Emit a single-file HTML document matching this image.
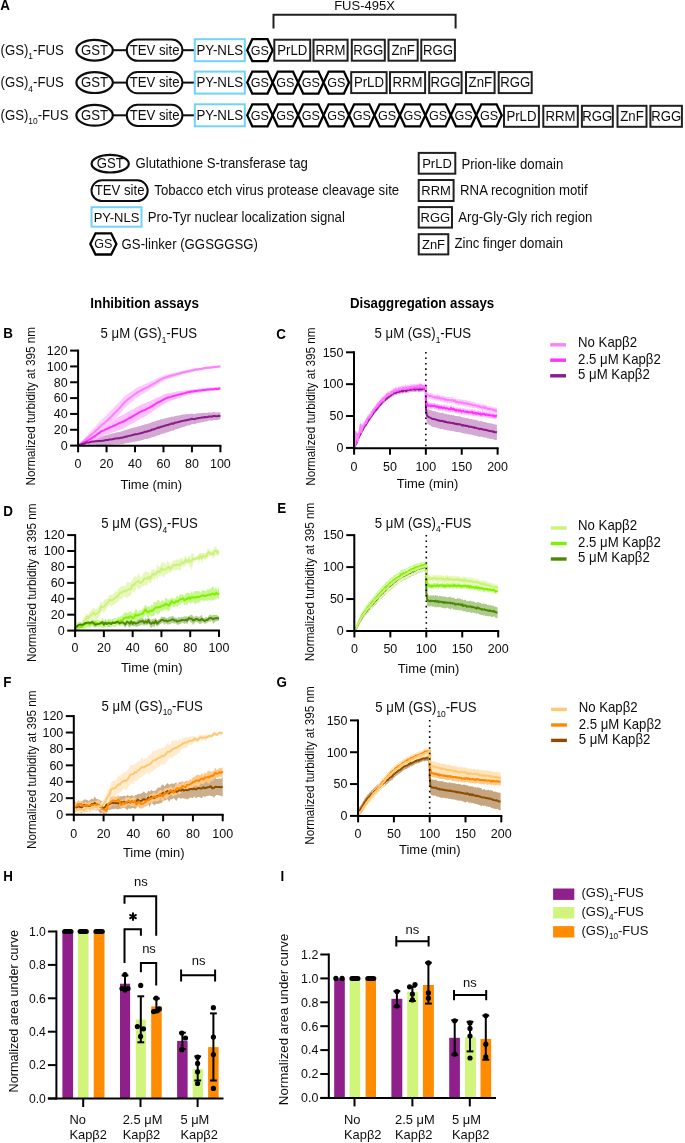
<!DOCTYPE html>
<html><head><meta charset="utf-8"><title>Figure</title>
<style>
html,body{margin:0;padding:0;background:#fff;}
svg{display:block;will-change:transform;}
svg text{font-family:"Liberation Sans", sans-serif;}
</style></head>
<body>
<svg width="685" height="1143" viewBox="0 0 685 1143">
<text transform="translate(0.30,9.90) scale(1,1.04)" font-size="13.4" font-weight="bold" fill="#000">A</text>
<path d="M273.5 28.5 V14.7 H455.6 V28.5" fill="none" stroke="#202020" stroke-width="2"/>
<text transform="translate(364.50,10.00) scale(1,1.04)" font-size="13" text-anchor="middle" fill="#0d0d0d">FUS-495X</text>
<text transform="translate(0.50,54.60) scale(1,1.04)" font-size="13.2" fill="#0d0d0d">(GS)<tspan font-size="8.40" dy="4.6">1</tspan><tspan dy="-4.6">-FUS</tspan></text>
<line x1="113" y1="50.2" x2="127" y2="50.2" stroke="#0d0d0d" stroke-width="2"/>
<line x1="183" y1="50.2" x2="195" y2="50.2" stroke="#0d0d0d" stroke-width="2"/>
<ellipse cx="94.6" cy="50.2" rx="18.2" ry="10.4" fill="#fff" stroke="#0d0d0d" stroke-width="2.2"/>
<text transform="translate(94.60,54.80) scale(1,1.04)" font-size="13.2" text-anchor="middle" fill="#0d0d0d">GST</text>
<rect x="126.8" y="39.6" width="55.6" height="21.2" rx="10.6" ry="10.6" fill="#fff" stroke="#0d0d0d" stroke-width="2"/>
<text transform="translate(154.60,54.80) scale(1,1.04)" font-size="13.2" text-anchor="middle" fill="#0d0d0d">TEV site</text>
<rect x="194.8" y="39.2" width="50" height="22" rx="0" ry="0" fill="#fff" stroke="#72d3f8" stroke-width="2"/>
<text transform="translate(219.80,54.80) scale(1,1.04)" font-size="13.3" text-anchor="middle" fill="#0d0d0d">PY-NLS</text>
<polygon points="247.2,50.2 252.29,39.2 267.56,39.2 272.65,50.2 267.56,61.2 252.29,61.2" fill="#fff" stroke="#000" stroke-width="2.3" stroke-linejoin="miter"/>
<text transform="translate(259.92,54.70) scale(1,1.04)" font-size="12.6" text-anchor="middle" fill="#0d0d0d">GS</text>
<rect x="274.3" y="39.7" width="35.89999999999998" height="21" fill="#fff" stroke="#202020" stroke-width="2"/>
<text transform="translate(292.25,54.80) scale(1,1.04)" font-size="13.2" text-anchor="middle" fill="#0d0d0d">PrLD</text>
<rect x="313.5" y="39.7" width="34.10000000000002" height="21" fill="#fff" stroke="#202020" stroke-width="2"/>
<text transform="translate(330.55,54.80) scale(1,1.04)" font-size="13.2" text-anchor="middle" fill="#0d0d0d">RRM</text>
<rect x="351.8" y="39.7" width="33.0" height="21" fill="#fff" stroke="#202020" stroke-width="2"/>
<text transform="translate(368.30,54.80) scale(1,1.04)" font-size="13.2" text-anchor="middle" fill="#0d0d0d">RGG</text>
<rect x="388.5" y="39.7" width="29.19999999999999" height="21" fill="#fff" stroke="#202020" stroke-width="2"/>
<text transform="translate(403.10,54.80) scale(1,1.04)" font-size="13.2" text-anchor="middle" fill="#0d0d0d">ZnF</text>
<rect x="421.3" y="39.7" width="33.599999999999966" height="21" fill="#fff" stroke="#202020" stroke-width="2"/>
<text transform="translate(438.10,54.80) scale(1,1.04)" font-size="13.2" text-anchor="middle" fill="#0d0d0d">RGG</text>
<text transform="translate(0.50,87.00) scale(1,1.04)" font-size="13.2" fill="#0d0d0d">(GS)<tspan font-size="8.40" dy="4.6">4</tspan><tspan dy="-4.6">-FUS</tspan></text>
<line x1="113" y1="82.6" x2="127" y2="82.6" stroke="#0d0d0d" stroke-width="2"/>
<line x1="183" y1="82.6" x2="195" y2="82.6" stroke="#0d0d0d" stroke-width="2"/>
<ellipse cx="94.6" cy="82.6" rx="18.2" ry="10.4" fill="#fff" stroke="#0d0d0d" stroke-width="2.2"/>
<text transform="translate(94.60,87.20) scale(1,1.04)" font-size="13.2" text-anchor="middle" fill="#0d0d0d">GST</text>
<rect x="126.8" y="72.0" width="55.6" height="21.2" rx="10.6" ry="10.6" fill="#fff" stroke="#0d0d0d" stroke-width="2"/>
<text transform="translate(154.60,87.20) scale(1,1.04)" font-size="13.2" text-anchor="middle" fill="#0d0d0d">TEV site</text>
<rect x="194.8" y="71.6" width="50" height="22" rx="0" ry="0" fill="#fff" stroke="#72d3f8" stroke-width="2"/>
<text transform="translate(219.80,87.20) scale(1,1.04)" font-size="13.3" text-anchor="middle" fill="#0d0d0d">PY-NLS</text>
<polygon points="247.2,82.6 252.29,71.6 267.56,71.6 272.65,82.6 267.56,93.6 252.29,93.6" fill="#fff" stroke="#000" stroke-width="2.3" stroke-linejoin="miter"/>
<text transform="translate(259.92,87.10) scale(1,1.04)" font-size="12.6" text-anchor="middle" fill="#0d0d0d">GS</text>
<polygon points="272.65,82.6 277.73999999999995,71.6 293.01,71.6 298.09999999999997,82.6 293.01,93.6 277.73999999999995,93.6" fill="#fff" stroke="#000" stroke-width="2.3" stroke-linejoin="miter"/>
<text transform="translate(285.38,87.10) scale(1,1.04)" font-size="12.6" text-anchor="middle" fill="#0d0d0d">GS</text>
<polygon points="298.09999999999997,82.6 303.18999999999994,71.6 318.46,71.6 323.54999999999995,82.6 318.46,93.6 303.18999999999994,93.6" fill="#fff" stroke="#000" stroke-width="2.3" stroke-linejoin="miter"/>
<text transform="translate(310.82,87.10) scale(1,1.04)" font-size="12.6" text-anchor="middle" fill="#0d0d0d">GS</text>
<polygon points="323.54999999999995,82.6 328.64,71.6 343.90999999999997,71.6 349.0,82.6 343.90999999999997,93.6 328.64,93.6" fill="#fff" stroke="#000" stroke-width="2.3" stroke-linejoin="miter"/>
<text transform="translate(336.27,87.10) scale(1,1.04)" font-size="12.6" text-anchor="middle" fill="#0d0d0d">GS</text>
<rect x="351.2" y="72.1" width="35.400000000000034" height="21" fill="#fff" stroke="#202020" stroke-width="2"/>
<text transform="translate(368.90,87.20) scale(1,1.04)" font-size="13.2" text-anchor="middle" fill="#0d0d0d">PrLD</text>
<rect x="390" y="72.1" width="35.10000000000002" height="21" fill="#fff" stroke="#202020" stroke-width="2"/>
<text transform="translate(407.55,87.20) scale(1,1.04)" font-size="13.2" text-anchor="middle" fill="#0d0d0d">RRM</text>
<rect x="429.2" y="72.1" width="32.400000000000034" height="21" fill="#fff" stroke="#202020" stroke-width="2"/>
<text transform="translate(445.40,87.20) scale(1,1.04)" font-size="13.2" text-anchor="middle" fill="#0d0d0d">RGG</text>
<rect x="466" y="72.1" width="28.600000000000023" height="21" fill="#fff" stroke="#202020" stroke-width="2"/>
<text transform="translate(480.30,87.20) scale(1,1.04)" font-size="13.2" text-anchor="middle" fill="#0d0d0d">ZnF</text>
<rect x="498.7" y="72.1" width="33.00000000000006" height="21" fill="#fff" stroke="#202020" stroke-width="2"/>
<text transform="translate(515.20,87.20) scale(1,1.04)" font-size="13.2" text-anchor="middle" fill="#0d0d0d">RGG</text>
<text transform="translate(0.50,119.70) scale(1,1.04)" font-size="13.2" fill="#0d0d0d">(GS)<tspan font-size="8.40" dy="4.6">10</tspan><tspan dy="-4.6">-FUS</tspan></text>
<line x1="113" y1="115.3" x2="127" y2="115.3" stroke="#0d0d0d" stroke-width="2"/>
<line x1="183" y1="115.3" x2="195" y2="115.3" stroke="#0d0d0d" stroke-width="2"/>
<ellipse cx="94.6" cy="115.3" rx="18.2" ry="10.4" fill="#fff" stroke="#0d0d0d" stroke-width="2.2"/>
<text transform="translate(94.60,119.90) scale(1,1.04)" font-size="13.2" text-anchor="middle" fill="#0d0d0d">GST</text>
<rect x="126.8" y="104.7" width="55.6" height="21.2" rx="10.6" ry="10.6" fill="#fff" stroke="#0d0d0d" stroke-width="2"/>
<text transform="translate(154.60,119.90) scale(1,1.04)" font-size="13.2" text-anchor="middle" fill="#0d0d0d">TEV site</text>
<rect x="194.8" y="104.3" width="50" height="22" rx="0" ry="0" fill="#fff" stroke="#72d3f8" stroke-width="2"/>
<text transform="translate(219.80,119.90) scale(1,1.04)" font-size="13.3" text-anchor="middle" fill="#0d0d0d">PY-NLS</text>
<polygon points="247.2,115.3 252.29,104.3 267.56,104.3 272.65,115.3 267.56,126.3 252.29,126.3" fill="#fff" stroke="#000" stroke-width="2.3" stroke-linejoin="miter"/>
<text transform="translate(259.92,119.80) scale(1,1.04)" font-size="12.6" text-anchor="middle" fill="#0d0d0d">GS</text>
<polygon points="272.65,115.3 277.73999999999995,104.3 293.01,104.3 298.09999999999997,115.3 293.01,126.3 277.73999999999995,126.3" fill="#fff" stroke="#000" stroke-width="2.3" stroke-linejoin="miter"/>
<text transform="translate(285.38,119.80) scale(1,1.04)" font-size="12.6" text-anchor="middle" fill="#0d0d0d">GS</text>
<polygon points="298.09999999999997,115.3 303.18999999999994,104.3 318.46,104.3 323.54999999999995,115.3 318.46,126.3 303.18999999999994,126.3" fill="#fff" stroke="#000" stroke-width="2.3" stroke-linejoin="miter"/>
<text transform="translate(310.82,119.80) scale(1,1.04)" font-size="12.6" text-anchor="middle" fill="#0d0d0d">GS</text>
<polygon points="323.54999999999995,115.3 328.64,104.3 343.90999999999997,104.3 349.0,115.3 343.90999999999997,126.3 328.64,126.3" fill="#fff" stroke="#000" stroke-width="2.3" stroke-linejoin="miter"/>
<text transform="translate(336.27,119.80) scale(1,1.04)" font-size="12.6" text-anchor="middle" fill="#0d0d0d">GS</text>
<polygon points="349.0,115.3 354.09,104.3 369.36,104.3 374.45,115.3 369.36,126.3 354.09,126.3" fill="#fff" stroke="#000" stroke-width="2.3" stroke-linejoin="miter"/>
<text transform="translate(361.73,119.80) scale(1,1.04)" font-size="12.6" text-anchor="middle" fill="#0d0d0d">GS</text>
<polygon points="374.45,115.3 379.53999999999996,104.3 394.81,104.3 399.9,115.3 394.81,126.3 379.53999999999996,126.3" fill="#fff" stroke="#000" stroke-width="2.3" stroke-linejoin="miter"/>
<text transform="translate(387.17,119.80) scale(1,1.04)" font-size="12.6" text-anchor="middle" fill="#0d0d0d">GS</text>
<polygon points="399.9,115.3 404.99,104.3 420.26,104.3 425.35,115.3 420.26,126.3 404.99,126.3" fill="#fff" stroke="#000" stroke-width="2.3" stroke-linejoin="miter"/>
<text transform="translate(412.62,119.80) scale(1,1.04)" font-size="12.6" text-anchor="middle" fill="#0d0d0d">GS</text>
<polygon points="425.35,115.3 430.44,104.3 445.71,104.3 450.79999999999995,115.3 445.71,126.3 430.44,126.3" fill="#fff" stroke="#000" stroke-width="2.3" stroke-linejoin="miter"/>
<text transform="translate(438.07,119.80) scale(1,1.04)" font-size="12.6" text-anchor="middle" fill="#0d0d0d">GS</text>
<polygon points="450.79999999999995,115.3 455.89,104.3 471.15999999999997,104.3 476.25,115.3 471.15999999999997,126.3 455.89,126.3" fill="#fff" stroke="#000" stroke-width="2.3" stroke-linejoin="miter"/>
<text transform="translate(463.52,119.80) scale(1,1.04)" font-size="12.6" text-anchor="middle" fill="#0d0d0d">GS</text>
<polygon points="476.25,115.3 481.34,104.3 496.61,104.3 501.7,115.3 496.61,126.3 481.34,126.3" fill="#fff" stroke="#000" stroke-width="2.3" stroke-linejoin="miter"/>
<text transform="translate(488.98,119.80) scale(1,1.04)" font-size="12.6" text-anchor="middle" fill="#0d0d0d">GS</text>
<rect x="504" y="105.8" width="34.89999999999998" height="21" fill="#fff" stroke="#202020" stroke-width="2"/>
<text transform="translate(521.45,120.90) scale(1,1.04)" font-size="13.2" text-anchor="middle" fill="#0d0d0d">PrLD</text>
<rect x="543.3" y="105.8" width="34.5" height="21" fill="#fff" stroke="#202020" stroke-width="2"/>
<text transform="translate(560.55,120.90) scale(1,1.04)" font-size="13.2" text-anchor="middle" fill="#0d0d0d">RRM</text>
<rect x="581.9" y="105.8" width="30.899999999999977" height="21" fill="#fff" stroke="#202020" stroke-width="2"/>
<text transform="translate(597.35,120.90) scale(1,1.04)" font-size="13.2" text-anchor="middle" fill="#0d0d0d">RGG</text>
<rect x="617.5" y="105.8" width="29.0" height="21" fill="#fff" stroke="#202020" stroke-width="2"/>
<text transform="translate(632.00,120.90) scale(1,1.04)" font-size="13.2" text-anchor="middle" fill="#0d0d0d">ZnF</text>
<rect x="650.4" y="105.8" width="31.5" height="21" fill="#fff" stroke="#202020" stroke-width="2"/>
<text transform="translate(666.15,120.90) scale(1,1.04)" font-size="13.2" text-anchor="middle" fill="#0d0d0d">RGG</text>
<ellipse cx="110.2" cy="163.7" rx="18.6" ry="8.8" fill="#fff" stroke="#0d0d0d" stroke-width="2.2"/>
<text transform="translate(110.20,168.30) scale(1,1.04)" font-size="13.2" text-anchor="middle" fill="#0d0d0d">GST</text>
<text transform="translate(135.60,168.00) scale(1,1.04)" font-size="13.2" fill="#0d0d0d">Glutathione S-transferase tag</text>
<rect x="91.5" y="180.3" width="56.2" height="20.8" rx="10.4" ry="10.4" fill="#fff" stroke="#0d0d0d" stroke-width="2"/>
<text transform="translate(119.60,195.30) scale(1,1.04)" font-size="13.2" text-anchor="middle" fill="#0d0d0d">TEV site</text>
<text transform="translate(154.30,195.20) scale(1,1.04)" font-size="13.2" fill="#0d0d0d">Tobacco etch virus protease cleavage site</text>
<rect x="91.5" y="207.2" width="50" height="19.5" rx="0" ry="0" fill="#fff" stroke="#72d3f8" stroke-width="2"/>
<text transform="translate(116.50,221.55) scale(1,1.04)" font-size="13" text-anchor="middle" fill="#0d0d0d">PY-NLS</text>
<text transform="translate(147.70,221.90) scale(1,1.04)" font-size="13.2" fill="#0d0d0d">Pro-Tyr nuclear localization signal</text>
<polygon points="90.3,243.9 95.52,233.3 111.18,233.3 116.4,243.9 111.18,254.5 95.52,254.5" fill="#fff" stroke="#000" stroke-width="2.3" stroke-linejoin="miter"/>
<text transform="translate(103.35,248.40) scale(1,1.04)" font-size="12.6" text-anchor="middle" fill="#0d0d0d">GS</text>
<text transform="translate(121.60,248.50) scale(1,1.04)" font-size="13.2" fill="#0d0d0d">GS-linker (GGSGGSG)</text>
<rect x="418.7" y="152.9" width="36.60000000000002" height="20.799999999999983" fill="#fff" stroke="#202020" stroke-width="2"/>
<text transform="translate(437.00,167.90) scale(1,1.04)" font-size="13" text-anchor="middle" fill="#0d0d0d">PrLD</text>
<text transform="translate(461.40,168.80) scale(1,1.04)" font-size="13.2" fill="#0d0d0d">Prion-like domain</text>
<rect x="418.7" y="180.0" width="34.900000000000034" height="21.0" fill="#fff" stroke="#202020" stroke-width="2"/>
<text transform="translate(436.15,195.10) scale(1,1.04)" font-size="13" text-anchor="middle" fill="#0d0d0d">RRM</text>
<text transform="translate(460.10,194.80) scale(1,1.04)" font-size="13.2" fill="#0d0d0d">RNA recognition motif</text>
<rect x="418.7" y="207.1" width="33.30000000000001" height="20.5" fill="#fff" stroke="#202020" stroke-width="2"/>
<text transform="translate(435.35,221.95) scale(1,1.04)" font-size="13" text-anchor="middle" fill="#0d0d0d">RGG</text>
<text transform="translate(458.20,221.70) scale(1,1.04)" font-size="13.2" fill="#0d0d0d">Arg-Gly-Gly rich region</text>
<rect x="418.7" y="234.2" width="29.600000000000023" height="20.200000000000017" fill="#fff" stroke="#202020" stroke-width="2"/>
<text transform="translate(433.50,248.90) scale(1,1.04)" font-size="13" text-anchor="middle" fill="#0d0d0d">ZnF</text>
<text transform="translate(454.50,248.20) scale(1,1.04)" font-size="13.2" fill="#0d0d0d">Zinc finger domain</text>
<text transform="translate(144.60,308.20) scale(1,1.04)" font-size="13.4" font-weight="bold" text-anchor="middle" fill="#000">Inhibition assays</text>
<text transform="translate(422.10,308.20) scale(1,1.04)" font-size="13.25" font-weight="bold" text-anchor="middle" fill="#000">Disaggregation assays</text>
<text transform="translate(3.30,337.80) scale(1,1.04)" font-size="13.4" font-weight="bold" fill="#000">B</text>
<text transform="translate(276.30,338.80) scale(1,1.04)" font-size="13.4" font-weight="bold" fill="#000">C</text>
<text transform="translate(3.20,515.70) scale(1,1.04)" font-size="13.4" font-weight="bold" fill="#000">D</text>
<text transform="translate(277.20,512.90) scale(1,1.04)" font-size="13.4" font-weight="bold" fill="#000">E</text>
<text transform="translate(3.20,687.00) scale(1,1.04)" font-size="13.4" font-weight="bold" fill="#000">F</text>
<text transform="translate(276.40,686.50) scale(1,1.04)" font-size="13.4" font-weight="bold" fill="#000">G</text>
<text transform="translate(3.20,880.80) scale(1,1.04)" font-size="13.4" font-weight="bold" fill="#000">H</text>
<text transform="translate(280.50,880.50) scale(1,1.04)" font-size="13.4" font-weight="bold" fill="#000">I</text>
<g>
<polygon points="78.1,445.2 79.5,444.5 80.9,444.1 82.4,442.9 83.8,442.3 85.2,441.6 86.6,440.5 88.1,440.1 89.5,439.5 90.9,438.8 92.3,438.3 93.8,438.1 95.2,437.6 96.6,437.5 98.0,437.1 99.4,436.7 100.9,436.6 102.3,436.3 103.7,436.0 105.1,435.4 106.6,435.1 108.0,434.7 109.4,434.3 110.8,434.2 112.3,433.6 113.7,433.2 115.1,432.8 116.5,432.6 117.9,432.2 119.4,432.1 120.8,431.4 122.2,431.3 123.6,430.8 125.1,430.0 126.5,430.1 127.9,429.2 129.3,428.9 130.8,428.6 132.2,428.1 133.6,427.7 135.0,427.2 136.4,427.0 137.9,426.6 139.3,426.2 140.7,425.9 142.1,425.3 143.6,425.0 145.0,424.2 146.4,424.3 147.8,423.7 149.2,423.2 150.7,422.9 152.1,421.8 153.5,422.0 154.9,421.3 156.4,420.9 157.8,420.1 159.2,420.2 160.6,419.3 162.1,419.2 163.5,418.7 164.9,418.4 166.3,417.8 167.7,417.8 169.2,417.3 170.6,416.9 172.0,416.4 173.4,416.8 174.9,415.9 176.3,415.7 177.7,415.7 179.1,415.3 180.6,415.2 182.0,414.6 183.4,414.6 184.8,414.5 186.2,414.3 187.7,414.1 189.1,414.0 190.5,414.0 191.9,413.4 193.4,413.9 194.8,414.1 196.2,413.4 197.6,413.4 199.1,413.2 200.5,413.2 201.9,413.1 203.3,412.9 204.7,412.7 206.2,412.9 207.6,412.8 209.0,412.3 210.4,412.5 211.9,412.7 213.3,412.1 214.7,412.3 216.1,412.4 217.6,412.5 219.0,412.2 220.4,412.3 220.4,419.4 219.0,419.5 217.6,419.9 216.1,420.0 214.7,420.0 213.3,419.9 211.9,420.7 210.4,420.6 209.0,420.6 207.6,421.2 206.2,421.5 204.7,421.5 203.3,421.9 201.9,422.2 200.5,422.5 199.1,422.7 197.6,423.1 196.2,423.4 194.8,424.3 193.4,424.3 191.9,424.1 190.5,424.9 189.1,425.2 187.7,425.6 186.2,426.0 184.8,426.5 183.4,426.9 182.0,427.2 180.6,428.0 179.1,428.3 177.7,428.9 176.3,429.2 174.9,429.6 173.4,430.7 172.0,430.5 170.6,431.2 169.2,431.7 167.7,432.3 166.3,432.5 164.9,433.2 163.5,433.6 162.1,434.1 160.6,434.3 159.2,435.3 157.8,435.2 156.4,436.0 154.9,436.4 153.5,437.2 152.1,436.9 150.7,438.0 149.2,438.2 147.8,438.7 146.4,439.2 145.0,439.1 143.6,439.8 142.1,440.1 140.7,440.6 139.3,440.8 137.9,441.1 136.4,441.4 135.0,441.5 133.6,441.8 132.2,442.1 130.8,442.5 129.3,442.7 127.9,442.8 126.5,443.5 125.1,443.2 123.6,443.9 122.2,444.2 120.8,444.1 119.4,444.5 117.9,444.4 116.5,444.6 115.1,444.5 113.7,444.7 112.3,444.8 110.8,445.1 109.4,445.0 108.0,445.1 106.6,445.1 105.1,445.1 103.7,445.3 102.3,445.3 100.9,445.2 99.4,445.1 98.0,445.0 96.6,445.0 95.2,444.8 93.8,444.8 92.3,444.6 90.9,444.7 89.5,444.8 88.1,444.8 86.6,444.6 85.2,445.0 83.8,445.1 82.4,445.0 80.9,445.4 79.5,445.3 78.1,446.0" fill="#d3a8d3" stroke="none"/>
<polygon points="78.1,445.0 79.5,444.5 80.9,443.2 82.4,442.0 83.8,440.7 85.2,439.7 86.6,438.4 88.1,437.2 89.5,436.1 90.9,434.9 92.3,433.8 93.8,432.6 95.2,431.5 96.6,430.1 98.0,429.0 99.4,428.0 100.9,426.5 102.3,425.6 103.7,424.8 105.1,424.0 106.6,423.2 108.0,422.5 109.4,421.8 110.8,421.0 112.3,420.4 113.7,419.4 115.1,418.9 116.5,418.1 117.9,417.3 119.4,416.6 120.8,415.9 122.2,415.1 123.6,414.7 125.1,413.6 126.5,412.8 127.9,412.1 129.3,411.1 130.8,410.5 132.2,409.5 133.6,408.9 135.0,407.9 136.4,407.2 137.9,406.5 139.3,405.4 140.7,404.8 142.1,404.3 143.6,403.7 145.0,403.3 146.4,402.8 147.8,402.0 149.2,401.6 150.7,400.7 152.1,400.2 153.5,399.4 154.9,398.8 156.4,397.8 157.8,397.2 159.2,396.7 160.6,396.1 162.1,395.4 163.5,394.8 164.9,394.3 166.3,393.7 167.7,393.3 169.2,393.0 170.6,392.8 172.0,392.4 173.4,392.2 174.9,391.9 176.3,391.8 177.7,391.3 179.1,391.3 180.6,391.1 182.0,390.7 183.4,390.5 184.8,390.3 186.2,390.0 187.7,389.7 189.1,389.8 190.5,389.4 191.9,389.2 193.4,389.1 194.8,388.9 196.2,388.9 197.6,388.6 199.1,388.6 200.5,388.4 201.9,388.3 203.3,388.2 204.7,388.1 206.2,387.9 207.6,387.6 209.0,387.6 210.4,387.5 211.9,387.4 213.3,387.5 214.7,387.3 216.1,387.1 217.6,387.3 219.0,387.0 220.4,386.9 220.4,390.1 219.0,390.3 217.6,390.6 216.1,390.4 214.7,390.7 213.3,390.9 211.9,391.0 210.4,391.1 209.0,391.2 207.6,391.3 206.2,391.6 204.7,391.9 203.3,392.1 201.9,392.3 200.5,392.4 199.1,392.7 197.6,392.8 196.2,393.3 194.8,393.3 193.4,393.7 191.9,394.0 190.5,394.3 189.1,394.8 187.7,394.9 186.2,395.4 184.8,396.0 183.4,396.4 182.0,396.8 180.6,397.5 179.1,397.9 177.7,398.2 176.3,398.9 174.9,399.3 173.4,399.9 172.0,400.3 170.6,401.0 169.2,401.5 167.7,402.0 166.3,402.7 164.9,403.6 163.5,404.3 162.1,405.2 160.6,406.2 159.2,407.0 157.8,407.8 156.4,408.7 154.9,410.0 153.5,410.9 152.1,412.1 150.7,412.9 149.2,414.0 147.8,414.7 146.4,415.7 145.0,416.5 143.6,417.0 142.1,417.7 140.7,418.4 139.3,419.0 137.9,420.3 136.4,421.1 135.0,421.8 133.6,422.9 132.2,423.5 130.8,424.5 129.3,425.0 127.9,426.0 126.5,426.7 125.1,427.5 123.6,428.4 122.2,428.7 120.8,429.4 119.4,429.9 117.9,430.5 116.5,431.0 115.1,431.7 113.7,432.0 112.3,432.8 110.8,433.1 109.4,433.7 108.0,434.2 106.6,434.7 105.1,435.1 103.7,435.7 102.3,436.2 100.9,436.7 99.4,437.9 98.0,438.5 96.6,439.3 95.2,440.2 93.8,441.0 92.3,441.7 90.9,442.3 89.5,442.9 88.1,443.3 86.6,443.6 85.2,444.1 83.8,444.2 82.4,444.6 80.9,444.9 79.5,445.3 78.1,445.8" fill="#ffc2ff" stroke="none"/>
<polygon points="78.1,445.1 79.5,443.9 80.9,442.4 82.4,440.9 83.8,439.3 85.2,437.6 86.6,436.1 88.1,434.5 89.5,432.8 90.9,431.3 92.3,429.7 93.8,428.3 95.2,426.7 96.6,425.2 98.0,423.8 99.4,422.1 100.9,420.6 102.3,419.0 103.7,417.9 105.1,416.6 106.6,415.0 108.0,413.6 109.4,412.1 110.8,410.7 112.3,409.2 113.7,407.6 115.1,406.2 116.5,404.8 117.9,403.5 119.4,402.0 120.8,400.6 122.2,398.9 123.6,397.2 125.1,395.7 126.5,394.8 127.9,393.7 129.3,392.7 130.8,391.9 132.2,390.9 133.6,390.0 135.0,388.8 136.4,388.1 137.9,387.2 139.3,386.5 140.7,385.9 142.1,385.4 143.6,384.6 145.0,384.1 146.4,383.4 147.8,383.0 149.2,382.3 150.7,381.5 152.1,380.8 153.5,380.4 154.9,379.6 156.4,378.8 157.8,378.0 159.2,377.3 160.6,376.7 162.1,376.2 163.5,375.5 164.9,374.9 166.3,374.6 167.7,374.3 169.2,373.9 170.6,373.4 172.0,373.3 173.4,372.9 174.9,372.6 176.3,372.2 177.7,371.9 179.1,371.6 180.6,371.1 182.0,370.9 183.4,370.4 184.8,370.3 186.2,370.0 187.7,369.6 189.1,369.6 190.5,369.1 191.9,368.8 193.4,368.7 194.8,368.3 196.2,368.1 197.6,368.1 199.1,367.7 200.5,367.5 201.9,367.3 203.3,367.1 204.7,366.7 206.2,366.7 207.6,366.5 209.0,366.3 210.4,366.4 211.9,365.9 213.3,366.0 214.7,365.7 216.1,365.7 217.6,365.6 219.0,365.4 220.4,365.1 220.4,367.4 219.0,367.8 217.6,368.1 216.1,368.2 214.7,368.2 213.3,368.5 211.9,368.5 210.4,368.9 209.0,368.9 207.6,369.1 206.2,369.3 204.7,369.4 203.3,369.8 201.9,370.1 200.5,370.3 199.1,370.5 197.6,371.0 196.2,371.1 194.8,371.3 193.4,371.8 191.9,372.0 190.5,372.3 189.1,372.9 187.7,373.0 186.2,373.5 184.8,373.9 183.4,374.1 182.0,374.6 180.6,375.0 179.1,375.6 177.7,376.0 176.3,376.5 174.9,377.0 173.4,377.3 172.0,377.9 170.6,378.2 169.2,378.8 167.7,379.4 166.3,379.8 164.9,380.3 163.5,381.0 162.1,381.9 160.6,382.6 159.2,383.5 157.8,384.4 156.4,385.4 154.9,386.5 153.5,387.4 152.1,388.1 150.7,389.1 149.2,390.2 147.8,391.2 146.4,391.8 145.0,392.8 143.6,393.5 142.1,394.6 140.7,395.3 139.3,396.1 137.9,397.1 136.4,398.2 135.0,399.1 133.6,400.5 132.2,401.6 130.8,402.8 129.3,403.9 127.9,405.1 126.5,406.4 125.1,407.7 123.6,409.3 122.2,411.2 120.8,413.0 119.4,414.5 117.9,416.2 116.5,417.6 115.1,418.9 113.7,420.3 112.3,421.8 110.8,423.2 109.4,424.3 108.0,425.7 106.6,426.9 105.1,428.1 103.7,429.1 102.3,429.9 100.9,431.2 99.4,432.3 98.0,433.6 96.6,434.5 95.2,435.6 93.8,436.8 92.3,437.6 90.9,438.6 89.5,439.5 88.1,440.5 86.6,441.2 85.2,441.9 83.8,442.7 82.4,443.4 80.9,444.1 79.5,444.7 78.1,445.9" fill="#ffccff" stroke="none"/>
<polyline points="78.1,445.5 79.5,444.3 80.9,443.2 82.4,442.1 83.8,441.0 85.2,439.7 86.6,438.6 88.1,437.5 89.5,436.1 90.9,434.9 92.3,433.7 93.8,432.6 95.2,431.2 96.6,429.9 98.0,428.7 99.4,427.2 100.9,425.9 102.3,424.4 103.7,423.5 105.1,422.4 106.6,420.9 108.0,419.7 109.4,418.2 110.8,416.9 112.3,415.5 113.7,414.0 115.1,412.6 116.5,411.2 117.9,409.9 119.4,408.2 120.8,406.8 122.2,405.0 123.6,403.3 125.1,401.7 126.5,400.6 127.9,399.4 129.3,398.3 130.8,397.4 132.2,396.2 133.6,395.2 135.0,394.0 136.4,393.2 137.9,392.2 139.3,391.3 140.7,390.6 142.1,390.0 143.6,389.0 145.0,388.4 146.4,387.6 147.8,387.1 149.2,386.3 150.7,385.3 152.1,384.5 153.5,383.9 154.9,383.0 156.4,382.1 157.8,381.2 159.2,380.4 160.6,379.6 162.1,379.0 163.5,378.2 164.9,377.6 166.3,377.2 167.7,376.8 169.2,376.3 170.6,375.8 172.0,375.6 173.4,375.1 174.9,374.8 176.3,374.4 177.7,374.0 179.1,373.6 180.6,373.0 182.0,372.7 183.4,372.3 184.8,372.1 186.2,371.7 187.7,371.3 189.1,371.3 190.5,370.7 191.9,370.4 193.4,370.2 194.8,369.8 196.2,369.6 197.6,369.5 199.1,369.1 200.5,368.9 201.9,368.7 203.3,368.4 204.7,368.1 206.2,368.0 207.6,367.8 209.0,367.6 210.4,367.7 211.9,367.2 213.3,367.3 214.7,367.0 216.1,367.0 217.6,366.8 219.0,366.6 220.4,366.2" fill="none" stroke="#ff80ff" stroke-width="2" stroke-linejoin="round"/>
<polyline points="78.1,445.4 79.5,444.9 80.9,444.0 82.4,443.3 83.8,442.4 85.2,441.9 86.6,441.0 88.1,440.2 89.5,439.5 90.9,438.6 92.3,437.7 93.8,436.8 95.2,435.9 96.6,434.7 98.0,433.7 99.4,433.0 100.9,431.6 102.3,430.9 103.7,430.3 105.1,429.6 106.6,429.0 108.0,428.3 109.4,427.8 110.8,427.0 112.3,426.6 113.7,425.7 115.1,425.3 116.5,424.6 117.9,423.9 119.4,423.2 120.8,422.6 122.2,421.9 123.6,421.6 125.1,420.5 126.5,419.8 127.9,419.0 129.3,418.0 130.8,417.5 132.2,416.5 133.6,415.9 135.0,414.8 136.4,414.2 137.9,413.4 139.3,412.2 140.7,411.6 142.1,411.0 143.6,410.4 145.0,409.9 146.4,409.2 147.8,408.4 149.2,407.8 150.7,406.8 152.1,406.2 153.5,405.1 154.9,404.4 156.4,403.3 157.8,402.5 159.2,401.8 160.6,401.2 162.1,400.3 163.5,399.5 164.9,398.9 166.3,398.2 167.7,397.6 169.2,397.3 170.6,396.9 172.0,396.4 173.4,396.1 174.9,395.6 176.3,395.4 177.7,394.8 179.1,394.6 180.6,394.3 182.0,393.8 183.4,393.5 184.8,393.1 186.2,392.7 187.7,392.3 189.1,392.3 190.5,391.8 191.9,391.6 193.4,391.4 194.8,391.1 196.2,391.1 197.6,390.7 199.1,390.6 200.5,390.4 201.9,390.3 203.3,390.1 204.7,390.0 206.2,389.8 207.6,389.4 209.0,389.4 210.4,389.3 211.9,389.2 213.3,389.2 214.7,389.0 216.1,388.7 217.6,389.0 219.0,388.6 220.4,388.5" fill="none" stroke="#ff33ff" stroke-width="2" stroke-linejoin="round"/>
<polyline points="78.1,445.6 79.5,444.9 80.9,444.8 82.4,444.0 83.8,443.7 85.2,443.3 86.6,442.5 88.1,442.5 89.5,442.2 90.9,441.8 92.3,441.5 93.8,441.4 95.2,441.2 96.6,441.3 98.0,441.0 99.4,440.9 100.9,440.9 102.3,440.8 103.7,440.7 105.1,440.3 106.6,440.1 108.0,439.9 109.4,439.6 110.8,439.6 112.3,439.2 113.7,438.9 115.1,438.6 116.5,438.6 117.9,438.3 119.4,438.3 120.8,437.8 122.2,437.7 123.6,437.3 125.1,436.6 126.5,436.8 127.9,436.0 129.3,435.8 130.8,435.5 132.2,435.1 133.6,434.7 135.0,434.3 136.4,434.2 137.9,433.9 139.3,433.5 140.7,433.2 142.1,432.7 143.6,432.4 145.0,431.7 146.4,431.7 147.8,431.2 149.2,430.7 150.7,430.5 152.1,429.4 153.5,429.6 154.9,428.8 156.4,428.4 157.8,427.6 159.2,427.7 160.6,426.8 162.1,426.7 163.5,426.1 164.9,425.8 166.3,425.2 167.7,425.1 169.2,424.5 170.6,424.0 172.0,423.4 173.4,423.7 174.9,422.7 176.3,422.5 177.7,422.3 179.1,421.8 180.6,421.6 182.0,420.9 183.4,420.8 184.8,420.5 186.2,420.2 187.7,419.9 189.1,419.6 190.5,419.4 191.9,418.7 193.4,419.1 194.8,419.2 196.2,418.4 197.6,418.2 199.1,417.9 200.5,417.8 201.9,417.6 203.3,417.4 204.7,417.1 206.2,417.2 207.6,417.0 209.0,416.5 210.4,416.6 211.9,416.7 213.3,416.0 214.7,416.1 216.1,416.2 217.6,416.2 219.0,415.8 220.4,415.9" fill="none" stroke="#8b1a8b" stroke-width="2" stroke-linejoin="round"/>
<line x1="78.1" y1="349.60" x2="78.1" y2="446.8" stroke="#000" stroke-width="2"/>
<line x1="77.1" y1="445.8" x2="221.40" y2="445.8" stroke="#000" stroke-width="2"/>
<line x1="70.1" y1="445.60" x2="78.1" y2="445.60" stroke="#000" stroke-width="2"/>
<text transform="translate(67.60,449.90) scale(1,1.04)" font-size="12.5" text-anchor="end" fill="#0d0d0d">0</text>
<line x1="70.1" y1="429.77" x2="78.1" y2="429.77" stroke="#000" stroke-width="2"/>
<text transform="translate(67.60,434.07) scale(1,1.04)" font-size="12.5" text-anchor="end" fill="#0d0d0d">20</text>
<line x1="70.1" y1="413.93" x2="78.1" y2="413.93" stroke="#000" stroke-width="2"/>
<text transform="translate(67.60,418.23) scale(1,1.04)" font-size="12.5" text-anchor="end" fill="#0d0d0d">40</text>
<line x1="70.1" y1="398.10" x2="78.1" y2="398.10" stroke="#000" stroke-width="2"/>
<text transform="translate(67.60,402.40) scale(1,1.04)" font-size="12.5" text-anchor="end" fill="#0d0d0d">60</text>
<line x1="70.1" y1="382.26" x2="78.1" y2="382.26" stroke="#000" stroke-width="2"/>
<text transform="translate(67.60,386.56) scale(1,1.04)" font-size="12.5" text-anchor="end" fill="#0d0d0d">80</text>
<line x1="70.1" y1="366.43" x2="78.1" y2="366.43" stroke="#000" stroke-width="2"/>
<text transform="translate(67.60,370.73) scale(1,1.04)" font-size="12.5" text-anchor="end" fill="#0d0d0d">100</text>
<line x1="70.1" y1="350.60" x2="78.1" y2="350.60" stroke="#000" stroke-width="2"/>
<text transform="translate(67.60,354.90) scale(1,1.04)" font-size="12.5" text-anchor="end" fill="#0d0d0d">120</text>
<line x1="78.10" y1="445.8" x2="78.10" y2="452.3" stroke="#000" stroke-width="2"/>
<text transform="translate(78.10,467.60) scale(1,1.04)" font-size="12.5" text-anchor="middle" fill="#0d0d0d">0</text>
<line x1="106.56" y1="445.8" x2="106.56" y2="452.3" stroke="#000" stroke-width="2"/>
<text transform="translate(106.56,467.60) scale(1,1.04)" font-size="12.5" text-anchor="middle" fill="#0d0d0d">20</text>
<line x1="135.02" y1="445.8" x2="135.02" y2="452.3" stroke="#000" stroke-width="2"/>
<text transform="translate(135.02,467.60) scale(1,1.04)" font-size="12.5" text-anchor="middle" fill="#0d0d0d">40</text>
<line x1="163.48" y1="445.8" x2="163.48" y2="452.3" stroke="#000" stroke-width="2"/>
<text transform="translate(163.48,467.60) scale(1,1.04)" font-size="12.5" text-anchor="middle" fill="#0d0d0d">60</text>
<line x1="191.94" y1="445.8" x2="191.94" y2="452.3" stroke="#000" stroke-width="2"/>
<text transform="translate(191.94,467.60) scale(1,1.04)" font-size="12.5" text-anchor="middle" fill="#0d0d0d">80</text>
<line x1="220.40" y1="445.8" x2="220.40" y2="452.3" stroke="#000" stroke-width="2"/>
<text transform="translate(220.40,467.60) scale(1,1.04)" font-size="12.5" text-anchor="middle" fill="#0d0d0d">100</text>
<text transform="translate(151.30,489.40) scale(1,1.04)" font-size="13" text-anchor="middle" fill="#0d0d0d">Time (min)</text>
<text transform="translate(35.3,406.25) rotate(-90) scale(0.872,1)" font-size="13.4" text-anchor="middle" fill="#0d0d0d">Normalized turbidity at 395 nm</text>
<text transform="translate(100.60,337.90) scale(1,1.04)" font-size="13.2" fill="#0d0d0d">5 μM (GS)<tspan font-size="8.40" dy="4.6">1</tspan><tspan dy="-4.6">-FUS</tspan></text>
</g>
<g>
<polygon points="354.1,446.1 354.8,444.2 355.5,442.8 356.3,441.2 357.0,439.8 357.7,438.1 358.4,436.2 359.1,434.8 359.8,433.1 360.6,431.7 361.3,430.2 362.0,428.8 362.7,428.0 363.4,426.1 364.1,425.0 364.9,423.8 365.6,423.2 366.3,422.1 367.0,420.7 367.7,419.5 368.5,418.2 369.2,417.2 369.9,416.0 370.6,415.3 371.3,414.0 372.0,413.0 372.8,412.2 373.5,410.6 374.2,410.0 374.9,408.9 375.6,408.4 376.3,407.5 377.1,406.5 377.8,405.5 378.5,404.4 379.2,403.6 379.9,403.0 380.6,402.3 381.4,401.3 382.1,400.1 382.8,399.9 383.5,398.9 384.2,398.1 385.0,397.9 385.7,396.9 386.4,395.9 387.1,396.2 387.8,395.2 388.5,394.6 389.3,394.3 390.0,393.5 390.7,393.1 391.4,393.1 392.1,392.1 392.8,391.7 393.6,391.2 394.3,390.8 395.0,390.7 395.7,390.4 396.4,390.5 397.2,389.7 397.9,389.8 398.6,389.5 399.3,389.5 400.0,389.2 400.7,389.0 401.5,388.4 402.2,389.1 402.9,388.8 403.6,388.3 404.3,387.9 405.0,388.0 405.8,388.6 406.5,388.6 407.2,387.8 407.9,388.0 408.6,388.0 409.3,387.3 410.1,387.2 410.8,387.4 411.5,387.3 412.2,387.2 412.9,386.8 413.7,387.0 414.4,387.0 415.1,386.9 415.8,387.4 416.5,386.6 417.2,386.6 418.0,386.7 418.7,387.3 419.4,386.9 420.1,386.5 420.8,387.1 421.5,386.6 422.3,386.3 423.0,386.9 423.7,386.1 424.4,386.3 425.1,386.5 425.9,386.3 425.9,401.4 426.6,407.2 427.3,409.0 428.0,409.2 428.7,409.5 429.4,409.8 430.2,409.9 430.9,410.2 431.6,410.6 432.3,410.8 433.0,411.1 433.7,411.0 434.5,411.2 435.2,411.2 435.9,411.6 436.6,411.9 437.3,412.0 438.1,412.3 438.8,412.8 439.5,412.4 440.2,412.8 440.9,412.9 441.6,413.1 442.4,412.6 443.1,413.1 443.8,413.4 444.5,413.9 445.2,413.6 445.9,414.1 446.7,413.8 447.4,414.5 448.1,414.4 448.8,414.3 449.5,414.8 450.3,414.7 451.0,414.9 451.7,414.8 452.4,415.3 453.1,415.2 453.8,415.0 454.6,415.9 455.3,415.9 456.0,415.7 456.7,416.1 457.4,416.4 458.1,416.0 458.9,416.2 459.6,416.3 460.3,416.5 461.0,416.7 461.7,417.2 462.4,417.6 463.2,417.2 463.9,417.7 464.6,417.6 465.3,417.7 466.0,418.2 466.8,418.1 467.5,417.9 468.2,418.2 468.9,418.9 469.6,418.7 470.3,418.9 471.1,418.9 471.8,419.0 472.5,419.4 473.2,419.5 473.9,419.5 474.6,420.1 475.4,419.8 476.1,420.1 476.8,420.4 477.5,420.6 478.2,420.6 479.0,421.1 479.7,421.4 480.4,421.0 481.1,421.0 481.8,421.5 482.5,421.6 483.3,421.8 484.0,422.1 484.7,422.0 485.4,422.1 486.1,422.4 486.8,422.4 487.6,422.9 488.3,422.8 489.0,423.2 489.7,423.3 490.4,423.3 491.1,423.5 491.9,423.5 492.6,423.7 493.3,424.2 494.0,423.9 494.7,424.6 495.5,424.5 496.2,424.6 496.9,424.8 496.9,440.1 496.2,439.9 495.5,439.8 494.7,440.0 494.0,439.2 493.3,439.6 492.6,439.1 491.9,438.9 491.1,438.9 490.4,438.7 489.7,438.7 489.0,438.6 488.3,438.3 487.6,438.4 486.8,437.8 486.1,437.8 485.4,437.5 484.7,437.5 484.0,437.6 483.3,437.3 482.5,437.1 481.8,437.0 481.1,436.5 480.4,436.6 479.7,437.0 479.0,436.7 478.2,436.2 477.5,436.2 476.8,436.0 476.1,435.7 475.4,435.4 474.6,435.8 473.9,435.2 473.2,435.2 472.5,435.1 471.8,434.8 471.1,434.6 470.3,434.6 469.6,434.5 468.9,434.6 468.2,434.0 467.5,433.7 466.8,434.0 466.0,434.0 465.3,433.5 464.6,433.4 463.9,433.5 463.2,433.1 462.4,433.5 461.7,433.0 461.0,432.6 460.3,432.4 459.6,432.2 458.9,432.1 458.1,431.9 457.4,432.3 456.7,432.1 456.0,431.7 455.3,431.8 454.6,431.8 453.8,431.0 453.1,431.1 452.4,431.3 451.7,430.8 451.0,430.9 450.3,430.8 449.5,430.8 448.8,430.3 448.1,430.4 447.4,430.5 446.7,429.9 445.9,430.1 445.2,429.7 444.5,429.9 443.8,429.5 443.1,429.2 442.4,428.7 441.6,429.1 440.9,428.9 440.2,428.9 439.5,428.4 438.8,428.8 438.1,428.3 437.3,428.0 436.6,427.8 435.9,427.6 435.2,427.2 434.5,427.2 433.7,427.0 433.0,427.0 432.3,426.7 431.6,426.3 430.9,425.9 430.2,425.3 429.4,425.0 428.7,424.5 428.0,423.9 427.3,423.4 426.6,421.4 425.9,415.4 425.9,391.4 425.1,391.6 424.4,391.4 423.7,391.2 423.0,391.9 422.3,391.3 421.5,391.7 420.8,392.1 420.1,391.5 419.4,391.9 418.7,392.2 418.0,391.7 417.2,391.6 416.5,391.5 415.8,392.3 415.1,391.8 414.4,391.9 413.7,391.9 412.9,391.7 412.2,392.0 411.5,392.1 410.8,392.2 410.1,392.0 409.3,392.1 408.6,392.7 407.9,392.7 407.2,392.5 406.5,393.4 405.8,393.3 405.0,392.7 404.3,392.6 403.6,393.0 402.9,393.5 402.2,393.8 401.5,393.0 400.7,393.6 400.0,393.9 399.3,394.1 398.6,394.1 397.9,394.4 397.2,394.3 396.4,395.0 395.7,395.0 395.0,395.2 394.3,395.3 393.6,395.8 392.8,396.2 392.1,396.6 391.4,397.5 390.7,397.6 390.0,397.9 389.3,398.7 388.5,399.1 387.8,399.6 387.1,400.6 386.4,400.3 385.7,401.3 385.0,402.3 384.2,402.5 383.5,403.2 382.8,404.2 382.1,404.4 381.4,405.6 380.6,406.5 379.9,407.2 379.2,407.9 378.5,408.7 377.8,409.7 377.1,410.7 376.3,411.7 375.6,412.6 374.9,413.1 374.2,414.2 373.5,414.8 372.8,416.4 372.0,417.1 371.3,418.1 370.6,419.4 369.9,420.1 369.2,421.3 368.5,422.3 367.7,423.6 367.0,424.8 366.3,426.1 365.6,427.2 364.9,427.8 364.1,429.0 363.4,430.1 362.7,431.9 362.0,432.8 361.3,434.2 360.6,435.7 359.8,437.0 359.1,438.7 358.4,440.1 357.7,441.9 357.0,443.7 356.3,445.1 355.5,446.7 354.8,448.1 354.1,449.9" fill="#d3a8d3" stroke="none"/>
<polygon points="354.1,446.0 354.8,444.0 355.5,441.2 356.3,440.8 357.0,437.8 357.7,437.2 358.4,433.8 359.1,432.5 359.8,430.3 360.6,429.6 361.3,427.6 362.0,426.4 362.7,425.3 363.4,423.6 364.1,423.1 364.9,421.4 365.6,419.7 366.3,418.9 367.0,418.1 367.7,415.6 368.5,415.7 369.2,414.9 369.9,413.5 370.6,412.8 371.3,411.8 372.0,410.8 372.8,408.6 373.5,408.6 374.2,407.6 374.9,406.4 375.6,404.7 376.3,404.9 377.1,404.2 377.8,401.7 378.5,402.8 379.2,401.4 379.9,400.0 380.6,398.4 381.4,399.2 382.1,399.1 382.8,396.8 383.5,396.7 384.2,395.9 385.0,394.8 385.7,394.2 386.4,393.6 387.1,393.4 387.8,391.9 388.5,391.3 389.3,391.5 390.0,391.3 390.7,390.2 391.4,389.9 392.1,390.3 392.8,389.6 393.6,388.4 394.3,388.6 395.0,388.4 395.7,387.8 396.4,387.6 397.2,387.3 397.9,388.1 398.6,386.0 399.3,386.6 400.0,386.9 400.7,385.9 401.5,386.1 402.2,386.1 402.9,385.5 403.6,384.8 404.3,385.5 405.0,384.9 405.8,384.5 406.5,386.1 407.2,385.7 407.9,384.9 408.6,386.1 409.3,385.3 410.1,384.4 410.8,384.4 411.5,384.6 412.2,385.7 412.9,383.5 413.7,384.3 414.4,384.1 415.1,384.2 415.8,385.3 416.5,385.1 417.2,384.9 418.0,383.2 418.7,384.6 419.4,384.2 420.1,384.2 420.8,383.7 421.5,383.7 422.3,383.8 423.0,384.6 423.7,385.5 424.4,383.8 425.1,383.7 425.9,383.2 425.9,397.0 426.6,401.4 427.3,401.5 428.0,402.7 428.7,402.4 429.4,402.0 430.2,403.0 430.9,403.4 431.6,402.3 432.3,403.2 433.0,403.4 433.7,403.3 434.5,402.5 435.2,403.7 435.9,403.4 436.6,404.2 437.3,403.6 438.1,403.5 438.8,404.2 439.5,404.1 440.2,405.2 440.9,405.0 441.6,404.3 442.4,405.3 443.1,405.2 443.8,405.0 444.5,404.5 445.2,405.2 445.9,405.6 446.7,404.8 447.4,405.8 448.1,405.9 448.8,405.7 449.5,406.5 450.3,406.2 451.0,404.2 451.7,405.9 452.4,406.9 453.1,406.4 453.8,406.0 454.6,407.9 455.3,407.5 456.0,407.4 456.7,407.7 457.4,407.4 458.1,407.7 458.9,408.2 459.6,407.6 460.3,407.2 461.0,408.0 461.7,408.7 462.4,407.9 463.2,408.2 463.9,408.1 464.6,408.7 465.3,408.7 466.0,408.9 466.8,410.2 467.5,408.8 468.2,409.6 468.9,409.4 469.6,409.8 470.3,409.5 471.1,409.7 471.8,409.0 472.5,409.0 473.2,410.0 473.9,410.1 474.6,409.1 475.4,410.8 476.1,410.8 476.8,410.9 477.5,410.2 478.2,410.1 479.0,411.1 479.7,411.2 480.4,410.4 481.1,411.8 481.8,412.1 482.5,410.5 483.3,410.9 484.0,411.3 484.7,411.7 485.4,412.6 486.1,410.8 486.8,411.9 487.6,412.5 488.3,411.9 489.0,411.6 489.7,412.3 490.4,412.6 491.1,412.8 491.9,412.6 492.6,413.0 493.3,412.2 494.0,413.8 494.7,413.1 495.5,413.5 496.2,412.9 496.9,413.3 496.9,418.7 496.2,418.6 495.5,419.4 494.7,418.9 494.0,419.0 493.3,418.6 492.6,418.6 491.9,418.2 491.1,418.1 490.4,418.2 489.7,417.9 489.0,417.8 488.3,418.7 487.6,417.5 486.8,417.3 486.1,417.7 485.4,417.3 484.7,417.0 484.0,416.3 483.3,417.0 482.5,417.1 481.8,417.1 481.1,417.9 480.4,416.7 479.7,416.7 479.0,416.6 478.2,416.5 477.5,416.2 476.8,416.7 476.1,415.4 475.4,416.1 474.6,416.3 473.9,415.6 473.2,416.8 472.5,415.4 471.8,414.9 471.1,415.5 470.3,415.3 469.6,414.1 468.9,415.6 468.2,415.0 467.5,414.3 466.8,414.5 466.0,414.1 465.3,414.8 464.6,414.5 463.9,414.6 463.2,413.4 462.4,414.3 461.7,414.9 461.0,414.1 460.3,413.5 459.6,413.5 458.9,414.0 458.1,413.0 457.4,413.3 456.7,413.7 456.0,412.4 455.3,413.6 454.6,412.4 453.8,411.6 453.1,412.1 452.4,411.9 451.7,411.9 451.0,411.9 450.3,412.4 449.5,411.8 448.8,412.7 448.1,411.5 447.4,411.4 446.7,411.7 445.9,411.4 445.2,411.3 444.5,410.8 443.8,410.2 443.1,410.8 442.4,410.7 441.6,410.1 440.9,409.1 440.2,410.2 439.5,409.5 438.8,411.1 438.1,410.1 437.3,409.1 436.6,409.6 435.9,409.3 435.2,408.8 434.5,408.9 433.7,408.6 433.0,408.2 432.3,408.4 431.6,408.8 430.9,408.9 430.2,408.1 429.4,408.9 428.7,408.9 428.0,408.7 427.3,407.2 426.6,407.1 425.9,401.6 425.9,389.6 425.1,390.1 424.4,390.2 423.7,391.9 423.0,391.0 422.3,390.2 421.5,390.1 420.8,390.1 420.1,390.6 419.4,390.6 418.7,391.0 418.0,389.6 417.2,391.3 416.5,391.5 415.8,391.7 415.1,390.6 414.4,390.6 413.7,390.8 412.9,389.9 412.2,392.2 411.5,391.0 410.8,390.8 410.1,390.8 409.3,391.7 408.6,392.5 407.9,391.4 407.2,392.2 406.5,392.5 405.8,391.0 405.0,391.4 404.3,392.0 403.6,391.2 402.9,391.9 402.2,392.6 401.5,392.5 400.7,392.3 400.0,393.4 399.3,393.0 398.6,392.4 397.9,394.5 397.2,393.8 396.4,394.1 395.7,394.3 395.0,394.8 394.3,395.1 393.6,394.8 392.8,396.0 392.1,396.7 391.4,396.3 390.7,396.6 390.0,397.6 389.3,397.9 388.5,397.6 387.8,398.3 387.1,399.7 386.4,399.9 385.7,400.5 385.0,401.0 384.2,402.1 383.5,402.9 382.8,403.0 382.1,405.3 381.4,405.3 380.6,404.5 379.9,406.1 379.2,407.5 378.5,408.9 377.8,407.8 377.1,410.2 376.3,410.9 375.6,410.7 374.9,412.3 374.2,413.5 373.5,414.5 372.8,414.4 372.0,416.6 371.3,417.6 370.6,418.6 369.9,419.2 369.2,420.6 368.5,421.3 367.7,421.3 367.0,423.7 366.3,424.5 365.6,425.3 364.9,427.0 364.1,428.6 363.4,429.0 362.7,430.7 362.0,431.8 361.3,432.9 360.6,434.9 359.8,435.6 359.1,437.8 358.4,439.0 357.7,442.4 357.0,443.0 356.3,445.9 355.5,446.3 354.8,449.2 354.1,451.1" fill="#ffb8ff" stroke="none"/>
<polygon points="354.1,444.7 354.8,440.2 355.5,429.5 356.3,434.9 357.0,430.5 357.7,437.7 358.4,433.2 359.1,429.6 359.8,428.0 360.6,421.1 361.3,428.5 362.0,425.6 362.7,423.0 363.4,421.9 364.1,422.1 364.9,421.2 365.6,418.9 366.3,418.5 367.0,416.6 367.7,415.1 368.5,414.1 369.2,414.3 369.9,413.2 370.6,411.6 371.3,412.4 372.0,411.4 372.8,409.0 373.5,408.4 374.2,407.1 374.9,405.9 375.6,405.7 376.3,404.5 377.1,403.3 377.8,402.7 378.5,400.3 379.2,400.9 379.9,399.4 380.6,399.1 381.4,398.6 382.1,398.1 382.8,396.6 383.5,398.2 384.2,395.3 385.0,394.9 385.7,393.4 386.4,394.0 387.1,391.6 387.8,391.8 388.5,391.7 389.3,391.9 390.0,391.9 390.7,391.4 391.4,389.6 392.1,390.1 392.8,388.7 393.6,388.2 394.3,388.5 395.0,388.4 395.7,386.9 396.4,387.7 397.2,388.0 397.9,387.6 398.6,387.8 399.3,386.3 400.0,388.2 400.7,385.7 401.5,386.7 402.2,386.0 402.9,385.9 403.6,385.5 404.3,385.8 405.0,386.8 405.8,385.3 406.5,385.6 407.2,384.5 407.9,385.4 408.6,384.8 409.3,385.1 410.1,384.8 410.8,384.5 411.5,384.5 412.2,384.2 412.9,384.9 413.7,384.9 414.4,383.7 415.1,384.6 415.8,384.4 416.5,383.4 417.2,384.3 418.0,383.8 418.7,384.1 419.4,383.6 420.1,382.3 420.8,383.5 421.5,384.5 422.3,383.4 423.0,384.6 423.7,384.5 424.4,383.3 425.1,383.3 425.9,384.2 425.9,391.3 426.6,392.0 427.3,392.0 428.0,392.4 428.7,393.1 429.4,393.4 430.2,393.0 430.9,392.5 431.6,393.7 432.3,393.8 433.0,393.7 433.7,394.7 434.5,394.2 435.2,395.1 435.9,394.7 436.6,394.8 437.3,394.3 438.1,395.3 438.8,394.9 439.5,395.1 440.2,395.8 440.9,396.0 441.6,395.2 442.4,395.8 443.1,395.3 443.8,395.8 444.5,396.5 445.2,396.1 445.9,396.6 446.7,397.0 447.4,396.8 448.1,396.8 448.8,397.0 449.5,396.9 450.3,397.7 451.0,397.2 451.7,397.1 452.4,397.1 453.1,397.6 453.8,399.0 454.6,397.9 455.3,397.8 456.0,398.9 456.7,399.6 457.4,398.7 458.1,399.1 458.9,399.3 459.6,399.2 460.3,399.1 461.0,399.8 461.7,399.6 462.4,399.5 463.2,399.9 463.9,399.9 464.6,400.6 465.3,400.0 466.0,399.6 466.8,400.2 467.5,401.3 468.2,400.8 468.9,401.0 469.6,401.0 470.3,401.0 471.1,401.9 471.8,401.6 472.5,401.9 473.2,401.6 473.9,402.3 474.6,402.4 475.4,402.4 476.1,402.8 476.8,403.5 477.5,403.5 478.2,402.7 479.0,403.4 479.7,403.7 480.4,404.2 481.1,404.3 481.8,405.0 482.5,403.9 483.3,404.5 484.0,404.0 484.7,405.1 485.4,405.1 486.1,404.9 486.8,405.2 487.6,406.3 488.3,406.6 489.0,406.0 489.7,406.1 490.4,406.3 491.1,406.8 491.9,406.6 492.6,406.8 493.3,407.4 494.0,407.0 494.7,407.7 495.5,407.4 496.2,408.2 496.9,407.8 496.9,413.0 496.2,413.7 495.5,413.3 494.7,413.7 494.0,412.2 493.3,412.8 492.6,412.4 491.9,411.9 491.1,411.6 490.4,412.0 489.7,412.0 489.0,411.9 488.3,411.0 487.6,411.5 486.8,411.2 486.1,410.5 485.4,410.8 484.7,410.8 484.0,409.6 483.3,410.3 482.5,411.2 481.8,410.1 481.1,409.5 480.4,409.2 479.7,410.4 479.0,408.4 478.2,409.8 477.5,409.3 476.8,408.3 476.1,408.1 475.4,408.3 474.6,407.9 473.9,408.3 473.2,408.7 472.5,408.2 471.8,407.6 471.1,407.1 470.3,408.2 469.6,407.0 468.9,407.5 468.2,406.6 467.5,406.5 466.8,406.6 466.0,407.6 465.3,406.0 464.6,406.2 463.9,405.9 463.2,406.0 462.4,405.3 461.7,405.8 461.0,405.1 460.3,405.1 459.6,405.2 458.9,406.2 458.1,405.1 457.4,404.9 456.7,404.6 456.0,405.6 455.3,403.5 454.6,403.8 453.8,403.2 453.1,402.5 452.4,403.2 451.7,403.6 451.0,403.6 450.3,402.7 449.5,402.9 448.8,402.7 448.1,403.4 447.4,403.5 446.7,402.5 445.9,402.7 445.2,402.0 444.5,402.5 443.8,402.4 443.1,401.4 442.4,401.5 441.6,401.6 440.9,401.5 440.2,401.6 439.5,400.1 438.8,400.3 438.1,401.0 437.3,399.7 436.6,400.7 435.9,400.6 435.2,400.4 434.5,399.8 433.7,399.4 433.0,400.4 432.3,399.3 431.6,398.6 430.9,399.8 430.2,399.2 429.4,399.2 428.7,398.5 428.0,397.7 427.3,398.1 426.6,398.1 425.9,397.4 425.9,388.8 425.1,388.8 424.4,389.3 423.7,388.5 423.0,387.8 422.3,388.2 421.5,390.6 420.8,386.5 420.1,387.5 419.4,388.4 418.7,389.7 418.0,389.8 417.2,388.5 416.5,389.1 415.8,388.5 415.1,388.3 414.4,389.5 413.7,388.1 412.9,389.7 412.2,389.7 411.5,388.8 410.8,390.7 410.1,389.3 409.3,389.1 408.6,390.6 407.9,389.9 407.2,390.4 406.5,389.8 405.8,390.8 405.0,390.9 404.3,390.4 403.6,391.3 402.9,391.7 402.2,391.5 401.5,391.1 400.7,391.6 400.0,390.7 399.3,391.2 398.6,391.0 397.9,391.6 397.2,392.0 396.4,392.3 395.7,391.9 395.0,393.9 394.3,393.3 393.6,392.8 392.8,394.4 392.1,395.5 391.4,393.9 390.7,395.7 390.0,395.6 389.3,397.0 388.5,395.9 387.8,399.0 387.1,396.9 386.4,398.4 385.7,399.3 385.0,399.6 384.2,400.5 383.5,403.0 382.8,399.6 382.1,402.1 381.4,403.3 380.6,403.8 379.9,406.0 379.2,406.2 378.5,406.3 377.8,405.3 377.1,408.7 376.3,408.4 375.6,410.1 374.9,410.3 374.2,410.3 373.5,413.2 372.8,412.0 372.0,414.9 371.3,417.1 370.6,418.7 369.9,419.4 369.2,420.1 368.5,420.5 367.7,422.4 367.0,423.3 366.3,426.5 365.6,427.4 364.9,426.4 364.1,427.6 363.4,428.7 362.7,430.9 362.0,431.9 361.3,435.7 360.6,428.2 359.8,433.6 359.1,436.1 358.4,438.9 357.7,444.1 357.0,437.3 356.3,440.9 355.5,434.8 354.8,446.5 354.1,451.0" fill="#ffc6ff" stroke="none"/>
<polyline points="354.1,448.0 354.8,446.2 355.5,444.7 356.3,443.1 357.0,441.7 357.7,440.0 358.4,438.1 359.1,436.7 359.8,435.0 360.6,433.7 361.3,432.2 362.0,430.8 362.7,430.0 363.4,428.1 364.1,427.0 364.9,425.8 365.6,425.2 366.3,424.1 367.0,422.7 367.7,421.5 368.5,420.2 369.2,419.3 369.9,418.1 370.6,417.3 371.3,416.1 372.0,415.0 372.8,414.3 373.5,412.7 374.2,412.1 374.9,411.0 375.6,410.5 376.3,409.6 377.1,408.6 377.8,407.6 378.5,406.5 379.2,405.8 379.9,405.1 380.6,404.4 381.4,403.5 382.1,402.3 382.8,402.0 383.5,401.0 384.2,400.3 385.0,400.1 385.7,399.1 386.4,398.1 387.1,398.4 387.8,397.4 388.5,396.8 389.3,396.5 390.0,395.7 390.7,395.4 391.4,395.3 392.1,394.3 392.8,394.0 393.6,393.5 394.3,393.0 395.0,393.0 395.7,392.7 396.4,392.8 397.2,392.0 397.9,392.1 398.6,391.8 399.3,391.8 400.0,391.6 400.7,391.3 401.5,390.7 402.2,391.4 402.9,391.2 403.6,390.7 404.3,390.3 405.0,390.4 405.8,390.9 406.5,391.0 407.2,390.2 407.9,390.3 408.6,390.3 409.3,389.7 410.1,389.6 410.8,389.8 411.5,389.7 412.2,389.6 412.9,389.2 413.7,389.4 414.4,389.4 415.1,389.4 415.8,389.8 416.5,389.1 417.2,389.1 418.0,389.2 418.7,389.8 419.4,389.4 420.1,389.0 420.8,389.6 421.5,389.2 422.3,388.8 423.0,389.4 423.7,388.6 424.4,388.9 425.1,389.0 425.9,388.9 425.9,408.4 426.6,414.3 427.3,416.2 428.0,416.6 428.7,417.0 429.4,417.4 430.2,417.6 430.9,418.0 431.6,418.5 432.3,418.8 433.0,419.1 433.7,419.0 434.5,419.2 435.2,419.2 435.9,419.6 436.6,419.9 437.3,420.0 438.1,420.3 438.8,420.8 439.5,420.4 440.2,420.9 440.9,420.9 441.6,421.1 442.4,420.7 443.1,421.2 443.8,421.4 444.5,421.9 445.2,421.6 445.9,422.1 446.7,421.9 447.4,422.5 448.1,422.4 448.8,422.3 449.5,422.8 450.3,422.7 451.0,422.9 451.7,422.8 452.4,423.3 453.1,423.2 453.8,423.0 454.6,423.8 455.3,423.9 456.0,423.7 456.7,424.1 457.4,424.4 458.1,423.9 458.9,424.2 459.6,424.3 460.3,424.4 461.0,424.6 461.7,425.1 462.4,425.6 463.2,425.1 463.9,425.6 464.6,425.5 465.3,425.6 466.0,426.1 466.8,426.0 467.5,425.8 468.2,426.1 468.9,426.8 469.6,426.6 470.3,426.7 471.1,426.8 471.8,426.9 472.5,427.2 473.2,427.4 473.9,427.3 474.6,427.9 475.4,427.6 476.1,427.9 476.8,428.2 477.5,428.4 478.2,428.4 479.0,428.9 479.7,429.2 480.4,428.8 481.1,428.8 481.8,429.2 482.5,429.3 483.3,429.5 484.0,429.9 484.7,429.7 485.4,429.8 486.1,430.1 486.8,430.1 487.6,430.6 488.3,430.5 489.0,430.9 489.7,431.0 490.4,431.0 491.1,431.2 491.9,431.2 492.6,431.4 493.3,431.9 494.0,431.6 494.7,432.3 495.5,432.2 496.2,432.2 496.9,432.5" fill="none" stroke="#8b1a8b" stroke-width="2" stroke-linejoin="round"/>
<polyline points="354.1,448.5 354.8,446.6 355.5,443.7 356.3,443.4 357.0,440.4 357.7,439.8 358.4,436.4 359.1,435.2 359.8,432.9 360.6,432.3 361.3,430.3 362.0,429.1 362.7,428.0 363.4,426.3 364.1,425.8 364.9,424.2 365.6,422.5 366.3,421.7 367.0,420.9 367.7,418.5 368.5,418.5 369.2,417.8 369.9,416.4 370.6,415.7 371.3,414.7 372.0,413.7 372.8,411.5 373.5,411.6 374.2,410.5 374.9,409.3 375.6,407.7 376.3,407.9 377.1,407.2 377.8,404.8 378.5,405.9 379.2,404.4 379.9,403.1 380.6,401.4 381.4,402.3 382.1,402.2 382.8,399.9 383.5,399.8 384.2,399.0 385.0,397.9 385.7,397.4 386.4,396.7 387.1,396.5 387.8,395.1 388.5,394.5 389.3,394.7 390.0,394.5 390.7,393.4 391.4,393.1 392.1,393.5 392.8,392.8 393.6,391.6 394.3,391.8 395.0,391.6 395.7,391.0 396.4,390.8 397.2,390.6 397.9,391.3 398.6,389.2 399.3,389.8 400.0,390.2 400.7,389.1 401.5,389.3 402.2,389.3 402.9,388.7 403.6,388.0 404.3,388.8 405.0,388.2 405.8,387.8 406.5,389.3 407.2,388.9 407.9,388.2 408.6,389.3 409.3,388.5 410.1,387.6 410.8,387.6 411.5,387.8 412.2,388.9 412.9,386.7 413.7,387.5 414.4,387.4 415.1,387.4 415.8,388.5 416.5,388.3 417.2,388.1 418.0,386.4 418.7,387.8 419.4,387.4 420.1,387.4 420.8,386.9 421.5,386.9 422.3,387.0 423.0,387.8 423.7,388.7 424.4,387.0 425.1,386.9 425.9,386.4 425.9,399.3 426.6,404.2 427.3,404.4 428.0,405.7 428.7,405.7 429.4,405.4 430.2,405.5 430.9,406.2 431.6,405.6 432.3,405.8 433.0,405.8 433.7,406.0 434.5,405.7 435.2,406.3 435.9,406.3 436.6,406.9 437.3,406.3 438.1,406.8 438.8,407.6 439.5,406.8 440.2,407.7 440.9,407.1 441.6,407.2 442.4,408.0 443.1,408.0 443.8,407.6 444.5,407.7 445.2,408.3 445.9,408.5 446.7,408.2 447.4,408.6 448.1,408.7 448.8,409.2 449.5,409.2 450.3,409.3 451.0,408.0 451.7,408.9 452.4,409.4 453.1,409.2 453.8,408.8 454.6,410.1 455.3,410.5 456.0,409.9 456.7,410.7 457.4,410.4 458.1,410.3 458.9,411.1 459.6,410.5 460.3,410.3 461.0,411.0 461.7,411.8 462.4,411.1 463.2,410.8 463.9,411.3 464.6,411.6 465.3,411.8 466.0,411.5 466.8,412.3 467.5,411.6 468.2,412.3 468.9,412.5 469.6,412.0 470.3,412.4 471.1,412.6 471.8,411.9 472.5,412.2 473.2,413.4 473.9,412.8 474.6,412.7 475.4,413.5 476.1,413.1 476.8,413.8 477.5,413.2 478.2,413.3 479.0,413.9 479.7,414.0 480.4,413.5 481.1,414.9 481.8,414.6 482.5,413.8 483.3,413.9 484.0,413.8 484.7,414.3 485.4,415.0 486.1,414.3 486.8,414.6 487.6,415.0 488.3,415.3 489.0,414.7 489.7,415.1 490.4,415.4 491.1,415.5 491.9,415.4 492.6,415.8 493.3,415.4 494.0,416.4 494.7,416.0 495.5,416.4 496.2,415.8 496.9,416.0" fill="none" stroke="#ff33ff" stroke-width="2" stroke-linejoin="round"/>
<polyline points="354.1,447.8 354.8,443.3 355.5,432.1 356.3,437.9 357.0,433.9 357.7,440.9 358.4,436.1 359.1,432.8 359.8,430.8 360.6,424.6 361.3,432.1 362.0,428.7 362.7,426.9 363.4,425.3 364.1,424.8 364.9,423.8 365.6,423.2 366.3,422.5 367.0,419.9 367.7,418.8 368.5,417.3 369.2,417.2 369.9,416.3 370.6,415.1 371.3,414.7 372.0,413.2 372.8,410.5 373.5,410.8 374.2,408.7 374.9,408.1 375.6,407.9 376.3,406.5 377.1,406.0 377.8,404.0 378.5,403.3 379.2,403.6 379.9,402.7 380.6,401.5 381.4,400.9 382.1,400.1 382.8,398.1 383.5,400.6 384.2,397.9 385.0,397.3 385.7,396.3 386.4,396.2 387.1,394.2 387.8,395.4 388.5,393.8 389.3,394.4 390.0,393.8 390.7,393.6 391.4,391.7 392.1,392.8 392.8,391.5 393.6,390.5 394.3,390.9 395.0,391.2 395.7,389.4 396.4,390.0 397.2,390.0 397.9,389.6 398.6,389.4 399.3,388.7 400.0,389.4 400.7,388.6 401.5,388.9 402.2,388.7 402.9,388.8 403.6,388.4 404.3,388.1 405.0,388.9 405.8,388.1 406.5,387.7 407.2,387.5 407.9,387.7 408.6,387.7 409.3,387.1 410.1,387.1 410.8,387.6 411.5,386.6 412.2,387.0 412.9,387.3 413.7,386.5 414.4,386.6 415.1,386.4 415.8,386.5 416.5,386.3 417.2,386.4 418.0,386.8 418.7,386.9 419.4,386.0 420.1,384.9 420.8,385.0 421.5,387.5 422.3,385.8 423.0,386.2 423.7,386.5 424.4,386.3 425.1,386.1 425.9,386.5 425.9,394.4 426.6,395.1 427.3,395.1 428.0,395.1 428.7,395.8 429.4,396.3 430.2,396.1 430.9,396.1 431.6,396.2 432.3,396.6 433.0,397.0 433.7,397.0 434.5,397.0 435.2,397.7 435.9,397.7 436.6,397.7 437.3,397.0 438.1,398.2 438.8,397.6 439.5,397.6 440.2,398.7 440.9,398.8 441.6,398.4 442.4,398.7 443.1,398.4 443.8,399.1 444.5,399.5 445.2,399.0 445.9,399.7 446.7,399.8 447.4,400.1 448.1,400.1 448.8,399.9 449.5,399.9 450.3,400.2 451.0,400.4 451.7,400.4 452.4,400.1 453.1,400.1 453.8,401.1 454.6,400.8 455.3,400.6 456.0,402.2 456.7,402.1 457.4,401.8 458.1,402.1 458.9,402.8 459.6,402.2 460.3,402.1 461.0,402.4 461.7,402.7 462.4,402.4 463.2,402.9 463.9,402.9 464.6,403.4 465.3,403.0 466.0,403.6 466.8,403.4 467.5,403.9 468.2,403.7 468.9,404.2 469.6,404.0 470.3,404.6 471.1,404.5 471.8,404.6 472.5,405.1 473.2,405.2 473.9,405.3 474.6,405.1 475.4,405.4 476.1,405.5 476.8,405.9 477.5,406.4 478.2,406.2 479.0,405.9 479.7,407.0 480.4,406.7 481.1,406.9 481.8,407.6 482.5,407.5 483.3,407.4 484.0,406.8 484.7,408.0 485.4,407.9 486.1,407.7 486.8,408.2 487.6,408.9 488.3,408.8 489.0,408.9 489.7,409.0 490.4,409.1 491.1,409.2 491.9,409.3 492.6,409.6 493.3,410.1 494.0,409.6 494.7,410.7 495.5,410.3 496.2,411.0 496.9,410.4" fill="none" stroke="#ff80ff" stroke-width="2" stroke-linejoin="round"/>
<line x1="425.85" y1="352" x2="425.85" y2="448.2" stroke="#000" stroke-width="1.6" stroke-dasharray="1.6 3.85"/>
<line x1="354.0" y1="351.30" x2="354.0" y2="449.2" stroke="#000" stroke-width="2"/>
<line x1="353.0" y1="448.2" x2="498.60" y2="448.2" stroke="#000" stroke-width="2"/>
<line x1="346.0" y1="447.90" x2="354.0" y2="447.90" stroke="#000" stroke-width="2"/>
<text transform="translate(343.50,452.20) scale(1,1.04)" font-size="12.5" text-anchor="end" fill="#0d0d0d">0</text>
<line x1="346.0" y1="416.03" x2="354.0" y2="416.03" stroke="#000" stroke-width="2"/>
<text transform="translate(343.50,420.33) scale(1,1.04)" font-size="12.5" text-anchor="end" fill="#0d0d0d">50</text>
<line x1="346.0" y1="384.17" x2="354.0" y2="384.17" stroke="#000" stroke-width="2"/>
<text transform="translate(343.50,388.47) scale(1,1.04)" font-size="12.5" text-anchor="end" fill="#0d0d0d">100</text>
<line x1="346.0" y1="352.30" x2="354.0" y2="352.30" stroke="#000" stroke-width="2"/>
<text transform="translate(343.50,356.60) scale(1,1.04)" font-size="12.5" text-anchor="end" fill="#0d0d0d">150</text>
<line x1="354.10" y1="448.2" x2="354.10" y2="454.7" stroke="#000" stroke-width="2"/>
<text transform="translate(354.10,470.60) scale(1,1.04)" font-size="12.5" text-anchor="middle" fill="#0d0d0d">0</text>
<line x1="389.98" y1="448.2" x2="389.98" y2="454.7" stroke="#000" stroke-width="2"/>
<text transform="translate(389.98,470.60) scale(1,1.04)" font-size="12.5" text-anchor="middle" fill="#0d0d0d">50</text>
<line x1="425.85" y1="448.2" x2="425.85" y2="454.7" stroke="#000" stroke-width="2"/>
<text transform="translate(425.85,470.60) scale(1,1.04)" font-size="12.5" text-anchor="middle" fill="#0d0d0d">100</text>
<line x1="461.73" y1="448.2" x2="461.73" y2="454.7" stroke="#000" stroke-width="2"/>
<text transform="translate(461.73,470.60) scale(1,1.04)" font-size="12.5" text-anchor="middle" fill="#0d0d0d">150</text>
<line x1="497.60" y1="448.2" x2="497.60" y2="454.7" stroke="#000" stroke-width="2"/>
<text transform="translate(497.60,470.60) scale(1,1.04)" font-size="12.5" text-anchor="middle" fill="#0d0d0d">200</text>
<text transform="translate(427.50,488.30) scale(1,1.04)" font-size="13" text-anchor="middle" fill="#0d0d0d">Time (min)</text>
<text transform="translate(314.6,406.6) rotate(-90) scale(0.872,1)" font-size="13.4" text-anchor="middle" fill="#0d0d0d">Normalized turbidity at 395 nm</text>
<text transform="translate(374.60,337.90) scale(1,1.04)" font-size="13.2" fill="#0d0d0d">5 μM (GS)<tspan font-size="8.40" dy="4.6">1</tspan><tspan dy="-4.6">-FUS</tspan></text>
</g>
<rect x="550.2" y="343.10" width="15.8" height="3.4" fill="#ff80ff"/>
<text transform="translate(578.10,347.10) scale(1,1.04)" font-size="13.2" fill="#0d0d0d">No Kapβ2</text>
<rect x="550.2" y="358.50" width="15.8" height="3.4" fill="#ff33ff"/>
<text transform="translate(578.10,364.20) scale(1,1.04)" font-size="13.2" fill="#0d0d0d">2.5 μM Kapβ2</text>
<rect x="550.2" y="374.10" width="15.8" height="3.4" fill="#8b1a8b"/>
<text transform="translate(578.10,379.40) scale(1,1.04)" font-size="13.2" fill="#0d0d0d">5 μM Kapβ2</text>
<g>
<polygon points="75.1,623.3 76.5,625.5 78.0,622.5 79.4,621.9 80.9,622.5 82.3,622.4 83.7,621.1 85.2,621.4 86.6,620.3 88.1,618.9 89.5,621.4 90.9,621.1 92.4,619.7 93.8,619.6 95.2,622.1 96.7,621.9 98.1,620.8 99.6,620.6 101.0,621.1 102.4,619.5 103.9,622.4 105.3,619.1 106.8,621.0 108.2,619.5 109.6,619.8 111.1,621.5 112.5,619.1 114.0,619.8 115.4,619.4 116.8,618.6 118.3,619.5 119.7,621.9 121.1,619.4 122.6,620.5 124.0,620.5 125.5,620.7 126.9,619.4 128.3,618.1 129.8,620.0 131.2,616.8 132.7,621.3 134.1,618.3 135.5,620.8 137.0,619.3 138.4,619.0 139.9,617.5 141.3,618.1 142.7,617.3 144.2,620.1 145.6,617.8 147.1,619.3 148.5,616.7 149.9,619.4 151.4,619.8 152.8,618.8 154.2,619.3 155.7,617.6 157.1,620.4 158.6,619.0 160.0,618.7 161.4,616.6 162.9,617.0 164.3,616.7 165.8,617.6 167.2,618.5 168.6,616.9 170.1,616.6 171.5,616.4 173.0,615.6 174.4,617.4 175.8,617.6 177.3,618.2 178.7,617.1 180.1,617.4 181.6,617.0 183.0,617.1 184.5,616.6 185.9,616.3 187.3,616.8 188.8,616.1 190.2,615.3 191.7,614.6 193.1,616.1 194.5,616.9 196.0,615.6 197.4,616.2 198.9,616.9 200.3,616.0 201.7,614.7 203.2,618.2 204.6,618.0 206.0,616.5 207.5,617.7 208.9,615.4 210.4,614.2 211.8,615.7 213.2,614.4 214.7,615.0 216.1,614.8 217.6,615.4 219.0,616.5 219.0,620.4 217.6,621.1 216.1,621.3 214.7,621.9 213.2,623.9 211.8,620.6 210.4,621.7 208.9,621.4 207.5,622.4 206.0,623.5 204.6,624.0 203.2,622.0 201.7,623.1 200.3,624.3 198.9,623.5 197.4,622.0 196.0,622.1 194.5,623.1 193.1,624.9 191.7,622.7 190.2,622.2 188.8,619.9 187.3,624.3 185.9,622.9 184.5,624.2 183.0,622.8 181.6,623.0 180.1,624.2 178.7,624.5 177.3,624.9 175.8,623.3 174.4,623.8 173.0,623.1 171.5,623.2 170.1,624.3 168.6,624.4 167.2,624.4 165.8,623.2 164.3,625.1 162.9,622.4 161.4,623.4 160.0,624.2 158.6,625.3 157.1,626.9 155.7,624.0 154.2,627.6 152.8,625.9 151.4,627.9 149.9,626.5 148.5,623.2 147.1,626.1 145.6,624.5 144.2,625.9 142.7,624.4 141.3,625.0 139.9,625.4 138.4,626.2 137.0,627.1 135.5,626.2 134.1,626.2 132.7,626.2 131.2,625.5 129.8,627.5 128.3,626.5 126.9,623.9 125.5,628.0 124.0,625.9 122.6,624.2 121.1,625.5 119.7,624.9 118.3,624.9 116.8,625.3 115.4,626.3 114.0,626.4 112.5,625.9 111.1,626.4 109.6,626.9 108.2,626.6 106.8,626.8 105.3,626.0 103.9,627.2 102.4,624.8 101.0,624.5 99.6,626.6 98.1,627.2 96.7,626.6 95.2,627.6 93.8,627.3 92.4,624.1 90.9,624.4 89.5,624.3 88.1,626.0 86.6,625.5 85.2,624.9 83.7,627.4 82.3,627.2 80.9,626.8 79.4,627.5 78.0,628.2 76.5,628.1 75.1,630.1" fill="#b7d099" stroke="none"/>
<polygon points="75.1,626.6 76.5,625.9 78.0,624.0 79.4,622.7 80.9,625.2 82.3,624.7 83.7,621.5 85.2,619.7 86.6,620.1 88.1,620.0 89.5,620.9 90.9,621.2 92.4,618.7 93.8,621.2 95.2,619.2 96.7,619.4 98.1,619.5 99.6,621.1 101.0,620.7 102.4,618.0 103.9,620.1 105.3,621.2 106.8,619.7 108.2,622.3 109.6,618.6 111.1,619.0 112.5,620.8 114.0,618.0 115.4,618.3 116.8,619.0 118.3,616.3 119.7,617.6 121.1,615.4 122.6,615.4 124.0,613.2 125.5,612.3 126.9,612.9 128.3,612.7 129.8,611.7 131.2,611.4 132.7,613.2 134.1,612.8 135.5,608.3 137.0,610.6 138.4,612.7 139.9,609.7 141.3,610.6 142.7,608.6 144.2,606.4 145.6,604.8 147.1,607.1 148.5,606.0 149.9,607.3 151.4,604.5 152.8,605.6 154.2,601.5 155.7,602.8 157.1,600.6 158.6,599.6 160.0,602.3 161.4,601.4 162.9,599.7 164.3,601.7 165.8,597.0 167.2,599.2 168.6,599.4 170.1,599.6 171.5,597.3 173.0,598.2 174.4,599.2 175.8,597.4 177.3,595.6 178.7,596.9 180.1,593.9 181.6,594.7 183.0,594.4 184.5,595.7 185.9,593.6 187.3,593.1 188.8,592.6 190.2,594.1 191.7,591.1 193.1,593.4 194.5,591.1 196.0,591.1 197.4,591.3 198.9,590.7 200.3,592.7 201.7,590.9 203.2,589.9 204.6,590.8 206.0,591.3 207.5,589.0 208.9,589.6 210.4,589.1 211.8,587.8 213.2,586.3 214.7,589.6 216.1,586.9 217.6,590.2 219.0,586.7 219.0,599.0 217.6,598.1 216.1,598.9 214.7,599.8 213.2,600.7 211.8,599.9 210.4,600.5 208.9,599.7 207.5,601.0 206.0,600.1 204.6,601.4 203.2,600.5 201.7,600.4 200.3,600.2 198.9,603.7 197.4,602.2 196.0,604.0 194.5,603.4 193.1,601.9 191.7,603.0 190.2,603.7 188.8,601.8 187.3,604.7 185.9,604.6 184.5,605.2 183.0,602.2 181.6,603.1 180.1,604.6 178.7,604.8 177.3,607.5 175.8,605.3 174.4,607.4 173.0,606.5 171.5,605.2 170.1,608.9 168.6,611.8 167.2,610.1 165.8,610.2 164.3,609.2 162.9,611.3 161.4,610.4 160.0,612.2 158.6,614.3 157.1,614.5 155.7,612.1 154.2,616.1 152.8,615.9 151.4,616.7 149.9,614.7 148.5,618.7 147.1,616.7 145.6,613.7 144.2,616.5 142.7,618.2 141.3,618.1 139.9,619.0 138.4,617.6 137.0,620.5 135.5,621.0 134.1,622.2 132.7,622.7 131.2,621.6 129.8,620.9 128.3,623.4 126.9,621.6 125.5,623.2 124.0,622.9 122.6,625.6 121.1,625.3 119.7,626.5 118.3,624.8 116.8,624.7 115.4,627.6 114.0,626.4 112.5,625.5 111.1,627.7 109.6,625.4 108.2,624.5 106.8,627.0 105.3,626.8 103.9,628.0 102.4,627.8 101.0,626.7 99.6,626.9 98.1,627.1 96.7,627.0 95.2,625.0 93.8,627.2 92.4,626.3 90.9,626.8 89.5,628.3 88.1,627.0 86.6,626.9 85.2,628.7 83.7,628.5 82.3,628.9 80.9,628.0 79.4,631.2 78.0,629.1 76.5,629.9 75.1,631.9" fill="#c6f88c" stroke="none"/>
<polygon points="75.1,627.3 76.5,625.5 78.0,626.4 79.4,622.3 80.9,625.9 82.3,620.4 83.7,616.7 85.2,617.4 86.6,612.9 88.1,615.6 89.5,611.7 90.9,611.1 92.4,608.5 93.8,607.6 95.2,609.0 96.7,609.0 98.1,607.8 99.6,605.6 101.0,600.8 102.4,603.4 103.9,600.4 105.3,598.9 106.8,599.0 108.2,597.1 109.6,594.8 111.1,594.8 112.5,594.8 114.0,593.3 115.4,590.8 116.8,592.3 118.3,588.7 119.7,587.7 121.1,586.3 122.6,585.7 124.0,585.9 125.5,586.3 126.9,582.3 128.3,582.4 129.8,582.5 131.2,581.5 132.7,579.3 134.1,576.8 135.5,575.9 137.0,577.7 138.4,572.7 139.9,576.3 141.3,577.8 142.7,575.1 144.2,572.0 145.6,571.2 147.1,572.3 148.5,571.5 149.9,574.6 151.4,570.1 152.8,569.8 154.2,568.3 155.7,571.4 157.1,563.8 158.6,567.0 160.0,566.3 161.4,562.4 162.9,562.8 164.3,562.0 165.8,565.0 167.2,560.7 168.6,561.7 170.1,564.9 171.5,563.0 173.0,561.2 174.4,560.0 175.8,560.6 177.3,558.5 178.7,560.3 180.1,558.4 181.6,557.5 183.0,560.2 184.5,557.3 185.9,554.8 187.3,560.6 188.8,554.7 190.2,557.2 191.7,552.6 193.1,553.3 194.5,557.6 196.0,556.4 197.4,556.1 198.9,552.9 200.3,553.1 201.7,553.1 203.2,552.7 204.6,553.3 206.0,553.3 207.5,548.7 208.9,548.4 210.4,551.2 211.8,551.2 213.2,549.9 214.7,546.3 216.1,547.0 217.6,549.0 219.0,550.0 219.0,554.3 217.6,556.5 216.1,555.0 214.7,555.9 213.2,559.1 211.8,555.4 210.4,556.3 208.9,555.9 207.5,558.3 206.0,559.4 204.6,559.5 203.2,558.2 201.7,563.4 200.3,558.3 198.9,564.3 197.4,559.0 196.0,560.9 194.5,560.6 193.1,563.3 191.7,570.1 190.2,566.4 188.8,564.0 187.3,563.3 185.9,564.4 184.5,566.9 183.0,566.2 181.6,566.3 180.1,571.8 178.7,569.2 177.3,570.3 175.8,570.6 174.4,570.0 173.0,570.2 171.5,571.6 170.1,573.1 168.6,572.6 167.2,574.5 165.8,574.1 164.3,577.1 162.9,577.2 161.4,574.5 160.0,577.4 158.6,575.4 157.1,580.4 155.7,576.2 154.2,580.8 152.8,578.2 151.4,582.4 149.9,583.4 148.5,581.9 147.1,585.4 145.6,585.8 144.2,585.0 142.7,587.3 141.3,586.9 139.9,589.6 138.4,588.7 137.0,586.3 135.5,589.9 134.1,593.4 132.7,590.1 131.2,595.1 129.8,595.9 128.3,596.8 126.9,597.9 125.5,597.0 124.0,596.2 122.6,598.1 121.1,599.4 119.7,598.5 118.3,601.7 116.8,602.1 115.4,604.2 114.0,604.7 112.5,605.0 111.1,606.4 109.6,605.0 108.2,606.5 106.8,607.8 105.3,611.2 103.9,613.2 102.4,611.0 101.0,611.5 99.6,616.8 98.1,618.1 96.7,618.6 95.2,620.6 93.8,617.6 92.4,619.4 90.9,619.7 89.5,620.5 88.1,620.7 86.6,619.9 85.2,624.0 83.7,626.1 82.3,628.1 80.9,628.8 79.4,630.9 78.0,631.6 76.5,629.3 75.1,633.0" fill="#e6f8bc" stroke="none"/>
<polyline points="75.1,630.2 76.5,627.4 78.0,629.0 79.4,626.6 80.9,627.3 82.3,624.2 83.7,621.4 85.2,620.7 86.6,616.4 88.1,618.2 89.5,616.1 90.9,615.4 92.4,613.9 93.8,612.6 95.2,614.8 96.7,613.8 98.1,612.9 99.6,611.2 101.0,606.1 102.4,607.2 103.9,606.8 105.3,605.0 106.8,603.4 108.2,601.8 109.6,599.9 111.1,600.6 112.5,599.9 114.0,599.0 115.4,597.5 116.8,597.2 118.3,595.2 119.7,593.1 121.1,592.8 122.6,591.9 124.0,591.0 125.5,591.7 126.9,590.1 128.3,589.6 129.8,589.2 131.2,588.3 132.7,584.7 134.1,585.1 135.5,582.9 137.0,582.0 138.4,580.7 139.9,582.9 141.3,582.4 142.7,581.2 144.2,578.5 145.6,578.5 147.1,578.8 148.5,576.7 149.9,579.0 151.4,576.2 152.8,574.0 154.2,574.5 155.7,573.8 157.1,572.1 158.6,571.2 160.0,571.8 161.4,568.4 162.9,570.0 164.3,569.6 165.8,569.6 167.2,567.6 168.6,567.1 170.1,569.0 171.5,567.3 173.0,565.7 174.4,565.0 175.8,565.6 177.3,564.4 178.7,564.8 180.1,565.1 181.6,561.9 183.0,563.2 184.5,562.1 185.9,559.6 187.3,562.0 188.8,559.4 190.2,561.8 191.7,561.3 193.1,558.3 194.5,559.1 196.0,558.7 197.4,557.6 198.9,558.6 200.3,555.7 201.7,558.3 203.2,555.5 204.6,556.4 206.0,556.4 207.5,553.5 208.9,552.2 210.4,553.8 211.8,553.3 213.2,554.5 214.7,551.1 216.1,551.0 217.6,552.7 219.0,552.2" fill="none" stroke="#ccf279" stroke-width="2" stroke-linejoin="round"/>
<polyline points="75.1,629.2 76.5,627.9 78.0,626.5 79.4,626.9 80.9,626.6 82.3,626.8 83.7,625.0 85.2,624.2 86.6,623.5 88.1,623.5 89.5,624.6 90.9,624.0 92.4,622.5 93.8,624.2 95.2,622.1 96.7,623.2 98.1,623.3 99.6,624.0 101.0,623.7 102.4,622.9 103.9,624.0 105.3,624.0 106.8,623.4 108.2,623.4 109.6,622.0 111.1,623.3 112.5,623.2 114.0,622.2 115.4,623.0 116.8,621.8 118.3,620.5 119.7,622.1 121.1,620.3 122.6,620.5 124.0,618.1 125.5,617.8 126.9,617.3 128.3,618.0 129.8,616.3 131.2,616.5 132.7,618.0 134.1,617.5 135.5,614.6 137.0,615.6 138.4,615.2 139.9,614.4 141.3,614.3 142.7,613.4 144.2,611.4 145.6,609.3 147.1,611.9 148.5,612.3 149.9,611.0 151.4,610.6 152.8,610.7 154.2,608.8 155.7,607.5 157.1,607.5 158.6,607.0 160.0,607.3 161.4,605.9 162.9,605.5 164.3,605.4 165.8,603.6 167.2,604.7 168.6,605.6 170.1,604.2 171.5,601.3 173.0,602.4 174.4,603.3 175.8,601.3 177.3,601.6 178.7,600.8 180.1,599.2 181.6,598.9 183.0,598.3 184.5,600.5 185.9,599.1 187.3,598.9 188.8,597.2 190.2,598.9 191.7,597.0 193.1,597.7 194.5,597.3 196.0,597.6 197.4,596.7 198.9,597.2 200.3,596.5 201.7,595.6 203.2,595.2 204.6,596.1 206.0,595.7 207.5,595.0 208.9,594.6 210.4,594.8 211.8,593.9 213.2,593.5 214.7,594.7 216.1,592.9 217.6,594.2 219.0,592.9" fill="none" stroke="#80f000" stroke-width="2" stroke-linejoin="round"/>
<polyline points="75.1,626.7 76.5,626.8 78.0,625.3 79.4,624.7 80.9,624.7 82.3,624.8 83.7,624.2 85.2,623.1 86.6,622.9 88.1,622.4 89.5,622.9 90.9,622.7 92.4,621.9 93.8,623.4 95.2,624.8 96.7,624.2 98.1,624.0 99.6,623.6 101.0,622.8 102.4,622.1 103.9,624.8 105.3,622.5 106.8,623.9 108.2,623.0 109.6,623.3 111.1,624.0 112.5,622.5 114.0,623.1 115.4,622.8 116.8,621.9 118.3,622.2 119.7,623.4 121.1,622.5 122.6,622.4 124.0,623.2 125.5,624.4 126.9,621.6 128.3,622.3 129.8,623.7 131.2,621.2 132.7,623.8 134.1,622.3 135.5,623.5 137.0,623.2 138.4,622.6 139.9,621.4 141.3,621.5 142.7,620.8 144.2,623.0 145.6,621.2 147.1,622.7 148.5,620.0 149.9,623.0 151.4,623.8 152.8,622.3 154.2,623.4 155.7,620.8 157.1,623.7 158.6,622.2 160.0,621.4 161.4,620.0 162.9,619.7 164.3,620.9 165.8,620.4 167.2,621.4 168.6,620.7 170.1,620.4 171.5,619.8 173.0,619.3 174.4,620.6 175.8,620.4 177.3,621.6 178.7,620.8 180.1,620.8 181.6,620.0 183.0,619.9 184.5,620.4 185.9,619.6 187.3,620.6 188.8,618.0 190.2,618.8 191.7,618.7 193.1,620.5 194.5,620.0 196.0,618.9 197.4,619.1 198.9,620.2 200.3,620.2 201.7,618.9 203.2,620.1 204.6,621.0 206.0,620.0 207.5,620.1 208.9,618.4 210.4,618.0 211.8,618.2 213.2,619.2 214.7,618.5 216.1,618.1 217.6,618.3 219.0,618.5" fill="none" stroke="#4b8a00" stroke-width="2" stroke-linejoin="round"/>
<line x1="75.2" y1="534.10" x2="75.2" y2="631.6" stroke="#000" stroke-width="2"/>
<line x1="74.2" y1="630.6" x2="220.00" y2="630.6" stroke="#000" stroke-width="2"/>
<line x1="67.2" y1="630.60" x2="75.2" y2="630.60" stroke="#000" stroke-width="2"/>
<text transform="translate(64.70,634.90) scale(1,1.04)" font-size="12.5" text-anchor="end" fill="#0d0d0d">0</text>
<line x1="67.2" y1="614.68" x2="75.2" y2="614.68" stroke="#000" stroke-width="2"/>
<text transform="translate(64.70,618.98) scale(1,1.04)" font-size="12.5" text-anchor="end" fill="#0d0d0d">20</text>
<line x1="67.2" y1="598.77" x2="75.2" y2="598.77" stroke="#000" stroke-width="2"/>
<text transform="translate(64.70,603.07) scale(1,1.04)" font-size="12.5" text-anchor="end" fill="#0d0d0d">40</text>
<line x1="67.2" y1="582.85" x2="75.2" y2="582.85" stroke="#000" stroke-width="2"/>
<text transform="translate(64.70,587.15) scale(1,1.04)" font-size="12.5" text-anchor="end" fill="#0d0d0d">60</text>
<line x1="67.2" y1="566.94" x2="75.2" y2="566.94" stroke="#000" stroke-width="2"/>
<text transform="translate(64.70,571.24) scale(1,1.04)" font-size="12.5" text-anchor="end" fill="#0d0d0d">80</text>
<line x1="67.2" y1="551.02" x2="75.2" y2="551.02" stroke="#000" stroke-width="2"/>
<text transform="translate(64.70,555.32) scale(1,1.04)" font-size="12.5" text-anchor="end" fill="#0d0d0d">100</text>
<line x1="67.2" y1="535.10" x2="75.2" y2="535.10" stroke="#000" stroke-width="2"/>
<text transform="translate(64.70,539.40) scale(1,1.04)" font-size="12.5" text-anchor="end" fill="#0d0d0d">120</text>
<line x1="75.10" y1="630.6" x2="75.10" y2="637.1" stroke="#000" stroke-width="2"/>
<text transform="translate(75.10,652.00) scale(1,1.04)" font-size="12.5" text-anchor="middle" fill="#0d0d0d">0</text>
<line x1="103.88" y1="630.6" x2="103.88" y2="637.1" stroke="#000" stroke-width="2"/>
<text transform="translate(103.88,652.00) scale(1,1.04)" font-size="12.5" text-anchor="middle" fill="#0d0d0d">20</text>
<line x1="132.66" y1="630.6" x2="132.66" y2="637.1" stroke="#000" stroke-width="2"/>
<text transform="translate(132.66,652.00) scale(1,1.04)" font-size="12.5" text-anchor="middle" fill="#0d0d0d">40</text>
<line x1="161.44" y1="630.6" x2="161.44" y2="637.1" stroke="#000" stroke-width="2"/>
<text transform="translate(161.44,652.00) scale(1,1.04)" font-size="12.5" text-anchor="middle" fill="#0d0d0d">60</text>
<line x1="190.22" y1="630.6" x2="190.22" y2="637.1" stroke="#000" stroke-width="2"/>
<text transform="translate(190.22,652.00) scale(1,1.04)" font-size="12.5" text-anchor="middle" fill="#0d0d0d">80</text>
<line x1="219.00" y1="630.6" x2="219.00" y2="637.1" stroke="#000" stroke-width="2"/>
<text transform="translate(219.00,652.00) scale(1,1.04)" font-size="12.5" text-anchor="middle" fill="#0d0d0d">100</text>
<text transform="translate(151.70,671.80) scale(1,1.04)" font-size="13" text-anchor="middle" fill="#0d0d0d">Time (min)</text>
<text transform="translate(35.6,582.8) rotate(-90) scale(0.872,1)" font-size="13.4" text-anchor="middle" fill="#0d0d0d">Normalized turbidity at 395 nm</text>
<text transform="translate(101.30,528.00) scale(1,1.04)" font-size="13.2" fill="#0d0d0d">5 μM (GS)<tspan font-size="8.40" dy="4.6">4</tspan><tspan dy="-4.6">-FUS</tspan></text>
</g>
<g>
<polygon points="354.4,630.1 355.1,627.9 355.8,626.8 356.6,625.6 357.3,623.7 358.0,622.7 358.7,620.4 359.4,619.4 360.2,618.1 360.9,616.5 361.6,615.7 362.3,614.0 363.0,612.7 363.7,611.5 364.5,610.6 365.2,610.0 365.9,608.6 366.6,608.1 367.3,606.7 368.1,606.0 368.8,605.1 369.5,603.8 370.2,602.6 370.9,601.9 371.7,601.5 372.4,600.7 373.1,599.9 373.8,599.0 374.5,597.9 375.3,596.9 376.0,596.3 376.7,595.3 377.4,594.7 378.1,593.7 378.8,592.3 379.6,591.5 380.3,590.9 381.0,590.2 381.7,589.3 382.4,588.8 383.2,588.1 383.9,586.9 384.6,586.6 385.3,585.5 386.0,585.2 386.8,584.2 387.5,583.0 388.2,582.6 388.9,582.2 389.6,581.4 390.3,581.2 391.1,580.0 391.8,579.8 392.5,579.2 393.2,578.6 393.9,577.8 394.7,577.5 395.4,576.9 396.1,576.1 396.8,575.7 397.5,574.9 398.3,574.5 399.0,574.0 399.7,574.1 400.4,573.4 401.1,572.9 401.9,572.4 402.6,572.3 403.3,571.7 404.0,571.2 404.7,571.3 405.4,570.9 406.2,570.6 406.9,569.9 407.6,569.9 408.3,569.3 409.0,569.1 409.8,568.9 410.5,568.7 411.2,567.4 411.9,567.3 412.6,567.0 413.4,567.4 414.1,566.5 414.8,566.5 415.5,566.5 416.2,566.0 417.0,565.7 417.7,564.9 418.4,565.0 419.1,564.8 419.8,564.5 420.5,564.2 421.3,564.5 422.0,563.7 422.7,563.8 423.4,563.4 424.1,563.0 424.9,563.4 425.6,562.5 426.3,563.0 426.3,587.3 427.0,592.9 427.7,594.1 428.5,595.1 429.2,595.6 429.9,596.3 430.6,595.0 431.3,595.5 432.1,595.4 432.8,595.4 433.5,594.9 434.2,595.9 434.9,595.6 435.7,594.7 436.4,595.5 437.1,595.7 437.8,595.4 438.5,596.7 439.2,596.1 440.0,596.1 440.7,596.2 441.4,596.1 442.1,596.5 442.8,596.3 443.6,597.1 444.3,596.2 445.0,596.7 445.7,596.7 446.4,597.1 447.2,597.5 447.9,597.6 448.6,597.0 449.3,597.1 450.0,596.2 450.8,597.3 451.5,598.1 452.2,597.5 452.9,597.7 453.6,597.9 454.3,597.5 455.1,599.1 455.8,599.0 456.5,598.7 457.2,598.5 457.9,598.2 458.7,598.5 459.4,598.6 460.1,598.4 460.8,599.0 461.5,599.7 462.3,598.5 463.0,600.2 463.7,600.2 464.4,599.8 465.1,599.7 465.9,600.0 466.6,601.5 467.3,600.5 468.0,601.0 468.7,601.4 469.4,600.8 470.2,600.7 470.9,600.8 471.6,601.4 472.3,601.5 473.0,601.4 473.8,601.4 474.5,602.1 475.2,602.1 475.9,602.9 476.6,603.0 477.4,602.0 478.1,602.2 478.8,602.0 479.5,602.7 480.2,603.0 481.0,603.0 481.7,604.1 482.4,603.9 483.1,603.2 483.8,603.5 484.5,603.7 485.3,604.2 486.0,603.6 486.7,604.3 487.4,605.0 488.1,605.1 488.9,604.7 489.6,605.7 490.3,604.7 491.0,605.7 491.7,605.5 492.5,605.6 493.2,605.8 493.9,605.7 494.6,606.9 495.3,606.4 496.1,606.5 496.8,607.4 497.5,607.0 497.5,618.1 496.8,617.7 496.1,618.5 495.3,617.6 494.6,616.8 493.9,615.8 493.2,617.1 492.5,616.9 491.7,616.9 491.0,616.4 490.3,616.2 489.6,616.1 488.9,616.5 488.1,616.2 487.4,616.1 486.7,615.8 486.0,616.5 485.3,615.7 484.5,614.9 483.8,615.8 483.1,615.6 482.4,614.7 481.7,615.3 481.0,614.8 480.2,614.4 479.5,614.4 478.8,614.1 478.1,613.8 477.4,612.7 476.6,614.1 475.9,613.6 475.2,613.3 474.5,613.1 473.8,613.1 473.0,612.3 472.3,612.8 471.6,613.0 470.9,612.4 470.2,612.4 469.4,612.1 468.7,611.9 468.0,611.7 467.3,612.6 466.6,611.9 465.9,611.7 465.1,610.9 464.4,611.4 463.7,611.0 463.0,611.7 462.3,610.1 461.5,610.5 460.8,610.4 460.1,610.3 459.4,610.1 458.7,610.5 457.9,609.7 457.2,609.7 456.5,610.2 455.8,609.6 455.1,610.2 454.3,609.1 453.6,609.4 452.9,609.6 452.2,608.3 451.5,608.3 450.8,609.8 450.0,608.8 449.3,608.7 448.6,608.4 447.9,608.1 447.2,607.4 446.4,608.3 445.7,608.0 445.0,608.9 444.3,607.8 443.6,608.2 442.8,607.7 442.1,608.2 441.4,607.2 440.7,607.2 440.0,607.2 439.2,606.9 438.5,607.6 437.8,606.8 437.1,607.2 436.4,607.6 435.7,606.4 434.9,607.9 434.2,605.9 433.5,606.9 432.8,606.6 432.1,606.7 431.3,606.0 430.6,606.3 429.9,606.5 429.2,606.3 428.5,606.3 427.7,605.9 427.0,605.1 426.3,598.2 426.3,570.7 425.6,570.2 424.9,571.1 424.1,570.8 423.4,571.2 422.7,571.6 422.0,571.5 421.3,572.4 420.5,572.1 419.8,572.4 419.1,572.8 418.4,573.0 417.7,572.9 417.0,573.8 416.2,574.1 415.5,574.6 414.8,574.7 414.1,574.7 413.4,575.7 412.6,575.4 411.9,575.7 411.2,575.8 410.5,577.2 409.8,577.3 409.0,577.6 408.3,577.8 407.6,578.5 406.9,578.6 406.2,579.2 405.4,579.6 404.7,580.1 404.0,579.9 403.3,580.5 402.6,581.1 401.9,581.3 401.1,581.8 400.4,582.3 399.7,583.1 399.0,583.0 398.3,583.6 397.5,584.0 396.8,584.7 396.1,585.2 395.4,586.0 394.7,586.6 393.9,587.0 393.2,587.8 392.5,588.4 391.8,589.0 391.1,589.1 390.3,590.4 389.6,590.6 388.9,591.3 388.2,591.8 387.5,592.2 386.8,593.3 386.0,594.2 385.3,594.5 384.6,595.6 383.9,595.9 383.2,597.0 382.4,597.7 381.7,598.2 381.0,598.9 380.3,599.6 379.6,600.1 378.8,600.9 378.1,602.2 377.4,603.1 376.7,603.6 376.0,604.4 375.3,605.0 374.5,605.8 373.8,606.8 373.1,607.6 372.4,608.2 371.7,608.9 370.9,609.2 370.2,609.8 369.5,610.8 368.8,611.9 368.1,612.7 367.3,613.2 366.6,614.4 365.9,614.8 365.2,616.0 364.5,616.5 363.7,617.3 363.0,618.3 362.3,619.4 361.6,621.0 360.9,621.7 360.2,623.1 359.4,624.2 358.7,625.1 358.0,627.3 357.3,628.1 356.6,629.8 355.8,630.9 355.1,631.9 354.4,634.0" fill="#aeca8c" stroke="none"/>
<polygon points="354.4,627.8 355.1,627.3 355.8,625.3 356.6,624.0 357.3,622.6 358.0,621.0 358.7,619.4 359.4,617.7 360.2,616.1 360.9,614.4 361.6,613.3 362.3,611.7 363.0,610.6 363.7,609.5 364.5,608.5 365.2,607.7 365.9,606.8 366.6,605.3 367.3,604.3 368.1,603.2 368.8,602.3 369.5,601.9 370.2,600.8 370.9,600.0 371.7,598.5 372.4,597.9 373.1,597.0 373.8,596.4 374.5,595.6 375.3,594.5 376.0,593.5 376.7,592.4 377.4,592.2 378.1,590.8 378.8,590.3 379.6,589.4 380.3,588.5 381.0,587.7 381.7,586.7 382.4,585.7 383.2,585.2 383.9,584.7 384.6,583.7 385.3,583.0 386.0,582.1 386.8,581.6 387.5,581.5 388.2,580.6 388.9,579.8 389.6,578.8 390.3,578.5 391.1,577.5 391.8,577.1 392.5,577.0 393.2,576.1 393.9,575.3 394.7,574.8 395.4,574.9 396.1,573.8 396.8,573.6 397.5,573.6 398.3,572.6 399.0,572.6 399.7,572.0 400.4,570.7 401.1,570.0 401.9,570.0 402.6,569.8 403.3,569.0 404.0,569.1 404.7,569.2 405.4,569.3 406.2,567.9 406.9,568.5 407.6,568.4 408.3,567.3 409.0,566.8 409.8,566.8 410.5,565.8 411.2,565.9 411.9,565.5 412.6,565.1 413.4,565.1 414.1,564.6 414.8,563.7 415.5,564.4 416.2,563.8 417.0,563.4 417.7,563.5 418.4,563.1 419.1,563.4 419.8,562.8 420.5,562.5 421.3,562.0 422.0,561.9 422.7,562.2 423.4,562.3 424.1,561.2 424.9,561.4 425.6,562.1 426.3,561.5 426.3,576.9 427.0,579.2 427.7,582.5 428.5,582.4 429.2,582.4 429.9,583.8 430.6,583.7 431.3,583.0 432.1,584.2 432.8,583.6 433.5,582.8 434.2,582.4 434.9,583.2 435.7,583.1 436.4,583.6 437.1,582.9 437.8,582.9 438.5,582.9 439.2,584.0 440.0,583.5 440.7,583.1 441.4,583.9 442.1,582.5 442.8,582.8 443.6,583.6 444.3,582.9 445.0,584.4 445.7,583.4 446.4,582.5 447.2,582.6 447.9,583.5 448.6,583.2 449.3,583.6 450.0,582.8 450.8,583.5 451.5,583.0 452.2,583.0 452.9,583.3 453.6,583.5 454.3,581.7 455.1,583.8 455.8,583.7 456.5,583.3 457.2,582.9 457.9,583.0 458.7,583.0 459.4,583.4 460.1,583.0 460.8,583.9 461.5,584.6 462.3,583.3 463.0,583.9 463.7,584.1 464.4,583.3 465.1,583.0 465.9,583.9 466.6,583.9 467.3,584.2 468.0,583.2 468.7,583.1 469.4,585.0 470.2,583.3 470.9,584.5 471.6,584.3 472.3,584.8 473.0,584.9 473.8,585.1 474.5,585.4 475.2,585.5 475.9,584.4 476.6,585.2 477.4,585.0 478.1,584.0 478.8,584.9 479.5,585.0 480.2,585.3 481.0,586.2 481.7,585.6 482.4,585.8 483.1,584.9 483.8,586.7 484.5,586.1 485.3,586.6 486.0,586.2 486.7,586.8 487.4,586.4 488.1,586.6 488.9,587.2 489.6,587.0 490.3,586.9 491.0,587.1 491.7,588.1 492.5,587.3 493.2,587.0 493.9,587.5 494.6,587.9 495.3,588.6 496.1,588.1 496.8,588.6 497.5,587.8 497.5,593.4 496.8,593.6 496.1,593.8 495.3,594.2 494.6,593.2 493.9,592.4 493.2,593.3 492.5,592.2 491.7,592.6 491.0,592.1 490.3,591.7 489.6,592.5 488.9,591.8 488.1,592.6 487.4,592.0 486.7,591.0 486.0,591.4 485.3,591.4 484.5,592.2 483.8,591.5 483.1,591.8 482.4,591.2 481.7,590.6 481.0,590.4 480.2,591.0 479.5,591.0 478.8,591.3 478.1,590.4 477.4,590.4 476.6,589.8 475.9,589.4 475.2,590.0 474.5,589.9 473.8,589.7 473.0,589.3 472.3,589.9 471.6,589.7 470.9,589.4 470.2,588.9 469.4,589.8 468.7,588.7 468.0,588.7 467.3,589.4 466.6,588.7 465.9,588.4 465.1,588.5 464.4,588.5 463.7,588.5 463.0,588.4 462.3,589.0 461.5,588.6 460.8,588.4 460.1,588.9 459.4,588.4 458.7,587.5 457.9,588.7 457.2,588.5 456.5,588.8 455.8,588.6 455.1,587.8 454.3,587.3 453.6,588.9 452.9,588.5 452.2,588.3 451.5,587.7 450.8,588.3 450.0,588.3 449.3,588.9 448.6,587.7 447.9,588.1 447.2,588.6 446.4,588.5 445.7,587.7 445.0,589.4 444.3,587.9 443.6,588.8 442.8,588.2 442.1,588.0 441.4,587.5 440.7,587.8 440.0,586.8 439.2,588.1 438.5,588.2 437.8,589.2 437.1,587.1 436.4,588.6 435.7,588.7 434.9,588.0 434.2,588.0 433.5,589.4 432.8,588.0 432.1,589.2 431.3,588.1 430.6,589.2 429.9,587.8 429.2,588.3 428.5,588.1 427.7,588.5 427.0,586.4 426.3,580.8 426.3,567.9 425.6,568.6 424.9,567.9 424.1,567.7 423.4,568.8 422.7,568.9 422.0,568.6 421.3,568.7 420.5,569.3 419.8,569.7 419.1,570.3 418.4,570.1 417.7,570.5 417.0,570.5 416.2,570.9 415.5,571.6 414.8,570.9 414.1,571.9 413.4,572.5 412.6,572.5 411.9,573.0 411.2,573.4 410.5,573.4 409.8,574.4 409.0,574.5 408.3,575.1 407.6,576.2 406.9,576.4 406.2,575.8 405.4,577.3 404.7,577.3 404.0,577.3 403.3,577.2 402.6,578.1 401.9,578.3 401.1,578.3 400.4,579.1 399.7,580.4 399.0,581.1 398.3,581.2 397.5,582.2 396.8,582.2 396.1,582.4 395.4,583.6 394.7,583.6 393.9,584.1 393.2,584.9 392.5,585.8 391.8,586.0 391.1,586.4 390.3,587.4 389.6,587.7 388.9,588.8 388.2,589.6 387.5,590.5 386.8,590.6 386.0,591.1 385.3,591.9 384.6,592.6 383.9,593.7 383.2,594.1 382.4,594.7 381.7,595.6 381.0,596.6 380.3,597.3 379.6,598.2 378.8,599.0 378.1,599.4 377.4,600.8 376.7,601.0 376.0,601.9 375.3,602.9 374.5,603.9 373.8,604.6 373.1,605.1 372.4,605.9 371.7,606.3 370.9,607.8 370.2,608.5 369.5,609.4 368.8,609.7 368.1,610.5 367.3,611.5 366.6,612.4 365.9,613.8 365.2,614.5 364.5,615.2 363.7,616.1 363.0,617.1 362.3,618.0 361.6,619.5 360.9,620.5 360.2,622.1 359.4,623.6 358.7,625.1 358.0,626.6 357.3,628.1 356.6,629.4 355.8,630.6 355.1,632.5 354.4,632.9" fill="#c6f88c" stroke="none"/>
<polygon points="354.4,628.2 355.1,626.6 355.8,625.9 356.6,624.4 357.3,622.6 358.0,620.7 358.7,619.6 359.4,618.7 360.2,617.2 360.9,615.6 361.6,613.9 362.3,613.0 363.0,611.9 363.7,610.7 364.5,609.5 365.2,608.8 365.9,607.5 366.6,606.5 367.3,605.1 368.1,604.7 368.8,603.5 369.5,603.3 370.2,601.8 370.9,601.2 371.7,600.5 372.4,599.5 373.1,598.4 373.8,597.9 374.5,596.6 375.3,595.5 376.0,594.6 376.7,593.8 377.4,593.8 378.1,592.4 378.8,591.9 379.6,590.6 380.3,590.0 381.0,589.1 381.7,588.3 382.4,587.8 383.2,586.8 383.9,586.3 384.6,584.7 385.3,584.8 386.0,583.9 386.8,583.8 387.5,583.0 388.2,582.1 388.9,581.0 389.6,580.3 390.3,579.9 391.1,579.5 391.8,578.1 392.5,578.4 393.2,577.8 393.9,576.8 394.7,576.7 395.4,575.8 396.1,575.1 396.8,574.9 397.5,574.2 398.3,573.9 399.0,573.7 399.7,574.0 400.4,573.0 401.1,572.2 401.9,572.3 402.6,571.6 403.3,570.9 404.0,570.2 404.7,570.7 405.4,570.1 406.2,569.5 406.9,569.0 407.6,569.3 408.3,567.9 409.0,568.4 409.8,567.5 410.5,567.6 411.2,567.1 411.9,566.4 412.6,566.4 413.4,566.2 414.1,566.3 414.8,565.9 415.5,565.9 416.2,564.5 417.0,565.4 417.7,565.4 418.4,563.8 419.1,563.7 419.8,564.0 420.5,563.4 421.3,563.7 422.0,563.5 422.7,563.0 423.4,562.9 424.1,563.0 424.9,562.1 425.6,562.2 426.3,562.3 426.3,572.5 427.0,571.9 427.7,574.0 428.5,575.2 429.2,574.9 429.9,574.8 430.6,576.2 431.3,576.2 432.1,575.3 432.8,575.2 433.5,575.2 434.2,575.4 434.9,575.0 435.7,575.0 436.4,576.0 437.1,574.7 437.8,575.2 438.5,575.1 439.2,574.6 440.0,575.8 440.7,575.0 441.4,574.6 442.1,576.1 442.8,575.8 443.6,575.5 444.3,575.7 445.0,575.4 445.7,576.1 446.4,576.2 447.2,574.0 447.9,575.7 448.6,576.0 449.3,575.4 450.0,575.8 450.8,575.7 451.5,576.2 452.2,575.7 452.9,575.7 453.6,576.7 454.3,576.3 455.1,576.2 455.8,576.4 456.5,575.9 457.2,576.3 457.9,576.8 458.7,575.7 459.4,576.9 460.1,577.0 460.8,577.0 461.5,577.9 462.3,576.3 463.0,577.3 463.7,576.2 464.4,577.2 465.1,575.9 465.9,577.2 466.6,577.0 467.3,577.4 468.0,577.4 468.7,577.9 469.4,577.7 470.2,577.5 470.9,577.6 471.6,578.1 472.3,577.8 473.0,578.5 473.8,578.9 474.5,578.4 475.2,578.7 475.9,579.2 476.6,578.9 477.4,578.6 478.1,579.5 478.8,579.6 479.5,579.6 480.2,581.2 481.0,580.0 481.7,580.4 482.4,580.2 483.1,580.5 483.8,580.7 484.5,580.0 485.3,580.9 486.0,581.3 486.7,581.7 487.4,581.5 488.1,581.9 488.9,582.9 489.6,582.1 490.3,582.8 491.0,583.0 491.7,583.2 492.5,583.0 493.2,583.4 493.9,584.7 494.6,583.2 495.3,584.0 496.1,584.9 496.8,583.4 497.5,585.4 497.5,591.1 496.8,590.4 496.1,591.5 495.3,590.1 494.6,590.6 493.9,591.3 493.2,590.5 492.5,589.9 491.7,589.7 491.0,589.1 490.3,590.3 489.6,588.8 488.9,588.5 488.1,588.1 487.4,588.7 486.7,588.5 486.0,589.0 485.3,587.2 484.5,587.8 483.8,588.1 483.1,587.2 482.4,588.0 481.7,587.1 481.0,586.4 480.2,586.6 479.5,586.4 478.8,586.3 478.1,586.1 477.4,585.7 476.6,585.1 475.9,585.6 475.2,585.7 474.5,585.6 473.8,585.0 473.0,586.0 472.3,585.2 471.6,584.8 470.9,584.5 470.2,583.7 469.4,585.3 468.7,584.7 468.0,584.5 467.3,583.9 466.6,584.3 465.9,584.2 465.1,583.2 464.4,584.2 463.7,583.9 463.0,583.6 462.3,583.1 461.5,583.7 460.8,582.6 460.1,583.3 459.4,583.9 458.7,582.5 457.9,583.5 457.2,582.4 456.5,582.4 455.8,583.8 455.1,582.7 454.3,582.7 453.6,583.2 452.9,582.7 452.2,583.0 451.5,582.8 450.8,582.2 450.0,582.7 449.3,581.9 448.6,583.6 447.9,583.0 447.2,581.9 446.4,582.3 445.7,582.7 445.0,583.0 444.3,583.0 443.6,582.0 442.8,583.1 442.1,582.8 441.4,581.6 440.7,582.0 440.0,582.3 439.2,582.3 438.5,581.6 437.8,583.0 437.1,583.1 436.4,582.0 435.7,581.6 434.9,581.3 434.2,581.5 433.5,582.4 432.8,581.4 432.1,581.9 431.3,581.6 430.6,582.1 429.9,581.4 429.2,581.3 428.5,581.5 427.7,581.1 427.0,579.0 426.3,579.2 426.3,569.9 425.6,569.9 424.9,569.9 424.1,570.7 423.4,570.7 422.7,570.8 422.0,571.4 421.3,571.7 420.5,571.4 419.8,572.0 419.1,571.8 418.4,572.0 417.7,573.6 417.0,573.6 416.2,572.8 415.5,574.2 414.8,574.3 414.1,574.7 413.4,574.7 412.6,574.9 411.9,574.9 411.2,575.7 410.5,576.2 409.8,576.2 409.0,577.2 408.3,576.7 407.6,578.2 406.9,578.0 406.2,578.4 405.4,579.1 404.7,579.8 404.0,579.3 403.3,580.1 402.6,580.8 401.9,581.5 401.1,581.5 400.4,582.3 399.7,583.4 399.0,583.1 398.3,583.3 397.5,583.7 396.8,584.4 396.1,584.6 395.4,585.4 394.7,586.3 393.9,586.4 393.2,587.4 392.5,588.1 391.8,587.8 391.1,589.2 390.3,589.5 389.6,590.0 388.9,590.6 388.2,591.8 387.5,592.7 386.8,593.5 386.0,593.6 385.3,594.4 384.6,594.3 383.9,595.9 383.2,596.4 382.4,597.4 381.7,597.8 381.0,598.6 380.3,599.4 379.6,599.9 378.8,601.2 378.1,601.6 377.4,602.9 376.7,602.8 376.0,603.6 375.3,604.4 374.5,605.3 373.8,606.5 373.1,606.9 372.4,607.9 371.7,608.8 370.9,609.3 370.2,609.8 369.5,611.2 368.8,611.3 368.1,612.4 367.3,612.6 366.6,613.8 365.9,614.8 365.2,615.9 364.5,616.5 363.7,617.5 363.0,618.6 362.3,619.5 361.6,620.3 360.9,621.8 360.2,623.3 359.4,624.7 358.7,625.5 358.0,626.4 357.3,628.2 356.6,629.9 355.8,631.2 355.1,631.9 354.4,633.3" fill="#e6f8bc" stroke="none"/>
<polyline points="354.4,632.1 355.1,629.9 355.8,628.8 356.6,627.7 357.3,625.9 358.0,625.0 358.7,622.7 359.4,621.8 360.2,620.6 360.9,619.1 361.6,618.4 362.3,616.7 363.0,615.5 363.7,614.4 364.5,613.5 365.2,613.0 365.9,611.7 366.6,611.2 367.3,610.0 368.1,609.3 368.8,608.5 369.5,607.3 370.2,606.2 370.9,605.5 371.7,605.2 372.4,604.4 373.1,603.8 373.8,602.9 374.5,601.9 375.3,600.9 376.0,600.4 376.7,599.4 377.4,598.9 378.1,597.9 378.8,596.6 379.6,595.8 380.3,595.2 381.0,594.6 381.7,593.7 382.4,593.2 383.2,592.6 383.9,591.4 384.6,591.1 385.3,590.0 386.0,589.7 386.8,588.7 387.5,587.6 388.2,587.2 388.9,586.7 389.6,586.0 390.3,585.8 391.1,584.5 391.8,584.4 392.5,583.8 393.2,583.2 393.9,582.4 394.7,582.0 395.4,581.5 396.1,580.7 396.8,580.2 397.5,579.4 398.3,579.1 399.0,578.5 399.7,578.6 400.4,577.9 401.1,577.3 401.9,576.8 402.6,576.7 403.3,576.1 404.0,575.6 404.7,575.7 405.4,575.3 406.2,574.9 406.9,574.2 407.6,574.2 408.3,573.6 409.0,573.3 409.8,573.1 410.5,573.0 411.2,571.6 411.9,571.5 412.6,571.2 413.4,571.6 414.1,570.6 414.8,570.6 415.5,570.5 416.2,570.1 417.0,569.7 417.7,568.9 418.4,569.0 419.1,568.8 419.8,568.4 420.5,568.2 421.3,568.4 422.0,567.6 422.7,567.7 423.4,567.3 424.1,566.9 424.9,567.2 425.6,566.4 426.3,566.9 426.3,592.7 427.0,599.0 427.7,600.0 428.5,600.7 429.2,600.9 429.9,601.4 430.6,600.7 431.3,600.8 432.1,601.1 432.8,601.0 433.5,600.9 434.2,600.9 434.9,601.7 435.7,600.5 436.4,601.5 437.1,601.4 437.8,601.1 438.5,602.2 439.2,601.5 440.0,601.7 440.7,601.7 441.4,601.7 442.1,602.4 442.8,602.0 443.6,602.7 444.3,602.0 445.0,602.8 445.7,602.3 446.4,602.7 447.2,602.5 447.9,602.9 448.6,602.7 449.3,602.9 450.0,602.5 450.8,603.5 451.5,603.2 452.2,602.9 452.9,603.6 453.6,603.6 454.3,603.3 455.1,604.6 455.8,604.3 456.5,604.4 457.2,604.1 457.9,603.9 458.7,604.5 459.4,604.4 460.1,604.3 460.8,604.7 461.5,605.1 462.3,604.3 463.0,606.0 463.7,605.6 464.4,605.6 465.1,605.3 465.9,605.9 466.6,606.7 467.3,606.6 468.0,606.3 468.7,606.7 469.4,606.4 470.2,606.5 470.9,606.6 471.6,607.2 472.3,607.2 473.0,606.8 473.8,607.3 474.5,607.6 475.2,607.7 475.9,608.2 476.6,608.6 477.4,607.3 478.1,608.0 478.8,608.1 479.5,608.6 480.2,608.7 481.0,608.9 481.7,609.7 482.4,609.3 483.1,609.4 483.8,609.6 484.5,609.3 485.3,609.9 486.0,610.1 486.7,610.1 487.4,610.5 488.1,610.7 488.9,610.6 489.6,610.9 490.3,610.4 491.0,611.1 491.7,611.2 492.5,611.3 493.2,611.5 493.9,610.7 494.6,611.8 495.3,612.0 496.1,612.5 496.8,612.6 497.5,612.6" fill="none" stroke="#4b8a00" stroke-width="2" stroke-linejoin="round"/>
<polyline points="354.4,630.3 355.1,629.9 355.8,628.0 356.6,626.7 357.3,625.4 358.0,623.8 358.7,622.3 359.4,620.7 360.2,619.1 360.9,617.5 361.6,616.4 362.3,614.8 363.0,613.8 363.7,612.8 364.5,611.9 365.2,611.1 365.9,610.3 366.6,608.8 367.3,607.9 368.1,606.9 368.8,606.0 369.5,605.6 370.2,604.6 370.9,603.9 371.7,602.4 372.4,601.9 373.1,601.0 373.8,600.5 374.5,599.8 375.3,598.7 376.0,597.7 376.7,596.7 377.4,596.5 378.1,595.1 378.8,594.7 379.6,593.8 380.3,592.9 381.0,592.2 381.7,591.1 382.4,590.2 383.2,589.6 383.9,589.2 384.6,588.1 385.3,587.5 386.0,586.6 386.8,586.1 387.5,586.0 388.2,585.1 388.9,584.3 389.6,583.2 390.3,582.9 391.1,582.0 391.8,581.6 392.5,581.4 393.2,580.5 393.9,579.7 394.7,579.2 395.4,579.3 396.1,578.1 396.8,577.9 397.5,577.9 398.3,576.9 399.0,576.9 399.7,576.2 400.4,574.9 401.1,574.2 401.9,574.2 402.6,574.0 403.3,573.1 404.0,573.2 404.7,573.2 405.4,573.3 406.2,571.9 406.9,572.5 407.6,572.3 408.3,571.2 409.0,570.7 409.8,570.6 410.5,569.6 411.2,569.7 411.9,569.2 412.6,568.8 413.4,568.8 414.1,568.3 414.8,567.3 415.5,568.0 416.2,567.4 417.0,567.0 417.7,567.0 418.4,566.6 419.1,566.9 419.8,566.2 420.5,565.9 421.3,565.3 422.0,565.2 422.7,565.5 423.4,565.6 424.1,564.5 424.9,564.6 425.6,565.3 426.3,564.7 426.3,578.8 427.0,582.8 427.7,585.5 428.5,585.2 429.2,585.4 429.9,585.8 430.6,586.4 431.3,585.5 432.1,586.7 432.8,585.8 433.5,586.1 434.2,585.2 434.9,585.6 435.7,585.9 436.4,586.1 437.1,585.0 437.8,586.0 438.5,585.5 439.2,586.0 440.0,585.2 440.7,585.5 441.4,585.7 442.1,585.3 442.8,585.5 443.6,586.2 444.3,585.4 445.0,586.9 445.7,585.5 446.4,585.5 447.2,585.6 447.9,585.8 448.6,585.4 449.3,586.3 450.0,585.6 450.8,585.9 451.5,585.4 452.2,585.7 452.9,585.9 453.6,586.2 454.3,584.5 455.1,585.8 455.8,586.2 456.5,586.0 457.2,585.7 457.9,585.9 458.7,585.3 459.4,585.9 460.1,586.0 460.8,586.1 461.5,586.6 462.3,586.1 463.0,586.1 463.7,586.3 464.4,585.9 465.1,585.7 465.9,586.2 466.6,586.3 467.3,586.8 468.0,586.0 468.7,585.9 469.4,587.4 470.2,586.1 470.9,586.9 471.6,587.0 472.3,587.3 473.0,587.1 473.8,587.4 474.5,587.7 475.2,587.8 475.9,586.9 476.6,587.5 477.4,587.7 478.1,587.2 478.8,588.1 479.5,588.0 480.2,588.2 481.0,588.3 481.7,588.1 482.4,588.5 483.1,588.3 483.8,589.1 484.5,589.2 485.3,589.0 486.0,588.8 486.7,588.9 487.4,589.2 488.1,589.6 488.9,589.5 489.6,589.8 490.3,589.3 491.0,589.6 491.7,590.3 492.5,589.8 493.2,590.1 493.9,589.9 494.6,590.6 495.3,591.4 496.1,591.0 496.8,591.1 497.5,590.6" fill="none" stroke="#80f000" stroke-width="2" stroke-linejoin="round"/>
<polyline points="354.4,630.8 355.1,629.2 355.8,628.5 356.6,627.2 357.3,625.4 358.0,623.5 358.7,622.6 359.4,621.7 360.2,620.2 360.9,618.7 361.6,617.1 362.3,616.2 363.0,615.2 363.7,614.1 364.5,613.0 365.2,612.3 365.9,611.1 366.6,610.2 367.3,608.9 368.1,608.5 368.8,607.4 369.5,607.2 370.2,605.8 370.9,605.2 371.7,604.7 372.4,603.7 373.1,602.6 373.8,602.2 374.5,600.9 375.3,600.0 376.0,599.1 376.7,598.3 377.4,598.4 378.1,597.0 378.8,596.5 379.6,595.2 380.3,594.7 381.0,593.9 381.7,593.0 382.4,592.6 383.2,591.6 383.9,591.1 384.6,589.5 385.3,589.6 386.0,588.8 386.8,588.6 387.5,587.9 388.2,587.0 388.9,585.8 389.6,585.2 390.3,584.7 391.1,584.4 391.8,583.0 392.5,583.3 393.2,582.6 393.9,581.6 394.7,581.5 395.4,580.6 396.1,579.8 396.8,579.6 397.5,579.0 398.3,578.6 399.0,578.4 399.7,578.7 400.4,577.6 401.1,576.8 401.9,576.9 402.6,576.2 403.3,575.5 404.0,574.8 404.7,575.2 405.4,574.6 406.2,574.0 406.9,573.5 407.6,573.7 408.3,572.3 409.0,572.8 409.8,571.9 410.5,571.9 411.2,571.4 411.9,570.6 412.6,570.6 413.4,570.5 414.1,570.5 414.8,570.1 415.5,570.0 416.2,568.6 417.0,569.5 417.7,569.5 418.4,567.9 419.1,567.7 419.8,568.0 420.5,567.4 421.3,567.7 422.0,567.4 422.7,566.9 423.4,566.8 424.1,566.8 424.9,566.0 425.6,566.1 426.3,566.1 426.3,575.8 427.0,575.4 427.7,577.5 428.5,578.4 429.2,578.1 429.9,578.1 430.6,579.2 431.3,578.9 432.1,578.6 432.8,578.3 433.5,578.8 434.2,578.4 434.9,578.2 435.7,578.3 436.4,579.0 437.1,578.9 437.8,579.1 438.5,578.4 439.2,578.5 440.0,579.0 440.7,578.5 441.4,578.1 442.1,579.4 442.8,579.5 443.6,578.7 444.3,579.4 445.0,579.2 445.7,579.4 446.4,579.2 447.2,577.9 447.9,579.3 448.6,579.8 449.3,578.7 450.0,579.3 450.8,579.0 451.5,579.5 452.2,579.4 452.9,579.2 453.6,580.0 454.3,579.5 455.1,579.4 455.8,580.1 456.5,579.1 457.2,579.3 457.9,580.2 458.7,579.1 459.4,580.4 460.1,580.1 460.8,579.8 461.5,580.8 462.3,579.7 463.0,580.5 463.7,580.0 464.4,580.7 465.1,579.5 465.9,580.7 466.6,580.7 467.3,580.7 468.0,581.0 468.7,581.3 469.4,581.5 470.2,580.6 470.9,581.0 471.6,581.4 472.3,581.5 473.0,582.2 473.8,582.0 474.5,582.0 475.2,582.2 475.9,582.4 476.6,582.0 477.4,582.1 478.1,582.8 478.8,582.9 479.5,583.0 480.2,583.9 481.0,583.2 481.7,583.7 482.4,584.1 483.1,583.8 483.8,584.4 484.5,583.9 485.3,584.1 486.0,585.1 486.7,585.1 487.4,585.1 488.1,585.0 488.9,585.7 489.6,585.4 490.3,586.5 491.0,586.1 491.7,586.5 492.5,586.5 493.2,586.9 493.9,588.0 494.6,586.9 495.3,587.0 496.1,588.2 496.8,586.9 497.5,588.3" fill="none" stroke="#ccf279" stroke-width="2" stroke-linejoin="round"/>
<line x1="426.30" y1="535" x2="426.30" y2="630.9" stroke="#000" stroke-width="1.6" stroke-dasharray="1.6 3.85"/>
<line x1="354.3" y1="534.15" x2="354.3" y2="631.9" stroke="#000" stroke-width="2"/>
<line x1="353.3" y1="630.9" x2="499.20" y2="630.9" stroke="#000" stroke-width="2"/>
<line x1="346.3" y1="631.00" x2="354.3" y2="631.00" stroke="#000" stroke-width="2"/>
<text transform="translate(343.80,635.30) scale(1,1.04)" font-size="12.5" text-anchor="end" fill="#0d0d0d">0</text>
<line x1="346.3" y1="599.05" x2="354.3" y2="599.05" stroke="#000" stroke-width="2"/>
<text transform="translate(343.80,603.35) scale(1,1.04)" font-size="12.5" text-anchor="end" fill="#0d0d0d">50</text>
<line x1="346.3" y1="567.10" x2="354.3" y2="567.10" stroke="#000" stroke-width="2"/>
<text transform="translate(343.80,571.40) scale(1,1.04)" font-size="12.5" text-anchor="end" fill="#0d0d0d">100</text>
<line x1="346.3" y1="535.15" x2="354.3" y2="535.15" stroke="#000" stroke-width="2"/>
<text transform="translate(343.80,539.45) scale(1,1.04)" font-size="12.5" text-anchor="end" fill="#0d0d0d">150</text>
<line x1="354.40" y1="630.9" x2="354.40" y2="637.4" stroke="#000" stroke-width="2"/>
<text transform="translate(354.40,652.60) scale(1,1.04)" font-size="12.5" text-anchor="middle" fill="#0d0d0d">0</text>
<line x1="390.35" y1="630.9" x2="390.35" y2="637.4" stroke="#000" stroke-width="2"/>
<text transform="translate(390.35,652.60) scale(1,1.04)" font-size="12.5" text-anchor="middle" fill="#0d0d0d">50</text>
<line x1="426.30" y1="630.9" x2="426.30" y2="637.4" stroke="#000" stroke-width="2"/>
<text transform="translate(426.30,652.60) scale(1,1.04)" font-size="12.5" text-anchor="middle" fill="#0d0d0d">100</text>
<line x1="462.25" y1="630.9" x2="462.25" y2="637.4" stroke="#000" stroke-width="2"/>
<text transform="translate(462.25,652.60) scale(1,1.04)" font-size="12.5" text-anchor="middle" fill="#0d0d0d">150</text>
<line x1="498.20" y1="630.9" x2="498.20" y2="637.4" stroke="#000" stroke-width="2"/>
<text transform="translate(498.20,652.60) scale(1,1.04)" font-size="12.5" text-anchor="middle" fill="#0d0d0d">200</text>
<text transform="translate(428.60,673.00) scale(1,1.04)" font-size="13" text-anchor="middle" fill="#0d0d0d">Time (min)</text>
<text transform="translate(314.0,582.0) rotate(-90) scale(0.872,1)" font-size="13.4" text-anchor="middle" fill="#0d0d0d">Normalized turbidity at 395 nm</text>
<text transform="translate(374.80,527.50) scale(1,1.04)" font-size="13.2" fill="#0d0d0d">5 μM (GS)<tspan font-size="8.40" dy="4.6">4</tspan><tspan dy="-4.6">-FUS</tspan></text>
</g>
<rect x="550.8" y="526.30" width="15.8" height="3.4" fill="#ccf279"/>
<text transform="translate(578.10,530.10) scale(1,1.04)" font-size="13.2" fill="#0d0d0d">No Kapβ2</text>
<rect x="550.8" y="541.80" width="15.8" height="3.4" fill="#80f000"/>
<text transform="translate(578.10,547.20) scale(1,1.04)" font-size="13.2" fill="#0d0d0d">2.5 μM Kapβ2</text>
<rect x="550.8" y="557.30" width="15.8" height="3.4" fill="#4b8a00"/>
<text transform="translate(578.10,562.30) scale(1,1.04)" font-size="13.2" fill="#0d0d0d">5 μM Kapβ2</text>
<g>
<polygon points="73.8,802.7 75.3,801.5 76.8,803.0 78.3,800.7 79.8,801.9 81.2,802.2 82.7,801.0 84.2,799.5 85.7,799.5 87.2,799.9 88.7,801.0 90.2,799.8 91.7,798.7 93.2,799.4 94.6,796.6 96.1,798.7 97.6,799.3 99.1,799.6 100.6,800.8 102.1,801.3 103.6,801.9 105.1,801.0 106.6,798.4 108.0,799.8 109.5,797.8 111.0,797.1 112.5,796.8 114.0,796.5 115.5,797.8 117.0,797.0 118.5,797.6 120.0,795.9 121.4,796.4 122.9,796.0 124.4,795.6 125.9,796.4 127.4,794.8 128.9,795.9 130.4,796.1 131.9,794.8 133.4,796.4 134.8,795.2 136.3,794.9 137.8,794.1 139.3,793.9 140.8,793.6 142.3,792.9 143.8,791.3 145.3,793.1 146.8,793.5 148.2,790.5 149.7,791.7 151.2,790.0 152.7,790.9 154.2,790.9 155.7,790.5 157.2,788.2 158.7,787.2 160.2,788.1 161.7,784.8 163.1,784.4 164.6,786.5 166.1,784.3 167.6,783.1 169.1,784.7 170.6,784.0 172.1,783.3 173.6,784.2 175.1,782.7 176.5,782.8 178.0,784.2 179.5,781.8 181.0,782.5 182.5,780.9 184.0,782.9 185.5,780.9 187.0,781.3 188.5,781.5 189.9,780.4 191.4,780.3 192.9,780.6 194.4,780.8 195.9,780.8 197.4,779.8 198.9,778.9 200.4,779.5 201.9,778.7 203.3,778.6 204.8,779.2 206.3,779.6 207.8,778.5 209.3,778.4 210.8,776.3 212.3,781.0 213.8,778.2 215.3,778.0 216.7,779.0 218.2,778.9 219.7,778.3 221.2,778.9 222.7,776.5 222.7,796.8 221.2,796.0 219.7,795.6 218.2,795.2 216.7,795.1 215.3,795.7 213.8,797.7 212.3,795.9 210.8,796.1 209.3,795.6 207.8,796.1 206.3,796.0 204.8,797.2 203.3,795.9 201.9,798.3 200.4,797.5 198.9,796.7 197.4,797.2 195.9,798.3 194.4,796.3 192.9,798.0 191.4,797.7 189.9,797.7 188.5,798.7 187.0,799.4 185.5,798.5 184.0,798.8 182.5,797.7 181.0,798.9 179.5,797.8 178.0,798.0 176.5,800.9 175.1,799.6 173.6,798.1 172.1,799.5 170.6,799.3 169.1,802.1 167.6,799.0 166.1,799.9 164.6,800.4 163.1,801.1 161.7,803.1 160.2,802.9 158.7,804.1 157.2,803.7 155.7,803.9 154.2,805.5 152.7,803.8 151.2,803.3 149.7,807.0 148.2,804.3 146.8,806.0 145.3,806.3 143.8,807.1 142.3,807.3 140.8,808.7 139.3,807.5 137.8,805.2 136.3,808.2 134.8,808.7 133.4,808.3 131.9,807.9 130.4,809.1 128.9,808.0 127.4,810.0 125.9,808.7 124.4,808.0 122.9,807.8 121.4,808.9 120.0,808.6 118.5,809.2 117.0,809.3 115.5,808.6 114.0,809.3 112.5,809.0 111.0,809.6 109.5,810.1 108.0,809.7 106.6,810.5 105.1,813.1 103.6,814.6 102.1,812.8 100.6,813.3 99.1,811.8 97.6,809.4 96.1,811.0 94.6,809.2 93.2,810.2 91.7,809.3 90.2,812.3 88.7,811.0 87.2,811.3 85.7,812.0 84.2,810.3 82.7,812.2 81.2,813.5 79.8,811.9 78.3,811.7 76.8,812.2 75.3,812.0 73.8,813.4" fill="#cbaf8c" stroke="none"/>
<polygon points="73.8,804.0 75.3,802.0 76.8,802.7 78.3,800.1 79.8,801.7 81.2,800.8 82.7,802.4 84.2,803.0 85.7,801.5 87.2,803.0 88.7,802.2 90.2,801.7 91.7,801.6 93.2,801.4 94.6,801.0 96.1,801.0 97.6,800.3 99.1,799.8 100.6,803.5 102.1,805.8 103.6,805.9 105.1,805.5 106.6,805.8 108.0,800.4 109.5,798.9 111.0,797.7 112.5,796.3 114.0,796.9 115.5,796.2 117.0,796.5 118.5,795.1 120.0,800.3 121.4,800.9 122.9,799.1 124.4,799.9 125.9,797.3 127.4,797.9 128.9,797.1 130.4,799.0 131.9,797.9 133.4,797.8 134.8,796.0 136.3,801.3 137.8,799.3 139.3,797.6 140.8,799.5 142.3,798.9 143.8,798.6 145.3,799.7 146.8,794.7 148.2,796.5 149.7,794.4 151.2,794.3 152.7,793.4 154.2,791.7 155.7,794.2 157.2,793.2 158.7,791.2 160.2,789.9 161.7,790.2 163.1,791.7 164.6,788.2 166.1,788.4 167.6,788.1 169.1,787.7 170.6,785.9 172.1,787.0 173.6,789.4 175.1,785.9 176.5,782.2 178.0,783.9 179.5,783.4 181.0,783.8 182.5,781.5 184.0,782.0 185.5,782.7 187.0,780.2 188.5,781.6 189.9,779.3 191.4,779.8 192.9,777.0 194.4,776.7 195.9,775.7 197.4,774.6 198.9,775.0 200.4,775.3 201.9,773.3 203.3,774.9 204.8,772.3 206.3,773.7 207.8,771.1 209.3,770.7 210.8,771.6 212.3,771.4 213.8,771.0 215.3,767.4 216.7,770.0 218.2,769.2 219.7,767.5 221.2,768.5 222.7,766.9 222.7,776.0 221.2,777.3 219.7,776.4 218.2,778.0 216.7,777.3 215.3,778.1 213.8,778.7 212.3,780.7 210.8,780.6 209.3,783.9 207.8,783.1 206.3,781.3 204.8,782.4 203.3,784.3 201.9,783.7 200.4,783.4 198.9,787.1 197.4,786.2 195.9,785.4 194.4,786.6 192.9,786.9 191.4,787.7 189.9,789.5 188.5,787.8 187.0,789.8 185.5,791.7 184.0,791.3 182.5,790.5 181.0,792.8 179.5,794.4 178.0,792.8 176.5,794.9 175.1,794.9 173.6,796.3 172.1,795.5 170.6,794.5 169.1,795.7 167.6,797.6 166.1,799.1 164.6,797.4 163.1,801.6 161.7,800.6 160.2,797.9 158.7,801.0 157.2,800.9 155.7,801.2 154.2,800.7 152.7,802.1 151.2,802.9 149.7,802.6 148.2,804.6 146.8,805.7 145.3,805.0 143.8,807.8 142.3,808.4 140.8,808.3 139.3,805.7 137.8,806.8 136.3,808.1 134.8,805.2 133.4,806.4 131.9,805.9 130.4,806.0 128.9,804.3 127.4,805.5 125.9,807.0 124.4,808.0 122.9,806.1 121.4,809.4 120.0,805.6 118.5,803.5 117.0,805.0 115.5,805.6 114.0,804.6 112.5,804.6 111.0,806.4 109.5,807.2 108.0,808.5 106.6,815.9 105.1,814.1 103.6,813.1 102.1,812.5 100.6,809.4 99.1,809.4 97.6,810.6 96.1,809.1 94.6,808.5 93.2,809.0 91.7,808.8 90.2,809.2 88.7,809.0 87.2,808.0 85.7,808.6 84.2,809.3 82.7,809.3 81.2,806.7 79.8,807.1 78.3,807.8 76.8,809.4 75.3,811.3 73.8,811.0" fill="#ffc98c" stroke="none"/>
<polygon points="73.8,806.9 75.3,807.1 76.8,806.2 78.3,805.3 79.8,804.8 81.2,806.7 82.7,806.9 84.2,806.6 85.7,805.5 87.2,805.1 88.7,804.6 90.2,805.0 91.7,804.3 93.2,805.8 94.6,803.6 96.1,804.1 97.6,804.9 99.1,802.9 100.6,803.7 102.1,800.8 103.6,800.2 105.1,797.4 106.6,792.7 108.0,789.4 109.5,788.0 111.0,782.7 112.5,781.1 114.0,780.4 115.5,780.4 117.0,778.3 118.5,774.7 120.0,777.0 121.4,773.8 122.9,773.5 124.4,772.1 125.9,772.0 127.4,770.4 128.9,768.8 130.4,764.5 131.9,765.3 133.4,764.4 134.8,763.7 136.3,763.6 137.8,760.9 139.3,761.7 140.8,759.0 142.3,757.1 143.8,760.2 145.3,757.8 146.8,758.3 148.2,755.8 149.7,754.9 151.2,753.7 152.7,751.1 154.2,750.9 155.7,750.5 157.2,750.4 158.7,748.2 160.2,749.3 161.7,747.6 163.1,747.8 164.6,746.6 166.1,745.3 167.6,742.7 169.1,745.2 170.6,744.0 172.1,740.5 173.6,740.7 175.1,740.2 176.5,740.2 178.0,741.1 179.5,738.5 181.0,740.6 182.5,737.8 184.0,738.4 185.5,736.6 187.0,737.7 188.5,737.7 189.9,736.4 191.4,736.4 192.9,736.3 194.4,735.4 195.9,736.9 197.4,737.2 198.9,735.2 200.4,734.6 201.9,734.8 203.3,735.1 204.8,734.9 206.3,733.7 207.8,735.1 209.3,734.3 210.8,735.3 212.3,733.8 213.8,731.5 215.3,731.6 216.7,734.0 218.2,732.9 219.7,731.6 221.2,731.4 222.7,731.6 222.7,733.8 221.2,735.3 219.7,733.5 218.2,734.4 216.7,736.3 215.3,736.0 213.8,736.0 212.3,737.2 210.8,737.5 209.3,737.3 207.8,738.6 206.3,740.7 204.8,740.9 203.3,739.7 201.9,741.1 200.4,739.9 198.9,741.3 197.4,742.8 195.9,741.7 194.4,742.0 192.9,744.5 191.4,745.1 189.9,744.8 188.5,744.7 187.0,747.5 185.5,748.4 184.0,748.0 182.5,749.1 181.0,749.8 179.5,753.2 178.0,752.6 176.5,755.3 175.1,755.6 173.6,756.6 172.1,758.2 170.6,758.3 169.1,758.3 167.6,760.9 166.1,762.3 164.6,764.2 163.1,764.9 161.7,764.1 160.2,765.5 158.7,767.4 157.2,767.3 155.7,769.4 154.2,769.5 152.7,771.1 151.2,772.1 149.7,773.8 148.2,774.0 146.8,772.6 145.3,774.8 143.8,774.9 142.3,776.7 140.8,777.1 139.3,778.3 137.8,780.0 136.3,781.4 134.8,780.3 133.4,783.9 131.9,783.5 130.4,784.2 128.9,786.0 127.4,788.5 125.9,789.8 124.4,789.1 122.9,789.3 121.4,791.2 120.0,792.2 118.5,793.7 117.0,793.7 115.5,794.9 114.0,796.6 112.5,796.1 111.0,796.6 109.5,800.1 108.0,803.4 106.6,804.4 105.1,806.5 103.6,807.7 102.1,810.3 100.6,808.8 99.1,809.5 97.6,807.5 96.1,810.7 94.6,808.7 93.2,810.7 91.7,810.9 90.2,813.1 88.7,811.4 87.2,810.5 85.7,811.6 84.2,814.9 82.7,812.7 81.2,812.3 79.8,812.9 78.3,813.9 76.8,813.2 75.3,814.8 73.8,813.5" fill="#ffebcd" stroke="none"/>
<polyline points="73.8,808.1 75.3,806.8 76.8,807.6 78.3,806.2 79.8,806.9 81.2,807.8 82.7,806.6 84.2,804.9 85.7,805.8 87.2,805.6 88.7,806.0 90.2,806.1 91.7,804.0 93.2,804.8 94.6,802.9 96.1,804.8 97.6,804.4 99.1,805.7 100.6,807.1 102.1,807.0 103.6,808.2 105.1,807.0 106.6,804.5 108.0,804.8 109.5,804.0 111.0,803.3 112.5,802.9 114.0,802.9 115.5,803.2 117.0,803.1 118.5,803.4 120.0,802.2 121.4,802.7 122.9,801.9 124.4,801.8 125.9,802.6 127.4,802.4 128.9,801.9 130.4,802.6 131.9,801.3 133.4,802.3 134.8,801.9 136.3,801.6 137.8,799.6 139.3,800.7 140.8,801.2 142.3,800.1 143.8,799.2 145.3,799.7 146.8,799.7 148.2,797.4 149.7,799.3 151.2,796.6 152.7,797.4 154.2,798.2 155.7,797.2 157.2,796.0 158.7,795.6 160.2,795.5 161.7,794.0 163.1,792.7 164.6,793.4 166.1,792.1 167.6,791.0 169.1,793.4 170.6,791.7 172.1,791.4 173.6,791.1 175.1,791.2 176.5,791.9 178.0,791.1 179.5,789.8 181.0,790.7 182.5,789.3 184.0,790.8 185.5,789.7 187.0,790.3 188.5,790.1 189.9,789.0 191.4,789.0 192.9,789.3 194.4,788.5 195.9,789.5 197.4,788.5 198.9,787.8 200.4,788.5 201.9,788.5 203.3,787.2 204.8,788.2 206.3,787.8 207.8,787.3 209.3,787.0 210.8,786.2 212.3,788.4 213.8,788.0 215.3,786.8 216.7,787.0 218.2,787.0 219.7,787.0 221.2,787.4 222.7,786.7" fill="none" stroke="#8b4e00" stroke-width="2" stroke-linejoin="round"/>
<polyline points="73.8,807.5 75.3,806.6 76.8,806.1 78.3,803.9 79.8,804.4 81.2,803.8 82.7,805.8 84.2,806.2 85.7,805.1 87.2,805.5 88.7,805.6 90.2,805.5 91.7,805.2 93.2,805.2 94.6,804.8 96.1,805.1 97.6,805.4 99.1,804.6 100.6,806.5 102.1,809.1 103.6,809.5 105.1,809.8 106.6,810.8 108.0,804.5 109.5,803.0 111.0,802.1 112.5,800.5 114.0,800.7 115.5,800.9 117.0,800.8 118.5,799.3 120.0,803.0 121.4,805.1 122.9,802.6 124.4,803.9 125.9,802.2 127.4,801.7 128.9,800.7 130.4,802.5 131.9,801.9 133.4,802.1 134.8,800.6 136.3,804.7 137.8,803.0 139.3,801.6 140.8,803.9 142.3,803.7 143.8,803.2 145.3,802.4 146.8,800.2 148.2,800.5 149.7,798.5 151.2,798.6 152.7,797.7 154.2,796.2 155.7,797.7 157.2,797.0 158.7,796.1 160.2,793.9 161.7,795.4 163.1,796.6 164.6,792.8 166.1,793.7 167.6,792.8 169.1,791.7 170.6,790.2 172.1,791.2 173.6,792.8 175.1,790.4 176.5,788.6 178.0,788.3 179.5,788.9 181.0,788.3 182.5,786.0 184.0,786.6 185.5,787.2 187.0,785.0 188.5,784.7 189.9,784.4 191.4,783.7 192.9,782.0 194.4,781.7 195.9,780.6 197.4,780.4 198.9,781.1 200.4,779.4 201.9,778.5 203.3,779.6 204.8,777.4 206.3,777.5 207.8,777.1 209.3,777.3 210.8,776.1 212.3,776.0 213.8,774.9 215.3,772.8 216.7,773.6 218.2,773.6 219.7,772.0 221.2,772.9 222.7,771.4" fill="none" stroke="#ff8800" stroke-width="2" stroke-linejoin="round"/>
<polyline points="73.8,810.2 75.3,810.9 76.8,809.7 78.3,809.6 79.8,808.8 81.2,809.5 82.7,809.8 84.2,810.7 85.7,808.5 87.2,807.8 88.7,808.0 90.2,809.1 91.7,807.6 93.2,808.3 94.6,806.1 96.1,807.4 97.6,806.2 99.1,806.2 100.6,806.2 102.1,805.5 103.6,804.0 105.1,802.0 106.6,798.5 108.0,796.4 109.5,794.1 111.0,789.6 112.5,788.6 114.0,788.5 115.5,787.7 117.0,786.0 118.5,784.2 120.0,784.6 121.4,782.5 122.9,781.4 124.4,780.6 125.9,780.9 127.4,779.5 128.9,777.4 130.4,774.4 131.9,774.4 133.4,774.1 134.8,772.0 136.3,772.5 137.8,770.4 139.3,770.0 140.8,768.1 142.3,766.9 143.8,767.6 145.3,766.3 146.8,765.5 148.2,764.9 149.7,764.3 151.2,762.9 152.7,761.1 154.2,760.2 155.7,759.9 157.2,758.8 158.7,757.8 160.2,757.4 161.7,755.8 163.1,756.3 164.6,755.4 166.1,753.8 167.6,751.8 169.1,751.7 170.6,751.1 172.1,749.3 173.6,748.6 175.1,747.9 176.5,747.7 178.0,746.9 179.5,745.8 181.0,745.2 182.5,743.5 184.0,743.2 185.5,742.5 187.0,742.6 188.5,741.2 189.9,740.6 191.4,740.7 192.9,740.4 194.4,738.7 195.9,739.3 197.4,740.0 198.9,738.3 200.4,737.2 201.9,737.9 203.3,737.4 204.8,737.9 206.3,737.2 207.8,736.9 209.3,735.8 210.8,736.4 212.3,735.5 213.8,733.8 215.3,733.8 216.7,735.1 218.2,733.6 219.7,732.6 221.2,733.4 222.7,732.7" fill="none" stroke="#ffc873" stroke-width="2" stroke-linejoin="round"/>
<line x1="73.8" y1="715.10" x2="73.8" y2="815.8" stroke="#000" stroke-width="2"/>
<line x1="72.8" y1="814.8" x2="223.70" y2="814.8" stroke="#000" stroke-width="2"/>
<line x1="65.8" y1="814.60" x2="73.8" y2="814.60" stroke="#000" stroke-width="2"/>
<text transform="translate(63.30,818.90) scale(1,1.04)" font-size="12.5" text-anchor="end" fill="#0d0d0d">0</text>
<line x1="65.8" y1="798.18" x2="73.8" y2="798.18" stroke="#000" stroke-width="2"/>
<text transform="translate(63.30,802.48) scale(1,1.04)" font-size="12.5" text-anchor="end" fill="#0d0d0d">20</text>
<line x1="65.8" y1="781.77" x2="73.8" y2="781.77" stroke="#000" stroke-width="2"/>
<text transform="translate(63.30,786.07) scale(1,1.04)" font-size="12.5" text-anchor="end" fill="#0d0d0d">40</text>
<line x1="65.8" y1="765.35" x2="73.8" y2="765.35" stroke="#000" stroke-width="2"/>
<text transform="translate(63.30,769.65) scale(1,1.04)" font-size="12.5" text-anchor="end" fill="#0d0d0d">60</text>
<line x1="65.8" y1="748.94" x2="73.8" y2="748.94" stroke="#000" stroke-width="2"/>
<text transform="translate(63.30,753.24) scale(1,1.04)" font-size="12.5" text-anchor="end" fill="#0d0d0d">80</text>
<line x1="65.8" y1="732.52" x2="73.8" y2="732.52" stroke="#000" stroke-width="2"/>
<text transform="translate(63.30,736.82) scale(1,1.04)" font-size="12.5" text-anchor="end" fill="#0d0d0d">100</text>
<line x1="65.8" y1="716.10" x2="73.8" y2="716.10" stroke="#000" stroke-width="2"/>
<text transform="translate(63.30,720.40) scale(1,1.04)" font-size="12.5" text-anchor="end" fill="#0d0d0d">120</text>
<line x1="73.80" y1="814.8" x2="73.80" y2="821.3" stroke="#000" stroke-width="2"/>
<text transform="translate(73.80,837.60) scale(1,1.04)" font-size="12.5" text-anchor="middle" fill="#0d0d0d">0</text>
<line x1="103.58" y1="814.8" x2="103.58" y2="821.3" stroke="#000" stroke-width="2"/>
<text transform="translate(103.58,837.60) scale(1,1.04)" font-size="12.5" text-anchor="middle" fill="#0d0d0d">20</text>
<line x1="133.36" y1="814.8" x2="133.36" y2="821.3" stroke="#000" stroke-width="2"/>
<text transform="translate(133.36,837.60) scale(1,1.04)" font-size="12.5" text-anchor="middle" fill="#0d0d0d">40</text>
<line x1="163.14" y1="814.8" x2="163.14" y2="821.3" stroke="#000" stroke-width="2"/>
<text transform="translate(163.14,837.60) scale(1,1.04)" font-size="12.5" text-anchor="middle" fill="#0d0d0d">60</text>
<line x1="192.92" y1="814.8" x2="192.92" y2="821.3" stroke="#000" stroke-width="2"/>
<text transform="translate(192.92,837.60) scale(1,1.04)" font-size="12.5" text-anchor="middle" fill="#0d0d0d">80</text>
<line x1="222.70" y1="814.8" x2="222.70" y2="821.3" stroke="#000" stroke-width="2"/>
<text transform="translate(222.70,837.60) scale(1,1.04)" font-size="12.5" text-anchor="middle" fill="#0d0d0d">100</text>
<text transform="translate(153.70,856.50) scale(1,1.04)" font-size="13" text-anchor="middle" fill="#0d0d0d">Time (min)</text>
<text transform="translate(35.6,769.75) rotate(-90) scale(0.872,1)" font-size="13.4" text-anchor="middle" fill="#0d0d0d">Normalized turbidity at 395 nm</text>
<text transform="translate(101.60,710.60) scale(1,1.04)" font-size="13.2" fill="#0d0d0d">5 μM (GS)<tspan font-size="8.40" dy="4.6">10</tspan><tspan dy="-4.6">-FUS</tspan></text>
</g>
<g>
<polygon points="358.1,809.6 358.8,808.1 359.5,807.1 360.2,806.0 361.0,804.9 361.7,803.7 362.4,802.6 363.1,801.3 363.8,800.4 364.5,798.7 365.3,797.7 366.0,796.9 366.7,795.7 367.4,794.8 368.1,794.3 368.8,793.6 369.6,792.3 370.3,792.1 371.0,790.8 371.7,790.1 372.4,789.7 373.1,789.3 373.9,788.0 374.6,787.2 375.3,786.6 376.0,786.7 376.7,785.3 377.4,784.6 378.1,784.0 378.9,783.6 379.6,783.1 380.3,781.8 381.0,781.5 381.7,781.2 382.4,780.0 383.2,780.0 383.9,779.0 384.6,778.8 385.3,778.0 386.0,777.4 386.7,776.3 387.5,776.5 388.2,775.8 388.9,774.8 389.6,774.2 390.3,773.9 391.0,773.5 391.8,772.9 392.5,772.6 393.2,771.3 393.9,770.8 394.6,770.2 395.3,769.6 396.0,769.1 396.8,768.4 397.5,768.4 398.2,767.1 398.9,767.0 399.6,766.8 400.3,766.4 401.1,765.7 401.8,765.0 402.5,764.6 403.2,764.0 403.9,763.3 404.6,763.3 405.4,762.8 406.1,762.5 406.8,762.5 407.5,762.0 408.2,761.6 408.9,760.9 409.7,761.2 410.4,759.9 411.1,760.4 411.8,760.1 412.5,759.7 413.2,759.5 413.9,759.0 414.7,758.7 415.4,758.0 416.1,758.3 416.8,757.6 417.5,757.5 418.2,757.3 419.0,757.7 419.7,756.9 420.4,756.7 421.1,756.8 421.8,756.2 422.5,755.9 423.3,755.8 424.0,755.9 424.7,756.1 425.4,755.6 426.1,755.9 426.8,755.5 427.6,755.8 428.3,755.7 429.0,755.3 429.7,755.5 429.7,768.6 430.4,778.8 431.1,778.4 431.9,780.0 432.6,779.3 433.3,779.3 434.0,779.9 434.7,780.0 435.4,779.8 436.2,779.3 436.9,780.7 437.6,780.7 438.3,781.2 439.0,780.6 439.7,781.5 440.4,781.0 441.2,781.3 441.9,781.1 442.6,781.2 443.3,781.8 444.0,781.5 444.7,782.5 445.5,782.1 446.2,782.0 446.9,782.5 447.6,782.7 448.3,782.7 449.0,782.7 449.8,781.9 450.5,782.7 451.2,783.1 451.9,782.7 452.6,783.1 453.3,783.3 454.1,783.6 454.8,783.0 455.5,783.8 456.2,783.6 456.9,784.1 457.6,784.2 458.3,783.6 459.1,784.0 459.8,784.2 460.5,784.2 461.2,784.3 461.9,785.4 462.6,784.8 463.4,784.6 464.1,784.8 464.8,784.5 465.5,785.0 466.2,785.3 466.9,785.5 467.7,785.2 468.4,785.9 469.1,786.2 469.8,786.4 470.5,786.1 471.2,785.9 472.0,787.2 472.7,786.1 473.4,786.8 474.1,787.6 474.8,787.3 475.5,786.8 476.2,788.1 477.0,787.1 477.7,787.4 478.4,787.4 479.1,787.6 479.8,788.0 480.5,788.2 481.3,787.7 482.0,789.4 482.7,789.9 483.4,789.2 484.1,788.9 484.8,789.2 485.6,790.3 486.3,789.8 487.0,790.4 487.7,789.8 488.4,789.5 489.1,790.3 489.9,790.8 490.6,790.1 491.3,790.3 492.0,790.4 492.7,790.8 493.4,792.0 494.1,791.6 494.9,791.5 495.6,791.8 496.3,791.8 497.0,792.0 497.7,792.8 498.4,792.6 499.2,792.4 499.9,792.7 500.6,793.1 500.6,810.2 499.9,810.0 499.2,810.7 498.4,809.7 497.7,808.8 497.0,809.0 496.3,808.8 495.6,809.1 494.9,809.1 494.1,808.6 493.4,808.2 492.7,808.5 492.0,808.0 491.3,807.7 490.6,807.4 489.9,806.6 489.1,807.0 488.4,807.0 487.7,806.4 487.0,806.2 486.3,806.5 485.6,805.9 484.8,805.6 484.1,806.1 483.4,806.0 482.7,805.3 482.0,805.4 481.3,806.4 480.5,805.4 479.8,805.0 479.1,805.2 478.4,804.7 477.7,804.6 477.0,803.9 476.2,804.1 475.5,804.3 474.8,803.6 474.1,803.4 473.4,803.5 472.7,802.8 472.0,803.2 471.2,802.9 470.5,802.1 469.8,803.7 469.1,802.3 468.4,802.5 467.7,801.6 466.9,802.2 466.2,801.4 465.5,802.7 464.8,802.3 464.1,802.0 463.4,801.7 462.6,801.1 461.9,800.5 461.2,801.5 460.5,800.5 459.8,800.6 459.1,800.7 458.3,800.5 457.6,800.7 456.9,799.5 456.2,800.7 455.5,799.8 454.8,799.7 454.1,799.3 453.3,799.5 452.6,799.3 451.9,799.7 451.2,799.0 450.5,799.0 449.8,798.8 449.0,798.8 448.3,798.7 447.6,798.1 446.9,798.5 446.2,798.5 445.5,798.1 444.7,798.0 444.0,797.9 443.3,797.5 442.6,797.8 441.9,798.3 441.2,797.5 440.4,797.4 439.7,797.5 439.0,797.0 438.3,796.5 437.6,796.8 436.9,796.7 436.2,796.3 435.4,795.5 434.7,795.6 434.0,795.6 433.3,796.3 432.6,795.3 431.9,795.2 431.1,795.1 430.4,794.1 429.7,784.1 429.7,760.6 429.0,760.5 428.3,760.9 427.6,761.0 426.8,760.7 426.1,761.2 425.4,760.9 424.7,761.4 424.0,761.3 423.3,761.3 422.5,761.3 421.8,761.7 421.1,762.4 420.4,762.3 419.7,762.5 419.0,763.4 418.2,763.0 417.5,763.2 416.8,763.4 416.1,764.1 415.4,763.8 414.7,764.6 413.9,764.9 413.2,765.5 412.5,765.8 411.8,766.2 411.1,766.5 410.4,766.1 409.7,767.4 408.9,767.2 408.2,767.9 407.5,768.3 406.8,768.9 406.1,768.9 405.4,769.2 404.6,769.8 403.9,769.8 403.2,770.5 402.5,771.2 401.8,771.6 401.1,772.4 400.3,773.1 399.6,773.5 398.9,773.8 398.2,773.9 397.5,775.2 396.8,775.3 396.0,776.0 395.3,776.6 394.6,777.2 393.9,777.8 393.2,778.4 392.5,779.7 391.8,780.0 391.0,780.6 390.3,781.1 389.6,781.4 388.9,782.0 388.2,783.1 387.5,783.8 386.7,783.7 386.0,784.8 385.3,785.4 384.6,786.3 383.9,786.4 383.2,787.5 382.4,787.5 381.7,788.8 381.0,789.1 380.3,789.4 379.6,790.8 378.9,791.3 378.1,791.7 377.4,792.4 376.7,793.0 376.0,794.4 375.3,794.4 374.6,795.0 373.9,795.7 373.1,797.1 372.4,797.4 371.7,797.9 371.0,798.5 370.3,799.8 369.6,800.1 368.8,801.3 368.1,802.0 367.4,802.5 366.7,803.5 366.0,804.7 365.3,805.4 364.5,806.4 363.8,808.1 363.1,808.9 362.4,810.2 361.7,811.4 361.0,812.5 360.2,813.6 359.5,814.7 358.8,815.8 358.1,817.2" fill="#c5a680" stroke="none"/>
<polygon points="358.1,813.5 358.8,812.7 359.5,811.4 360.2,810.1 361.0,809.5 361.7,808.5 362.4,807.2 363.1,805.5 363.8,804.1 364.5,803.2 365.3,802.5 366.0,800.6 366.7,800.4 367.4,799.0 368.1,798.1 368.8,796.8 369.6,795.6 370.3,795.5 371.0,794.2 371.7,793.0 372.4,792.6 373.1,791.4 373.9,790.4 374.6,790.0 375.3,789.1 376.0,787.8 376.7,787.0 377.4,786.0 378.1,784.4 378.9,783.9 379.6,783.2 380.3,782.6 381.0,781.2 381.7,780.8 382.4,779.1 383.2,778.3 383.9,778.4 384.6,777.3 385.3,776.1 386.0,775.3 386.7,774.7 387.5,773.8 388.2,772.4 388.9,772.0 389.6,771.6 390.3,770.5 391.0,769.3 391.8,768.4 392.5,768.3 393.2,767.7 393.9,767.2 394.6,766.5 395.3,765.6 396.0,764.7 396.8,764.2 397.5,764.1 398.2,763.2 398.9,762.6 399.6,762.2 400.3,762.6 401.1,761.3 401.8,760.9 402.5,759.9 403.2,760.0 403.9,759.3 404.6,758.9 405.4,758.2 406.1,757.9 406.8,757.4 407.5,756.9 408.2,756.7 408.9,756.4 409.7,756.3 410.4,755.8 411.1,754.8 411.8,755.1 412.5,754.6 413.2,754.5 413.9,754.2 414.7,754.7 415.4,752.9 416.1,753.5 416.8,753.1 417.5,752.1 418.2,753.0 419.0,752.0 419.7,751.9 420.4,752.0 421.1,750.9 421.8,751.1 422.5,750.5 423.3,750.4 424.0,749.7 424.7,748.9 425.4,749.8 426.1,748.8 426.8,749.1 427.6,748.7 428.3,748.9 429.0,748.4 429.7,747.9 429.7,761.3 430.4,765.8 431.1,768.5 431.9,769.4 432.6,769.1 433.3,769.3 434.0,769.9 434.7,770.4 435.4,769.4 436.2,770.6 436.9,770.3 437.6,770.5 438.3,771.9 439.0,770.5 439.7,771.6 440.4,770.8 441.2,771.2 441.9,772.2 442.6,771.6 443.3,772.3 444.0,772.2 444.7,772.1 445.5,772.5 446.2,771.7 446.9,772.6 447.6,772.2 448.3,772.5 449.0,772.2 449.8,772.1 450.5,773.3 451.2,772.6 451.9,772.8 452.6,772.9 453.3,773.3 454.1,773.3 454.8,773.6 455.5,772.8 456.2,773.7 456.9,773.3 457.6,773.7 458.3,773.4 459.1,774.2 459.8,774.1 460.5,773.4 461.2,774.0 461.9,774.9 462.6,774.9 463.4,774.6 464.1,774.3 464.8,775.5 465.5,774.3 466.2,774.4 466.9,774.3 467.7,775.8 468.4,774.0 469.1,775.2 469.8,775.8 470.5,774.6 471.2,775.4 472.0,775.0 472.7,774.3 473.4,775.2 474.1,776.0 474.8,775.4 475.5,776.3 476.2,774.8 477.0,775.5 477.7,776.0 478.4,775.5 479.1,776.4 479.8,775.5 480.5,776.1 481.3,775.9 482.0,776.0 482.7,776.2 483.4,775.9 484.1,776.9 484.8,776.4 485.6,776.4 486.3,777.3 487.0,776.5 487.7,776.5 488.4,776.8 489.1,777.0 489.9,776.8 490.6,777.8 491.3,777.0 492.0,777.5 492.7,777.1 493.4,777.0 494.1,777.0 494.9,777.5 495.6,777.7 496.3,777.0 497.0,777.5 497.7,778.0 498.4,777.7 499.2,777.8 499.9,778.0 500.6,777.1 500.6,785.9 499.9,785.2 499.2,785.9 498.4,784.8 497.7,784.7 497.0,784.7 496.3,785.3 495.6,785.0 494.9,785.8 494.1,785.0 493.4,785.1 492.7,784.0 492.0,785.8 491.3,784.4 490.6,785.0 489.9,784.5 489.1,784.3 488.4,784.4 487.7,785.0 487.0,784.9 486.3,784.0 485.6,783.6 484.8,784.3 484.1,784.5 483.4,784.0 482.7,784.0 482.0,784.0 481.3,784.3 480.5,783.7 479.8,784.1 479.1,783.4 478.4,782.9 477.7,783.1 477.0,782.8 476.2,783.1 475.5,784.0 474.8,783.6 474.1,783.2 473.4,783.3 472.7,783.1 472.0,783.3 471.2,782.9 470.5,783.3 469.8,783.2 469.1,782.4 468.4,782.3 467.7,782.3 466.9,782.3 466.2,781.7 465.5,782.2 464.8,782.7 464.1,782.5 463.4,782.3 462.6,782.0 461.9,782.4 461.2,781.9 460.5,782.6 459.8,780.8 459.1,781.5 458.3,782.0 457.6,781.4 456.9,781.8 456.2,780.6 455.5,781.3 454.8,781.0 454.1,781.0 453.3,780.8 452.6,781.5 451.9,780.7 451.2,780.2 450.5,780.3 449.8,779.8 449.0,780.2 448.3,779.9 447.6,780.8 446.9,779.3 446.2,780.1 445.5,779.8 444.7,778.9 444.0,779.3 443.3,778.9 442.6,779.3 441.9,778.8 441.2,779.0 440.4,778.9 439.7,779.5 439.0,778.3 438.3,778.4 437.6,778.1 436.9,778.1 436.2,778.0 435.4,777.6 434.7,777.5 434.0,778.0 433.3,776.9 432.6,777.3 431.9,777.1 431.1,776.3 430.4,773.1 429.7,769.4 429.7,753.0 429.0,753.5 428.3,754.1 427.6,753.9 426.8,754.3 426.1,754.1 425.4,755.1 424.7,754.2 424.0,755.1 423.3,755.7 422.5,756.0 421.8,756.5 421.1,756.4 420.4,757.5 419.7,757.4 419.0,757.6 418.2,758.6 417.5,757.8 416.8,758.8 416.1,759.3 415.4,758.7 414.7,760.6 413.9,760.1 413.2,760.4 412.5,760.6 411.8,761.1 411.1,760.8 410.4,761.9 409.7,762.4 408.9,762.5 408.2,762.8 407.5,763.1 406.8,763.6 406.1,764.1 405.4,764.4 404.6,765.2 403.9,765.6 403.2,766.3 402.5,766.3 401.8,767.3 401.1,767.7 400.3,769.0 399.6,768.6 398.9,769.0 398.2,769.5 397.5,770.5 396.8,770.6 396.0,771.1 395.3,772.0 394.6,772.9 393.9,773.6 393.2,774.1 392.5,774.6 391.8,774.7 391.0,775.6 390.3,776.7 389.6,777.8 388.9,778.2 388.2,778.6 387.5,780.0 386.7,780.8 386.0,781.3 385.3,782.1 384.6,783.2 383.9,784.4 383.2,784.2 382.4,785.0 381.7,786.6 381.0,786.9 380.3,788.3 379.6,788.8 378.9,789.5 378.1,789.9 377.4,791.4 376.7,792.4 376.0,793.2 375.3,794.4 374.6,795.2 373.9,795.5 373.1,796.5 372.4,797.6 371.7,798.0 371.0,799.0 370.3,800.3 369.6,800.3 368.8,801.5 368.1,802.7 367.4,803.6 366.7,805.0 366.0,805.0 365.3,806.9 364.5,807.5 363.8,808.3 363.1,809.7 362.4,811.3 361.7,812.6 361.0,813.5 360.2,814.1 359.5,815.3 358.8,816.6 358.1,817.3" fill="#ffc98c" stroke="none"/>
<polygon points="358.1,813.5 358.8,812.0 359.5,810.7 360.2,809.2 361.0,809.1 361.7,807.7 362.4,806.5 363.1,805.1 363.8,803.9 364.5,803.1 365.3,801.5 366.0,800.9 366.7,799.2 367.4,798.7 368.1,797.3 368.8,796.2 369.6,795.5 370.3,794.7 371.0,793.8 371.7,793.0 372.4,791.2 373.1,790.7 373.9,789.4 374.6,789.0 375.3,788.1 376.0,787.5 376.7,786.5 377.4,786.1 378.1,784.4 378.9,783.4 379.6,782.4 380.3,781.4 381.0,781.3 381.7,780.9 382.4,778.9 383.2,778.1 383.9,777.6 384.6,776.7 385.3,775.3 386.0,774.1 386.7,773.7 387.5,773.2 388.2,771.9 388.9,771.0 389.6,771.1 390.3,769.7 391.0,769.6 391.8,768.6 392.5,767.8 393.2,767.3 393.9,767.2 394.6,765.9 395.3,766.0 396.0,764.7 396.8,765.0 397.5,764.0 398.2,763.4 398.9,763.0 399.6,762.1 400.3,761.6 401.1,760.6 401.8,760.6 402.5,759.9 403.2,760.2 403.9,759.0 404.6,758.6 405.4,758.0 406.1,757.6 406.8,758.0 407.5,757.7 408.2,757.1 408.9,756.7 409.7,755.7 410.4,756.4 411.1,755.4 411.8,754.7 412.5,754.8 413.2,754.8 413.9,754.3 414.7,753.6 415.4,753.2 416.1,753.2 416.8,752.7 417.5,752.1 418.2,752.4 419.0,751.3 419.7,752.0 420.4,750.8 421.1,751.6 421.8,750.4 422.5,750.5 423.3,750.7 424.0,749.9 424.7,749.4 425.4,749.1 426.1,749.0 426.8,748.8 427.6,748.5 428.3,748.0 429.0,747.4 429.7,747.3 429.7,756.2 430.4,758.6 431.1,761.1 431.9,761.1 432.6,761.4 433.3,761.1 434.0,761.4 434.7,762.4 435.4,761.5 436.2,762.2 436.9,762.7 437.6,762.5 438.3,762.5 439.0,762.7 439.7,763.1 440.4,763.5 441.2,764.4 441.9,763.5 442.6,763.8 443.3,763.9 444.0,764.1 444.7,763.8 445.5,764.0 446.2,764.1 446.9,765.0 447.6,764.7 448.3,764.2 449.0,765.6 449.8,764.5 450.5,764.9 451.2,765.0 451.9,766.2 452.6,765.9 453.3,765.8 454.1,765.9 454.8,765.2 455.5,766.2 456.2,766.8 456.9,766.4 457.6,766.4 458.3,767.1 459.1,767.8 459.8,767.0 460.5,766.7 461.2,767.1 461.9,766.7 462.6,767.7 463.4,767.2 464.1,767.3 464.8,767.3 465.5,767.4 466.2,768.5 466.9,767.7 467.7,767.7 468.4,768.9 469.1,768.4 469.8,768.7 470.5,768.4 471.2,768.5 472.0,769.1 472.7,769.3 473.4,769.4 474.1,768.9 474.8,768.4 475.5,769.3 476.2,769.4 477.0,769.5 477.7,769.1 478.4,769.0 479.1,770.0 479.8,770.3 480.5,769.4 481.3,770.2 482.0,770.8 482.7,770.0 483.4,770.0 484.1,770.7 484.8,770.3 485.6,770.5 486.3,770.5 487.0,770.3 487.7,770.2 488.4,771.1 489.1,770.6 489.9,771.0 490.6,771.1 491.3,771.9 492.0,771.6 492.7,771.1 493.4,771.9 494.1,772.3 494.9,771.8 495.6,772.1 496.3,772.1 497.0,771.7 497.7,772.4 498.4,771.6 499.2,772.8 499.9,772.7 500.6,772.0 500.6,782.2 499.9,782.8 499.2,783.5 498.4,783.3 497.7,782.8 497.0,782.6 496.3,781.9 495.6,782.6 494.9,781.9 494.1,781.6 493.4,782.4 492.7,781.7 492.0,781.4 491.3,782.3 490.6,781.0 489.9,781.6 489.1,781.8 488.4,781.1 487.7,781.7 487.0,780.8 486.3,781.2 485.6,781.5 484.8,780.8 484.1,781.2 483.4,780.1 482.7,780.7 482.0,780.8 481.3,780.6 480.5,780.9 479.8,780.6 479.1,779.8 478.4,779.7 477.7,779.7 477.0,778.6 476.2,779.8 475.5,778.7 474.8,778.8 474.1,779.1 473.4,778.8 472.7,778.7 472.0,779.1 471.2,779.5 470.5,777.9 469.8,778.9 469.1,778.3 468.4,779.5 467.7,778.4 466.9,778.8 466.2,778.0 465.5,777.6 464.8,777.2 464.1,777.5 463.4,777.6 462.6,777.2 461.9,777.5 461.2,777.4 460.5,776.9 459.8,777.5 459.1,777.3 458.3,777.1 457.6,777.1 456.9,776.2 456.2,776.5 455.5,776.0 454.8,776.9 454.1,776.5 453.3,776.1 452.6,775.1 451.9,776.1 451.2,775.2 450.5,775.6 449.8,775.6 449.0,775.1 448.3,775.9 447.6,775.2 446.9,774.7 446.2,774.6 445.5,774.4 444.7,774.5 444.0,774.1 443.3,773.4 442.6,773.3 441.9,774.3 441.2,774.2 440.4,772.7 439.7,772.6 439.0,773.0 438.3,772.5 437.6,773.0 436.9,771.9 436.2,772.3 435.4,772.5 434.7,771.9 434.0,771.7 433.3,772.0 432.6,771.6 431.9,771.1 431.1,770.3 430.4,769.3 429.7,766.3 429.7,754.9 429.0,755.0 428.3,755.7 427.6,756.2 426.8,756.5 426.1,756.7 425.4,756.9 424.7,757.3 424.0,757.7 423.3,758.6 422.5,758.4 421.8,758.3 421.1,759.6 420.4,758.8 419.7,760.1 419.0,759.4 418.2,760.5 417.5,760.2 416.8,760.9 416.1,761.4 415.4,761.5 414.7,761.9 413.9,762.7 413.2,763.2 412.5,763.2 411.8,763.2 411.1,763.9 410.4,765.0 409.7,764.2 408.9,765.3 408.2,765.8 407.5,766.4 406.8,766.7 406.1,766.3 405.4,766.8 404.6,767.4 403.9,767.8 403.2,769.0 402.5,768.7 401.8,769.4 401.1,769.5 400.3,770.5 399.6,771.1 398.9,771.9 398.2,772.4 397.5,773.0 396.8,774.0 396.0,773.7 395.3,775.0 394.6,775.0 393.9,776.2 393.2,776.3 392.5,776.8 391.8,777.6 391.0,778.6 390.3,778.7 389.6,780.1 388.9,780.0 388.2,780.9 387.5,782.2 386.7,782.6 386.0,782.9 385.3,784.1 384.6,785.5 383.9,786.4 383.2,786.8 382.4,787.5 381.7,789.5 381.0,789.9 380.3,789.9 379.6,790.7 378.9,791.7 378.1,792.5 377.4,794.2 376.7,794.5 376.0,795.4 375.3,795.9 374.6,796.7 373.9,796.9 373.1,798.1 372.4,798.6 371.7,800.3 371.0,800.9 370.3,801.7 369.6,802.3 368.8,803.0 368.1,803.9 367.4,805.2 366.7,805.6 366.0,807.2 365.3,807.7 364.5,809.2 363.8,809.9 363.1,811.0 362.4,812.2 361.7,813.3 361.0,814.6 360.2,814.6 359.5,816.0 358.8,817.2 358.1,818.6" fill="#ffe4b9" stroke="none"/>
<polyline points="358.1,813.4 358.8,811.9 359.5,810.9 360.2,809.8 361.0,808.7 361.7,807.5 362.4,806.4 363.1,805.1 363.8,804.2 364.5,802.6 365.3,801.6 366.0,800.8 366.7,799.6 367.4,798.6 368.1,798.1 368.8,797.4 369.6,796.2 370.3,796.0 371.0,794.6 371.7,794.0 372.4,793.6 373.1,793.2 373.9,791.9 374.6,791.1 375.3,790.5 376.0,790.6 376.7,789.1 377.4,788.5 378.1,787.9 378.9,787.4 379.6,787.0 380.3,785.6 381.0,785.3 381.7,785.0 382.4,783.8 383.2,783.7 383.9,782.7 384.6,782.6 385.3,781.7 386.0,781.1 386.7,780.0 387.5,780.2 388.2,779.5 388.9,778.4 389.6,777.8 390.3,777.5 391.0,777.0 391.8,776.4 392.5,776.1 393.2,774.8 393.9,774.3 394.6,773.7 395.3,773.1 396.0,772.6 396.8,771.9 397.5,771.8 398.2,770.5 398.9,770.4 399.6,770.1 400.3,769.7 401.1,769.0 401.8,768.3 402.5,767.9 403.2,767.3 403.9,766.6 404.6,766.5 405.4,766.0 406.1,765.7 406.8,765.7 407.5,765.2 408.2,764.7 408.9,764.1 409.7,764.3 410.4,763.0 411.1,763.4 411.8,763.2 412.5,762.7 413.2,762.5 413.9,761.9 414.7,761.6 415.4,760.9 416.1,761.2 416.8,760.5 417.5,760.3 418.2,760.2 419.0,760.6 419.7,759.7 420.4,759.5 421.1,759.6 421.8,758.9 422.5,758.6 423.3,758.6 424.0,758.6 424.7,758.8 425.4,758.2 426.1,758.5 426.8,758.1 427.6,758.4 428.3,758.3 429.0,757.9 429.7,758.1 429.7,776.3 430.4,786.5 431.1,786.7 431.9,787.6 432.6,787.3 433.3,787.8 434.0,787.8 434.7,787.8 435.4,787.7 436.2,787.8 436.9,788.7 437.6,788.8 438.3,788.8 439.0,788.8 439.7,789.5 440.4,789.2 441.2,789.4 441.9,789.7 442.6,789.5 443.3,789.7 444.0,789.7 444.7,790.3 445.5,790.1 446.2,790.2 446.9,790.5 447.6,790.4 448.3,790.7 449.0,790.7 449.8,790.4 450.5,790.9 451.2,791.0 451.9,791.2 452.6,791.2 453.3,791.4 454.1,791.4 454.8,791.4 455.5,791.8 456.2,792.2 456.9,791.8 457.6,792.5 458.3,792.1 459.1,792.4 459.8,792.4 460.5,792.4 461.2,792.9 461.9,793.0 462.6,792.9 463.4,793.2 464.1,793.4 464.8,793.4 465.5,793.8 466.2,793.4 466.9,793.9 467.7,793.4 468.4,794.2 469.1,794.3 469.8,795.1 470.5,794.1 471.2,794.4 472.0,795.2 472.7,794.4 473.4,795.1 474.1,795.5 474.8,795.5 475.5,795.5 476.2,796.1 477.0,795.5 477.7,796.0 478.4,796.0 479.1,796.4 479.8,796.5 480.5,796.8 481.3,797.0 482.0,797.4 482.7,797.6 483.4,797.6 484.1,797.5 484.8,797.4 485.6,798.1 486.3,798.1 487.0,798.3 487.7,798.1 488.4,798.3 489.1,798.7 489.9,798.7 490.6,798.7 491.3,799.0 492.0,799.2 492.7,799.7 493.4,800.1 494.1,800.1 494.9,800.3 495.6,800.4 496.3,800.3 497.0,800.5 497.7,800.8 498.4,801.2 499.2,801.5 499.9,801.4 500.6,801.6" fill="none" stroke="#8b4e00" stroke-width="2" stroke-linejoin="round"/>
<polyline points="358.1,815.4 358.8,814.6 359.5,813.4 360.2,812.1 361.0,811.5 361.7,810.5 362.4,809.2 363.1,807.6 363.8,806.2 364.5,805.4 365.3,804.7 366.0,802.8 366.7,802.7 367.4,801.3 368.1,800.4 368.8,799.2 369.6,798.0 370.3,797.9 371.0,796.6 371.7,795.5 372.4,795.1 373.1,793.9 373.9,793.0 374.6,792.6 375.3,791.7 376.0,790.5 376.7,789.7 377.4,788.7 378.1,787.2 378.9,786.7 379.6,786.0 380.3,785.5 381.0,784.0 381.7,783.7 382.4,782.0 383.2,781.3 383.9,781.4 384.6,780.3 385.3,779.1 386.0,778.3 386.7,777.7 387.5,776.9 388.2,775.5 388.9,775.1 389.6,774.7 390.3,773.6 391.0,772.5 391.8,771.6 392.5,771.4 393.2,770.9 393.9,770.4 394.6,769.7 395.3,768.8 396.0,767.9 396.8,767.4 397.5,767.3 398.2,766.3 398.9,765.8 399.6,765.4 400.3,765.8 401.1,764.5 401.8,764.1 402.5,763.1 403.2,763.1 403.9,762.4 404.6,762.1 405.4,761.3 406.1,761.0 406.8,760.5 407.5,760.0 408.2,759.8 408.9,759.4 409.7,759.4 410.4,758.9 411.1,757.8 411.8,758.1 412.5,757.6 413.2,757.4 413.9,757.1 414.7,757.7 415.4,755.8 416.1,756.4 416.8,756.0 417.5,755.0 418.2,755.8 419.0,754.8 419.7,754.6 420.4,754.7 421.1,753.6 421.8,753.8 422.5,753.2 423.3,753.0 424.0,752.4 424.7,751.6 425.4,752.4 426.1,751.5 426.8,751.7 427.6,751.3 428.3,751.5 429.0,751.0 429.7,750.5 429.7,765.3 430.4,769.5 431.1,772.4 431.9,773.2 432.6,773.2 433.3,773.1 434.0,773.9 434.7,774.0 435.4,773.5 436.2,774.3 436.9,774.2 437.6,774.3 438.3,775.2 439.0,774.4 439.7,775.5 440.4,774.9 441.2,775.1 441.9,775.5 442.6,775.4 443.3,775.6 444.0,775.7 444.7,775.5 445.5,776.2 446.2,775.9 446.9,775.9 447.6,776.5 448.3,776.2 449.0,776.2 449.8,775.9 450.5,776.8 451.2,776.4 451.9,776.7 452.6,777.2 453.3,777.0 454.1,777.1 454.8,777.3 455.5,777.0 456.2,777.1 456.9,777.6 457.6,777.5 458.3,777.7 459.1,777.8 459.8,777.5 460.5,778.0 461.2,778.0 461.9,778.7 462.6,778.5 463.4,778.5 464.1,778.4 464.8,779.1 465.5,778.2 466.2,778.1 466.9,778.3 467.7,779.1 468.4,778.2 469.1,778.8 469.8,779.5 470.5,778.9 471.2,779.2 472.0,779.2 472.7,778.7 473.4,779.3 474.1,779.6 474.8,779.5 475.5,780.2 476.2,778.9 477.0,779.1 477.7,779.6 478.4,779.2 479.1,779.9 479.8,779.8 480.5,779.9 481.3,780.1 482.0,780.0 482.7,780.1 483.4,779.9 484.1,780.7 484.8,780.4 485.6,780.0 486.3,780.6 487.0,780.7 487.7,780.7 488.4,780.6 489.1,780.6 489.9,780.6 490.6,781.4 491.3,780.7 492.0,781.6 492.7,780.6 493.4,781.1 494.1,781.0 494.9,781.7 495.6,781.4 496.3,781.2 497.0,781.1 497.7,781.4 498.4,781.3 499.2,781.9 499.9,781.6 500.6,781.5" fill="none" stroke="#ff8800" stroke-width="2" stroke-linejoin="round"/>
<polyline points="358.1,816.1 358.8,814.6 359.5,813.3 360.2,811.9 361.0,811.8 361.7,810.5 362.4,809.4 363.1,808.1 363.8,806.9 364.5,806.2 365.3,804.6 366.0,804.1 366.7,802.4 367.4,801.9 368.1,800.6 368.8,799.6 369.6,798.9 370.3,798.2 371.0,797.4 371.7,796.6 372.4,794.9 373.1,794.4 373.9,793.1 374.6,792.8 375.3,792.0 376.0,791.5 376.7,790.5 377.4,790.1 378.1,788.4 378.9,787.6 379.6,786.5 380.3,785.7 381.0,785.6 381.7,785.2 382.4,783.2 383.2,782.5 383.9,782.0 384.6,781.1 385.3,779.7 386.0,778.5 386.7,778.1 387.5,777.7 388.2,776.4 388.9,775.5 389.6,775.6 390.3,774.2 391.0,774.1 391.8,773.1 392.5,772.3 393.2,771.8 393.9,771.7 394.6,770.5 395.3,770.5 396.0,769.2 396.8,769.5 397.5,768.5 398.2,767.9 398.9,767.4 399.6,766.6 400.3,766.1 401.1,765.0 401.8,765.0 402.5,764.3 403.2,764.6 403.9,763.4 404.6,763.0 405.4,762.4 406.1,761.9 406.8,762.3 407.5,762.0 408.2,761.5 408.9,761.0 409.7,759.9 410.4,760.7 411.1,759.6 411.8,758.9 412.5,759.0 413.2,759.0 413.9,758.5 414.7,757.7 415.4,757.3 416.1,757.3 416.8,756.8 417.5,756.2 418.2,756.4 419.0,755.4 419.7,756.1 420.4,754.8 421.1,755.6 421.8,754.4 422.5,754.5 423.3,754.7 424.0,753.8 424.7,753.3 425.4,753.0 426.1,752.8 426.8,752.6 427.6,752.3 428.3,751.9 429.0,751.2 429.7,751.1 429.7,761.2 430.4,763.9 431.1,765.7 431.9,766.1 432.6,766.5 433.3,766.5 434.0,766.6 434.7,767.2 435.4,767.0 436.2,767.3 436.9,767.3 437.6,767.7 438.3,767.5 439.0,767.8 439.7,767.9 440.4,768.1 441.2,769.3 441.9,768.9 442.6,768.5 443.3,768.6 444.0,769.1 444.7,769.2 445.5,769.2 446.2,769.3 446.9,769.9 447.6,770.0 448.3,770.1 449.0,770.4 449.8,770.0 450.5,770.2 451.2,770.1 451.9,771.1 452.6,770.5 453.3,770.9 454.1,771.2 454.8,771.0 455.5,771.1 456.2,771.7 456.9,771.3 457.6,771.7 458.3,772.1 459.1,772.6 459.8,772.3 460.5,771.8 461.2,772.2 461.9,772.1 462.6,772.5 463.4,772.4 464.1,772.4 464.8,772.3 465.5,772.5 466.2,773.3 466.9,773.3 467.7,773.1 468.4,774.2 469.1,773.4 469.8,773.8 470.5,773.2 471.2,774.0 472.0,774.1 472.7,774.0 473.4,774.1 474.1,774.0 474.8,773.6 475.5,774.0 476.2,774.6 477.0,774.1 477.7,774.4 478.4,774.3 479.1,774.9 479.8,775.4 480.5,775.2 481.3,775.4 482.0,775.8 482.7,775.3 483.4,775.0 484.1,775.9 484.8,775.5 485.6,776.0 486.3,775.8 487.0,775.6 487.7,776.0 488.4,776.1 489.1,776.2 489.9,776.3 490.6,776.0 491.3,777.1 492.0,776.5 492.7,776.4 493.4,777.1 494.1,777.0 494.9,776.8 495.6,777.3 496.3,777.0 497.0,777.1 497.7,777.6 498.4,777.5 499.2,778.1 499.9,777.7 500.6,777.1" fill="none" stroke="#ffc873" stroke-width="2" stroke-linejoin="round"/>
<line x1="429.70" y1="720" x2="429.70" y2="815.9" stroke="#000" stroke-width="1.6" stroke-dasharray="1.6 3.85"/>
<line x1="358.0" y1="719.39" x2="358.0" y2="816.9" stroke="#000" stroke-width="2"/>
<line x1="357.0" y1="815.9" x2="502.30" y2="815.9" stroke="#000" stroke-width="2"/>
<line x1="350.0" y1="815.90" x2="358.0" y2="815.90" stroke="#000" stroke-width="2"/>
<text transform="translate(347.50,820.20) scale(1,1.04)" font-size="12.5" text-anchor="end" fill="#0d0d0d">0</text>
<line x1="350.0" y1="784.06" x2="358.0" y2="784.06" stroke="#000" stroke-width="2"/>
<text transform="translate(347.50,788.36) scale(1,1.04)" font-size="12.5" text-anchor="end" fill="#0d0d0d">50</text>
<line x1="350.0" y1="752.23" x2="358.0" y2="752.23" stroke="#000" stroke-width="2"/>
<text transform="translate(347.50,756.53) scale(1,1.04)" font-size="12.5" text-anchor="end" fill="#0d0d0d">100</text>
<line x1="350.0" y1="720.39" x2="358.0" y2="720.39" stroke="#000" stroke-width="2"/>
<text transform="translate(347.50,724.69) scale(1,1.04)" font-size="12.5" text-anchor="end" fill="#0d0d0d">150</text>
<line x1="358.10" y1="815.9" x2="358.10" y2="822.4" stroke="#000" stroke-width="2"/>
<text transform="translate(358.10,837.60) scale(1,1.04)" font-size="12.5" text-anchor="middle" fill="#0d0d0d">0</text>
<line x1="393.90" y1="815.9" x2="393.90" y2="822.4" stroke="#000" stroke-width="2"/>
<text transform="translate(393.90,837.60) scale(1,1.04)" font-size="12.5" text-anchor="middle" fill="#0d0d0d">50</text>
<line x1="429.70" y1="815.9" x2="429.70" y2="822.4" stroke="#000" stroke-width="2"/>
<text transform="translate(429.70,837.60) scale(1,1.04)" font-size="12.5" text-anchor="middle" fill="#0d0d0d">100</text>
<line x1="465.50" y1="815.9" x2="465.50" y2="822.4" stroke="#000" stroke-width="2"/>
<text transform="translate(465.50,837.60) scale(1,1.04)" font-size="12.5" text-anchor="middle" fill="#0d0d0d">150</text>
<line x1="501.30" y1="815.9" x2="501.30" y2="822.4" stroke="#000" stroke-width="2"/>
<text transform="translate(501.30,837.60) scale(1,1.04)" font-size="12.5" text-anchor="middle" fill="#0d0d0d">200</text>
<text transform="translate(429.80,854.40) scale(1,1.04)" font-size="13" text-anchor="middle" fill="#0d0d0d">Time (min)</text>
<text transform="translate(314.4,765.5) rotate(-90) scale(0.872,1)" font-size="13.4" text-anchor="middle" fill="#0d0d0d">Normalized turbidity at 395 nm</text>
<text transform="translate(375.30,711.90) scale(1,1.04)" font-size="13.2" fill="#0d0d0d">5 μM (GS)<tspan font-size="8.40" dy="4.6">10</tspan><tspan dy="-4.6">-FUS</tspan></text>
</g>
<rect x="551.1" y="707.70" width="15.8" height="3.4" fill="#ffc873"/>
<text transform="translate(578.70,711.80) scale(1,1.04)" font-size="13.2" fill="#0d0d0d">No Kapβ2</text>
<rect x="551.1" y="723.30" width="15.8" height="3.4" fill="#ff8800"/>
<text transform="translate(578.70,728.90) scale(1,1.04)" font-size="13.2" fill="#0d0d0d">2.5 μM Kapβ2</text>
<rect x="551.1" y="738.70" width="15.8" height="3.4" fill="#8b4e00"/>
<text transform="translate(578.70,744.30) scale(1,1.04)" font-size="13.2" fill="#0d0d0d">5 μM Kapβ2</text>
<rect x="62.40" y="931.50" width="10.70" height="167.00" fill="#8f1f8b"/>
<rect x="77.90" y="931.50" width="10.60" height="167.00" fill="#d0f57a"/>
<rect x="93.70" y="931.50" width="10.80" height="167.00" fill="#ff8c00"/>
<rect x="120.00" y="983.70" width="10.10" height="114.80" fill="#8f1f8b"/>
<rect x="135.80" y="1019.60" width="10.10" height="78.90" fill="#d0f57a"/>
<rect x="151.20" y="1006.40" width="10.50" height="92.10" fill="#ff8c00"/>
<rect x="177.10" y="1040.90" width="10.50" height="57.60" fill="#8f1f8b"/>
<rect x="192.70" y="1069.10" width="10.20" height="29.40" fill="#d0f57a"/>
<rect x="208.10" y="1047.10" width="10.50" height="51.40" fill="#ff8c00"/>
<line x1="125.00" y1="975.50" x2="125.00" y2="989.50" stroke="#000" stroke-width="2"/>
<line x1="121.60" y1="975.50" x2="128.40" y2="975.50" stroke="#000" stroke-width="2"/>
<line x1="121.60" y1="989.50" x2="128.40" y2="989.50" stroke="#000" stroke-width="2"/>
<line x1="140.80" y1="996.30" x2="140.80" y2="1042.30" stroke="#000" stroke-width="2"/>
<line x1="137.40" y1="996.30" x2="144.20" y2="996.30" stroke="#000" stroke-width="2"/>
<line x1="137.40" y1="1042.30" x2="144.20" y2="1042.30" stroke="#000" stroke-width="2"/>
<line x1="156.40" y1="998.50" x2="156.40" y2="1011.50" stroke="#000" stroke-width="2"/>
<line x1="153.00" y1="998.50" x2="159.80" y2="998.50" stroke="#000" stroke-width="2"/>
<line x1="153.00" y1="1011.50" x2="159.80" y2="1011.50" stroke="#000" stroke-width="2"/>
<line x1="182.40" y1="1032.70" x2="182.40" y2="1049.00" stroke="#000" stroke-width="2"/>
<line x1="179.00" y1="1032.70" x2="185.80" y2="1032.70" stroke="#000" stroke-width="2"/>
<line x1="179.00" y1="1049.00" x2="185.80" y2="1049.00" stroke="#000" stroke-width="2"/>
<line x1="197.70" y1="1056.40" x2="197.70" y2="1080.50" stroke="#000" stroke-width="2"/>
<line x1="194.30" y1="1056.40" x2="201.10" y2="1056.40" stroke="#000" stroke-width="2"/>
<line x1="194.30" y1="1080.50" x2="201.10" y2="1080.50" stroke="#000" stroke-width="2"/>
<line x1="213.40" y1="1013.40" x2="213.40" y2="1080.50" stroke="#000" stroke-width="2"/>
<line x1="210.00" y1="1013.40" x2="216.80" y2="1013.40" stroke="#000" stroke-width="2"/>
<line x1="210.00" y1="1080.50" x2="216.80" y2="1080.50" stroke="#000" stroke-width="2"/>
<circle cx="125.00" cy="974.60" r="2.6" fill="#000"/>
<circle cx="122.00" cy="988.50" r="2.6" fill="#000"/>
<circle cx="128.00" cy="988.50" r="2.6" fill="#000"/>
<circle cx="125.00" cy="990.00" r="2.6" fill="#000"/>
<circle cx="140.70" cy="985.40" r="2.6" fill="#000"/>
<circle cx="137.40" cy="1026.50" r="2.6" fill="#000"/>
<circle cx="143.50" cy="1028.80" r="2.6" fill="#000"/>
<circle cx="140.60" cy="1036.40" r="2.6" fill="#000"/>
<circle cx="153.60" cy="1011.60" r="2.6" fill="#000"/>
<circle cx="159.30" cy="1008.90" r="2.6" fill="#000"/>
<circle cx="156.20" cy="998.20" r="2.6" fill="#000"/>
<circle cx="156.50" cy="1011.00" r="2.6" fill="#000"/>
<circle cx="181.80" cy="1033.00" r="2.6" fill="#000"/>
<circle cx="185.50" cy="1038.00" r="2.6" fill="#000"/>
<circle cx="181.80" cy="1049.70" r="2.6" fill="#000"/>
<circle cx="197.60" cy="1057.20" r="2.6" fill="#000"/>
<circle cx="197.60" cy="1063.40" r="2.6" fill="#000"/>
<circle cx="197.60" cy="1071.80" r="2.6" fill="#000"/>
<circle cx="197.60" cy="1083.50" r="2.6" fill="#000"/>
<circle cx="213.40" cy="1007.70" r="2.6" fill="#000"/>
<circle cx="213.40" cy="1037.10" r="2.6" fill="#000"/>
<circle cx="213.40" cy="1054.60" r="2.6" fill="#000"/>
<circle cx="213.40" cy="1088.40" r="2.6" fill="#000"/>
<line x1="64.60" y1="931.50" x2="71.00" y2="931.50" stroke="#000" stroke-width="5" stroke-linecap="round"/>
<line x1="80.10" y1="931.50" x2="86.30" y2="931.50" stroke="#000" stroke-width="5" stroke-linecap="round"/>
<line x1="95.90" y1="931.50" x2="102.30" y2="931.50" stroke="#000" stroke-width="5" stroke-linecap="round"/>
<line x1="56.4" y1="930.50" x2="56.4" y2="1099.5" stroke="#000" stroke-width="2"/>
<line x1="47.9" y1="1098.5" x2="223.5" y2="1098.5" stroke="#000" stroke-width="2"/>
<line x1="47.9" y1="1098.50" x2="56.4" y2="1098.50" stroke="#000" stroke-width="2"/>
<text transform="translate(45.90,1102.80) scale(1,1.04)" font-size="12.2" text-anchor="end" fill="#0d0d0d">0.0</text>
<line x1="47.9" y1="1065.10" x2="56.4" y2="1065.10" stroke="#000" stroke-width="2"/>
<text transform="translate(45.90,1069.40) scale(1,1.04)" font-size="12.2" text-anchor="end" fill="#0d0d0d">0.2</text>
<line x1="47.9" y1="1031.70" x2="56.4" y2="1031.70" stroke="#000" stroke-width="2"/>
<text transform="translate(45.90,1036.00) scale(1,1.04)" font-size="12.2" text-anchor="end" fill="#0d0d0d">0.4</text>
<line x1="47.9" y1="998.30" x2="56.4" y2="998.30" stroke="#000" stroke-width="2"/>
<text transform="translate(45.90,1002.60) scale(1,1.04)" font-size="12.2" text-anchor="end" fill="#0d0d0d">0.6</text>
<line x1="47.9" y1="964.90" x2="56.4" y2="964.90" stroke="#000" stroke-width="2"/>
<text transform="translate(45.90,969.20) scale(1,1.04)" font-size="12.2" text-anchor="end" fill="#0d0d0d">0.8</text>
<line x1="47.9" y1="931.50" x2="56.4" y2="931.50" stroke="#000" stroke-width="2"/>
<text transform="translate(45.90,935.80) scale(1,1.04)" font-size="12.2" text-anchor="end" fill="#0d0d0d">1.0</text>
<line x1="83.20" y1="1098.5" x2="83.20" y2="1107.0" stroke="#000" stroke-width="2"/>
<text transform="translate(69.40,1123.50) scale(1,1.04)" font-size="12.9" fill="#0d0d0d">No</text>
<text transform="translate(69.40,1139.40) scale(1,1.04)" font-size="12.9" fill="#0d0d0d">Kapβ2</text>
<line x1="140.50" y1="1098.5" x2="140.50" y2="1107.0" stroke="#000" stroke-width="2"/>
<text transform="translate(122.70,1123.50) scale(1,1.04)" font-size="12.9" fill="#0d0d0d">2.5 μM</text>
<text transform="translate(122.70,1139.40) scale(1,1.04)" font-size="12.9" fill="#0d0d0d">Kapβ2</text>
<line x1="197.60" y1="1098.5" x2="197.60" y2="1107.0" stroke="#000" stroke-width="2"/>
<text transform="translate(180.40,1123.50) scale(1,1.04)" font-size="12.9" fill="#0d0d0d">5 μM</text>
<text transform="translate(180.40,1139.40) scale(1,1.04)" font-size="12.9" fill="#0d0d0d">Kapβ2</text>
<path d="M124.5 903.7 V896.2 H156.2 V935.8" fill="none" stroke="#000" stroke-width="2"/>
<path d="M124.5 963 V929.3 H140.9 V935.8" fill="none" stroke="#000" stroke-width="2"/>
<path d="M140.9 972.2 V963 H156.2 V985.5" fill="none" stroke="#000" stroke-width="2"/>
<path d="M181.1 969.5 V981.4 M181.1 975.3 H215.1 M215.1 969.5 V981.4" fill="none" stroke="#000" stroke-width="2"/>
<text x="140.9" y="886.3" font-size="13" text-anchor="middle" fill="#0d0d0d">ns</text>
<text x="149.0" y="952.8" font-size="13" text-anchor="middle" fill="#0d0d0d">ns</text>
<text x="198.7" y="965.0" font-size="13" text-anchor="middle" fill="#0d0d0d">ns</text>
<path d="M133 912.4 V920.8 M129.4 914.5 L136.6 918.7 M129.4 918.7 L136.6 914.5" stroke="#000" stroke-width="2" fill="none"/>
<text transform="translate(18.2,1011.2) rotate(-90)" font-size="12.6" text-anchor="middle" fill="#0d0d0d">Normalized area under curve</text>
<rect x="334.20" y="978.40" width="10.60" height="119.50" fill="#8f1f8b"/>
<rect x="349.60" y="978.40" width="10.60" height="119.50" fill="#d0f57a"/>
<rect x="365.60" y="978.40" width="10.40" height="119.50" fill="#ff8c00"/>
<rect x="391.40" y="998.80" width="10.90" height="99.10" fill="#8f1f8b"/>
<rect x="407.20" y="991.80" width="10.90" height="106.10" fill="#d0f57a"/>
<rect x="422.90" y="985.00" width="11.00" height="112.90" fill="#ff8c00"/>
<rect x="449.20" y="1037.80" width="10.70" height="60.10" fill="#8f1f8b"/>
<rect x="465.00" y="1037.10" width="10.90" height="60.80" fill="#d0f57a"/>
<rect x="480.50" y="1038.90" width="10.70" height="59.00" fill="#ff8c00"/>
<line x1="396.90" y1="991.20" x2="396.90" y2="1006.50" stroke="#000" stroke-width="2"/>
<line x1="393.50" y1="991.20" x2="400.30" y2="991.20" stroke="#000" stroke-width="2"/>
<line x1="393.50" y1="1006.50" x2="400.30" y2="1006.50" stroke="#000" stroke-width="2"/>
<line x1="412.40" y1="986.80" x2="412.40" y2="1001.00" stroke="#000" stroke-width="2"/>
<line x1="409.00" y1="986.80" x2="415.80" y2="986.80" stroke="#000" stroke-width="2"/>
<line x1="409.00" y1="1001.00" x2="415.80" y2="1001.00" stroke="#000" stroke-width="2"/>
<line x1="428.40" y1="962.70" x2="428.40" y2="1003.60" stroke="#000" stroke-width="2"/>
<line x1="425.00" y1="962.70" x2="431.80" y2="962.70" stroke="#000" stroke-width="2"/>
<line x1="425.00" y1="1003.60" x2="431.80" y2="1003.60" stroke="#000" stroke-width="2"/>
<line x1="454.70" y1="1020.30" x2="454.70" y2="1054.70" stroke="#000" stroke-width="2"/>
<line x1="451.30" y1="1020.30" x2="458.10" y2="1020.30" stroke="#000" stroke-width="2"/>
<line x1="451.30" y1="1054.70" x2="458.10" y2="1054.70" stroke="#000" stroke-width="2"/>
<line x1="470.00" y1="1021.80" x2="470.00" y2="1051.40" stroke="#000" stroke-width="2"/>
<line x1="466.60" y1="1021.80" x2="473.40" y2="1021.80" stroke="#000" stroke-width="2"/>
<line x1="466.60" y1="1051.40" x2="473.40" y2="1051.40" stroke="#000" stroke-width="2"/>
<line x1="485.80" y1="1015.50" x2="485.80" y2="1059.70" stroke="#000" stroke-width="2"/>
<line x1="482.40" y1="1015.50" x2="489.20" y2="1015.50" stroke="#000" stroke-width="2"/>
<line x1="482.40" y1="1059.70" x2="489.20" y2="1059.70" stroke="#000" stroke-width="2"/>
<circle cx="335.90" cy="978.40" r="2.6" fill="#000"/>
<circle cx="342.10" cy="978.40" r="2.6" fill="#000"/>
<circle cx="396.90" cy="991.50" r="2.6" fill="#000"/>
<circle cx="396.90" cy="1006.00" r="2.6" fill="#000"/>
<circle cx="409.60" cy="986.80" r="2.6" fill="#000"/>
<circle cx="415.00" cy="984.60" r="2.6" fill="#000"/>
<circle cx="412.40" cy="994.00" r="2.6" fill="#000"/>
<circle cx="412.40" cy="999.90" r="2.6" fill="#000"/>
<circle cx="428.40" cy="962.90" r="2.6" fill="#000"/>
<circle cx="428.40" cy="992.90" r="2.6" fill="#000"/>
<circle cx="428.40" cy="998.20" r="2.6" fill="#000"/>
<circle cx="454.70" cy="1020.80" r="2.6" fill="#000"/>
<circle cx="454.70" cy="1054.20" r="2.6" fill="#000"/>
<circle cx="470.00" cy="1022.90" r="2.6" fill="#000"/>
<circle cx="470.00" cy="1028.40" r="2.6" fill="#000"/>
<circle cx="470.00" cy="1036.00" r="2.6" fill="#000"/>
<circle cx="470.00" cy="1058.00" r="2.6" fill="#000"/>
<circle cx="485.80" cy="1015.80" r="2.6" fill="#000"/>
<circle cx="485.80" cy="1044.20" r="2.6" fill="#000"/>
<circle cx="485.80" cy="1056.90" r="2.6" fill="#000"/>
<line x1="351.90" y1="978.40" x2="358.00" y2="978.40" stroke="#000" stroke-width="5" stroke-linecap="round"/>
<line x1="367.80" y1="978.40" x2="373.80" y2="978.40" stroke="#000" stroke-width="5" stroke-linecap="round"/>
<line x1="328.8" y1="953.50" x2="328.8" y2="1098.9" stroke="#000" stroke-width="2"/>
<line x1="320.3" y1="1097.9" x2="496" y2="1097.9" stroke="#000" stroke-width="2"/>
<line x1="320.3" y1="1097.90" x2="328.8" y2="1097.90" stroke="#000" stroke-width="2"/>
<text transform="translate(318.30,1102.20) scale(1,1.04)" font-size="12.4" text-anchor="end" fill="#0d0d0d">0.0</text>
<line x1="320.3" y1="1074.00" x2="328.8" y2="1074.00" stroke="#000" stroke-width="2"/>
<text transform="translate(318.30,1078.30) scale(1,1.04)" font-size="12.4" text-anchor="end" fill="#0d0d0d">0.2</text>
<line x1="320.3" y1="1050.10" x2="328.8" y2="1050.10" stroke="#000" stroke-width="2"/>
<text transform="translate(318.30,1054.40) scale(1,1.04)" font-size="12.4" text-anchor="end" fill="#0d0d0d">0.4</text>
<line x1="320.3" y1="1026.20" x2="328.8" y2="1026.20" stroke="#000" stroke-width="2"/>
<text transform="translate(318.30,1030.50) scale(1,1.04)" font-size="12.4" text-anchor="end" fill="#0d0d0d">0.6</text>
<line x1="320.3" y1="1002.30" x2="328.8" y2="1002.30" stroke="#000" stroke-width="2"/>
<text transform="translate(318.30,1006.60) scale(1,1.04)" font-size="12.4" text-anchor="end" fill="#0d0d0d">0.8</text>
<line x1="320.3" y1="978.40" x2="328.8" y2="978.40" stroke="#000" stroke-width="2"/>
<text transform="translate(318.30,982.70) scale(1,1.04)" font-size="12.4" text-anchor="end" fill="#0d0d0d">1.0</text>
<line x1="320.3" y1="954.50" x2="328.8" y2="954.50" stroke="#000" stroke-width="2"/>
<text transform="translate(318.30,958.80) scale(1,1.04)" font-size="12.4" text-anchor="end" fill="#0d0d0d">1.2</text>
<line x1="354.50" y1="1097.9" x2="354.50" y2="1106.4" stroke="#000" stroke-width="2"/>
<text transform="translate(344.00,1123.50) scale(1,1.04)" font-size="12.9" fill="#0d0d0d">No</text>
<text transform="translate(344.00,1139.40) scale(1,1.04)" font-size="12.9" fill="#0d0d0d">Kapβ2</text>
<line x1="412.40" y1="1097.9" x2="412.40" y2="1106.4" stroke="#000" stroke-width="2"/>
<text transform="translate(395.00,1123.50) scale(1,1.04)" font-size="12.9" fill="#0d0d0d">2.5 μM</text>
<text transform="translate(395.00,1139.40) scale(1,1.04)" font-size="12.9" fill="#0d0d0d">Kapβ2</text>
<line x1="469.80" y1="1097.9" x2="469.80" y2="1106.4" stroke="#000" stroke-width="2"/>
<text transform="translate(452.00,1123.50) scale(1,1.04)" font-size="12.9" fill="#0d0d0d">5 μM</text>
<text transform="translate(452.00,1139.40) scale(1,1.04)" font-size="12.9" fill="#0d0d0d">Kapβ2</text>
<path d="M396.3 936.0 V946.4 M396.3 941.2 H428.6 M428.6 936.0 V946.4" fill="none" stroke="#000" stroke-width="2"/>
<path d="M454.0 990.0 V1000.2 M454.0 995.1 H486.2 M486.2 990.0 V1000.2" fill="none" stroke="#000" stroke-width="2"/>
<text x="412.4" y="934.2" font-size="13" text-anchor="middle" fill="#0d0d0d">ns</text>
<text x="469.8" y="987.4" font-size="13" text-anchor="middle" fill="#0d0d0d">ns</text>
<text transform="translate(288.0,1019.4) rotate(-90)" font-size="13.3" text-anchor="middle" fill="#0d0d0d">Normalized area under curve</text>
<rect x="553.1" y="888.5" width="21.2" height="11.4" fill="#8f1f8b"/>
<text transform="translate(581.50,897.00) scale(1,1.04)" font-size="13" fill="#0d0d0d">(GS)<tspan font-size="8.20" dy="4.2">1</tspan><tspan dy="-4.2">-FUS</tspan></text>
<rect x="553.1" y="907.1" width="21.2" height="11.4" fill="#d0f57a"/>
<text transform="translate(581.50,915.60) scale(1,1.04)" font-size="13" fill="#0d0d0d">(GS)<tspan font-size="8.20" dy="4.2">4</tspan><tspan dy="-4.2">-FUS</tspan></text>
<rect x="553.1" y="926.1" width="21.2" height="11.4" fill="#ff8c00"/>
<text transform="translate(581.50,934.60) scale(1,1.04)" font-size="13" fill="#0d0d0d">(GS)<tspan font-size="8.20" dy="4.2">10</tspan><tspan dy="-4.2">-FUS</tspan></text>
</svg>
</body></html>
